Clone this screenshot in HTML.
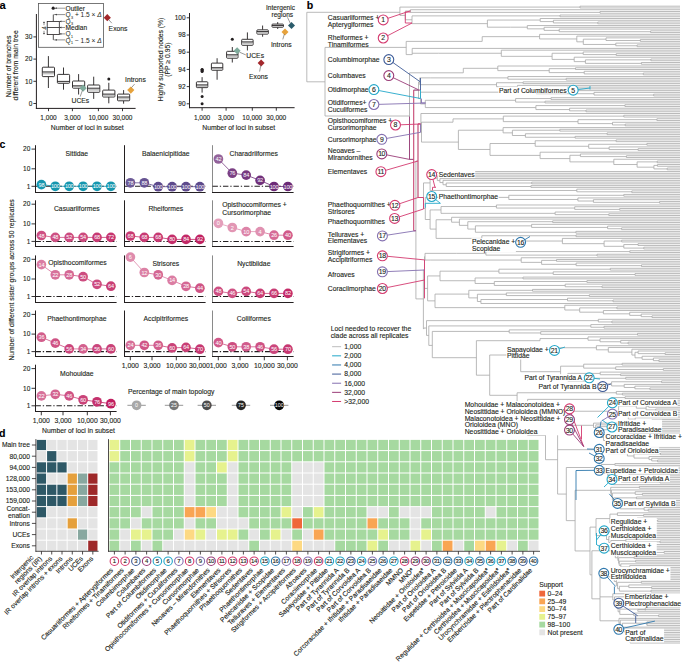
<!DOCTYPE html>
<html><head><meta charset="utf-8"><style>
html,body{margin:0;padding:0;background:#fff;overflow:hidden;width:685px;height:664px;}
svg{display:block;font-family:"Liberation Sans",sans-serif;}
</style></head><body>
<svg width="685" height="664" viewBox="0 0 685 664">
<rect width="685" height="664" fill="#fff"/>
<text x="-0.40" y="9.20" font-size="11.2" font-weight="bold" fill="#000" stroke="#000" stroke-width="0.12">a</text>
<line x1="36.40" y1="14.00" x2="36.40" y2="108.90" stroke="#231f20" stroke-width="1.0"/>
<line x1="35.90" y1="108.40" x2="135.60" y2="108.40" stroke="#231f20" stroke-width="1.0"/>
<line x1="33.40" y1="103.50" x2="36.10" y2="103.50" stroke="#231f20" stroke-width="0.9"/>
<text x="32.30" y="105.78" font-size="6.5" text-anchor="end" fill="#231f20" stroke="#231f20" stroke-width="0.12">0</text>
<line x1="33.40" y1="81.30" x2="36.10" y2="81.30" stroke="#231f20" stroke-width="0.9"/>
<text x="32.30" y="83.58" font-size="6.5" text-anchor="end" fill="#231f20" stroke="#231f20" stroke-width="0.12">10</text>
<line x1="33.40" y1="59.10" x2="36.10" y2="59.10" stroke="#231f20" stroke-width="0.9"/>
<text x="32.30" y="61.37" font-size="6.5" text-anchor="end" fill="#231f20" stroke="#231f20" stroke-width="0.12">20</text>
<line x1="33.40" y1="36.90" x2="36.10" y2="36.90" stroke="#231f20" stroke-width="0.9"/>
<text x="32.30" y="39.17" font-size="6.5" text-anchor="end" fill="#231f20" stroke="#231f20" stroke-width="0.12">30</text>
<line x1="48.50" y1="108.20" x2="48.50" y2="111.20" stroke="#231f20" stroke-width="0.9"/>
<text x="48.50" y="119.58" font-size="6.5" text-anchor="middle" fill="#231f20" stroke="#231f20" stroke-width="0.12">1,000</text>
<line x1="72.40" y1="108.20" x2="72.40" y2="111.20" stroke="#231f20" stroke-width="0.9"/>
<text x="72.40" y="119.58" font-size="6.5" text-anchor="middle" fill="#231f20" stroke="#231f20" stroke-width="0.12">3,000</text>
<line x1="98.40" y1="108.20" x2="98.40" y2="111.20" stroke="#231f20" stroke-width="0.9"/>
<text x="98.40" y="119.58" font-size="6.5" text-anchor="middle" fill="#231f20" stroke="#231f20" stroke-width="0.12">10,000</text>
<line x1="122.50" y1="108.20" x2="122.50" y2="111.20" stroke="#231f20" stroke-width="0.9"/>
<text x="122.50" y="119.58" font-size="6.5" text-anchor="middle" fill="#231f20" stroke="#231f20" stroke-width="0.12">30,000</text>
<text x="87.30" y="129.98" font-size="6.8" text-anchor="middle" fill="#231f20" stroke="#231f20" stroke-width="0.12">Number of loci in subset</text>
<g transform="translate(10.8,66.5) rotate(-90)"><text x="0.00" y="0.00" font-size="6.8" text-anchor="middle" fill="#231f20" stroke="#231f20" stroke-width="0.12">Number of branches</text></g>
<g transform="translate(17.8,65.4) rotate(-90)"><text x="0.00" y="0.00" font-size="6.8" text-anchor="middle" fill="#231f20" stroke="#231f20" stroke-width="0.12">different from main tree</text></g>
<line x1="48.40" y1="56.10" x2="48.40" y2="67.20" stroke="#231f20" stroke-width="0.9"/>
<line x1="48.40" y1="76.60" x2="48.40" y2="88.00" stroke="#231f20" stroke-width="0.9"/>
<rect x="42.30" y="67.20" width="12.20" height="9.40" fill="#ffffff" stroke="#231f20" stroke-width="0.9" rx="0.8"/>
<rect x="42.90" y="72.20" width="11.00" height="2.20" fill="#c4c4c4"/>
<line x1="42.30" y1="71.90" x2="54.50" y2="71.90" stroke="#231f20" stroke-width="0.9"/>
<line x1="63.50" y1="67.50" x2="63.50" y2="74.40" stroke="#231f20" stroke-width="0.9"/>
<line x1="63.50" y1="83.30" x2="63.50" y2="89.70" stroke="#231f20" stroke-width="0.9"/>
<rect x="57.40" y="74.40" width="12.20" height="8.90" fill="#ffffff" stroke="#231f20" stroke-width="0.9" rx="0.8"/>
<rect x="58.00" y="81.70" width="11.00" height="1.00" fill="#c4c4c4"/>
<line x1="57.40" y1="81.40" x2="69.60" y2="81.40" stroke="#231f20" stroke-width="0.9"/>
<line x1="78.60" y1="74.10" x2="78.60" y2="81.00" stroke="#231f20" stroke-width="0.9"/>
<line x1="78.60" y1="88.20" x2="78.60" y2="94.50" stroke="#231f20" stroke-width="0.9"/>
<rect x="72.50" y="81.00" width="12.20" height="7.20" fill="#ffffff" stroke="#231f20" stroke-width="0.9" rx="0.8"/>
<rect x="73.10" y="86.10" width="11.00" height="1.50" fill="#c4c4c4"/>
<line x1="72.50" y1="85.80" x2="84.70" y2="85.80" stroke="#231f20" stroke-width="0.9"/>
<line x1="93.70" y1="76.70" x2="93.70" y2="85.00" stroke="#231f20" stroke-width="0.9"/>
<line x1="93.70" y1="92.30" x2="93.70" y2="98.90" stroke="#231f20" stroke-width="0.9"/>
<rect x="87.60" y="85.00" width="12.20" height="7.30" fill="#ffffff" stroke="#231f20" stroke-width="0.9" rx="0.8"/>
<rect x="88.20" y="88.50" width="11.00" height="2.20" fill="#c4c4c4"/>
<line x1="87.60" y1="88.20" x2="99.80" y2="88.20" stroke="#231f20" stroke-width="0.9"/>
<line x1="108.80" y1="82.80" x2="108.80" y2="90.10" stroke="#231f20" stroke-width="0.9"/>
<line x1="108.80" y1="97.00" x2="108.80" y2="103.30" stroke="#231f20" stroke-width="0.9"/>
<rect x="102.70" y="90.10" width="12.20" height="6.90" fill="#ffffff" stroke="#231f20" stroke-width="0.9" rx="0.8"/>
<rect x="103.30" y="94.40" width="11.00" height="2.00" fill="#c4c4c4"/>
<line x1="102.70" y1="94.10" x2="114.90" y2="94.10" stroke="#231f20" stroke-width="0.9"/>
<circle cx="108.80" cy="78.90" r="1.50" fill="#231f20"/>
<line x1="123.60" y1="90.10" x2="123.60" y2="94.10" stroke="#231f20" stroke-width="0.9"/>
<line x1="123.60" y1="100.80" x2="123.60" y2="103.70" stroke="#231f20" stroke-width="0.9"/>
<rect x="117.50" y="94.10" width="12.20" height="6.70" fill="#ffffff" stroke="#231f20" stroke-width="0.9" rx="0.8"/>
<rect x="118.10" y="97.30" width="11.00" height="2.20" fill="#c4c4c4"/>
<line x1="117.50" y1="97.00" x2="129.70" y2="97.00" stroke="#231f20" stroke-width="0.9"/>
<path d="M103.70,17.70L107.30,14.10L110.90,17.70L107.30,21.30Z" fill="#a3282c"/>
<line x1="108.60" y1="19.50" x2="111.80" y2="23.20" stroke="#555" stroke-width="0.6"/>
<text x="108.60" y="31.38" font-size="6.8" fill="#231f20" stroke="#231f20" stroke-width="0.12">Exons</text>
<path d="M79.50,88.20L83.10,84.60L86.70,88.20L83.10,91.80Z" fill="#7fab9c"/>
<line x1="82.40" y1="90.40" x2="80.20" y2="96.60" stroke="#555" stroke-width="0.6"/>
<text x="80.40" y="103.18" font-size="6.8" text-anchor="middle" fill="#231f20" stroke="#231f20" stroke-width="0.12">UCEs</text>
<path d="M127.20,90.10L130.80,86.50L134.40,90.10L130.80,93.70Z" fill="#e6a23c"/>
<line x1="131.50" y1="87.60" x2="134.60" y2="84.10" stroke="#555" stroke-width="0.6"/>
<text x="125.00" y="82.28" font-size="6.8" fill="#231f20" stroke="#231f20" stroke-width="0.12">Introns</text>
<rect x="38.50" y="3.40" width="64.90" height="43.90" fill="#fff" stroke="#555" stroke-width="0.8"/>
<circle cx="53.20" cy="8.20" r="1.60" fill="#231f20"/>
<line x1="53.30" y1="14.60" x2="53.30" y2="21.40" stroke="#231f20" stroke-width="0.8"/>
<line x1="53.30" y1="34.60" x2="53.30" y2="39.90" stroke="#231f20" stroke-width="0.8"/>
<rect x="47.20" y="21.40" width="12.10" height="13.20" fill="#fff" stroke="#231f20" stroke-width="0.8"/>
<line x1="47.20" y1="27.50" x2="59.30" y2="27.50" stroke="#231f20" stroke-width="0.8"/>
<line x1="55.20" y1="8.20" x2="65.00" y2="8.20" stroke="#555" stroke-width="0.6"/>
<path d="M54.9,8.2l1.8,-0.9v1.8z" fill="#333"/>
<line x1="53.60" y1="14.60" x2="65.00" y2="14.60" stroke="#444" stroke-width="0.6"/>
<path d="M55.00,14.60l1.8,-0.9v1.8z" fill="#333"/>
<line x1="59.60" y1="21.40" x2="65.00" y2="21.40" stroke="#444" stroke-width="0.6"/>
<path d="M59.60,21.40l1.8,-0.9v1.8z" fill="#333"/>
<line x1="59.60" y1="27.50" x2="65.00" y2="27.50" stroke="#444" stroke-width="0.6"/>
<path d="M59.60,27.50l1.8,-0.9v1.8z" fill="#333"/>
<line x1="59.60" y1="33.90" x2="65.00" y2="33.90" stroke="#444" stroke-width="0.6"/>
<path d="M59.60,33.90l1.8,-0.9v1.8z" fill="#333"/>
<line x1="53.60" y1="39.90" x2="65.00" y2="39.90" stroke="#444" stroke-width="0.6"/>
<path d="M55.00,39.90l1.8,-0.9v1.8z" fill="#333"/>
<line x1="44.00" y1="21.80" x2="44.00" y2="25.20" stroke="#444" stroke-width="0.6"/>
<line x1="44.00" y1="30.80" x2="44.00" y2="34.20" stroke="#444" stroke-width="0.6"/>
<path d="M44,21.4l-0.9,1.6h1.8z M44,34.6l-0.9,-1.6h1.8z" fill="#333"/>
<g transform="translate(45.6,28) rotate(-90)"><text x="0.00" y="0.00" font-size="4.6" text-anchor="middle" fill="#231f20" stroke="#231f20" stroke-width="0.12" font-style="italic">Δ</text></g>
<text x="65.50" y="10.51" font-size="6.6" fill="#231f20" stroke="#231f20" stroke-width="0.12">Outlier</text>
<text x="65.5" y="17.11" font-size="6.6" fill="#231f20">Q<tspan font-size="4.4" dy="1.6">3</tspan><tspan dy="-1.6"> + 1.5 × </tspan><tspan font-style="italic">Δ</tspan></text>
<text x="65.5" y="23.71" font-size="6.6" fill="#231f20">Q<tspan font-size="4.4" dy="1.6">3</tspan></text>
<text x="65.50" y="29.81" font-size="6.6" fill="#231f20" stroke="#231f20" stroke-width="0.12">Median</text>
<text x="65.5" y="36.21" font-size="6.6" fill="#231f20">Q<tspan font-size="4.4" dy="1.6">1</tspan></text>
<text x="65.5" y="42.61" font-size="6.6" fill="#231f20">Q<tspan font-size="4.4" dy="1.6">1</tspan><tspan dy="-1.6"> − 1.5 × </tspan><tspan font-style="italic">Δ</tspan></text>
<line x1="189.50" y1="13.00" x2="189.50" y2="108.20" stroke="#231f20" stroke-width="1.0"/>
<line x1="189.00" y1="107.70" x2="294.60" y2="107.70" stroke="#231f20" stroke-width="1.0"/>
<line x1="186.70" y1="103.80" x2="189.40" y2="103.80" stroke="#231f20" stroke-width="0.9"/>
<text x="185.60" y="106.08" font-size="6.5" text-anchor="end" fill="#231f20" stroke="#231f20" stroke-width="0.12">90</text>
<line x1="186.70" y1="86.60" x2="189.40" y2="86.60" stroke="#231f20" stroke-width="0.9"/>
<text x="185.60" y="88.88" font-size="6.5" text-anchor="end" fill="#231f20" stroke="#231f20" stroke-width="0.12">92</text>
<line x1="186.70" y1="69.40" x2="189.40" y2="69.40" stroke="#231f20" stroke-width="0.9"/>
<text x="185.60" y="71.67" font-size="6.5" text-anchor="end" fill="#231f20" stroke="#231f20" stroke-width="0.12">94</text>
<line x1="186.70" y1="52.20" x2="189.40" y2="52.20" stroke="#231f20" stroke-width="0.9"/>
<text x="185.60" y="54.48" font-size="6.5" text-anchor="end" fill="#231f20" stroke="#231f20" stroke-width="0.12">96</text>
<line x1="186.70" y1="35.00" x2="189.40" y2="35.00" stroke="#231f20" stroke-width="0.9"/>
<text x="185.60" y="37.27" font-size="6.5" text-anchor="end" fill="#231f20" stroke="#231f20" stroke-width="0.12">98</text>
<line x1="186.70" y1="17.80" x2="189.40" y2="17.80" stroke="#231f20" stroke-width="0.9"/>
<text x="185.60" y="20.07" font-size="6.5" text-anchor="end" fill="#231f20" stroke="#231f20" stroke-width="0.12">100</text>
<line x1="202.10" y1="107.70" x2="202.10" y2="110.70" stroke="#231f20" stroke-width="0.9"/>
<text x="202.10" y="119.68" font-size="6.5" text-anchor="middle" fill="#231f20" stroke="#231f20" stroke-width="0.12">1,000</text>
<line x1="226.10" y1="107.70" x2="226.10" y2="110.70" stroke="#231f20" stroke-width="0.9"/>
<text x="226.10" y="119.68" font-size="6.5" text-anchor="middle" fill="#231f20" stroke="#231f20" stroke-width="0.12">3,000</text>
<line x1="252.30" y1="107.70" x2="252.30" y2="110.70" stroke="#231f20" stroke-width="0.9"/>
<text x="252.30" y="119.68" font-size="6.5" text-anchor="middle" fill="#231f20" stroke="#231f20" stroke-width="0.12">10,000</text>
<line x1="276.30" y1="107.70" x2="276.30" y2="110.70" stroke="#231f20" stroke-width="0.9"/>
<text x="276.30" y="119.68" font-size="6.5" text-anchor="middle" fill="#231f20" stroke="#231f20" stroke-width="0.12">30,000</text>
<text x="238.70" y="129.88" font-size="6.8" text-anchor="middle" fill="#231f20" stroke="#231f20" stroke-width="0.12">Number of loci in subset</text>
<g transform="translate(162.8,59.6) rotate(-90)"><text x="0.00" y="0.00" font-size="6.8" text-anchor="middle" fill="#231f20" stroke="#231f20" stroke-width="0.12">Highly supported nodes (%)</text></g>
<g transform="translate(169.8,59.6) rotate(-90)"><text x="0.00" y="0.00" font-size="6.8" text-anchor="middle" fill="#231f20" stroke="#231f20" stroke-width="0.12">(PP ≥ 0.95)</text></g>
<line x1="202.10" y1="77.14" x2="202.10" y2="81.78" stroke="#231f20" stroke-width="0.9"/>
<line x1="202.10" y1="87.63" x2="202.10" y2="92.62" stroke="#231f20" stroke-width="0.9"/>
<rect x="196.40" y="81.78" width="11.40" height="5.85" fill="#ffffff" stroke="#231f20" stroke-width="0.9" rx="0.8"/>
<rect x="197.00" y="85.18" width="10.20" height="1.85" fill="#c4c4c4"/>
<line x1="196.40" y1="84.88" x2="207.80" y2="84.88" stroke="#231f20" stroke-width="0.9"/>
<circle cx="202.10" cy="71.55" r="1.50" fill="#231f20"/>
<circle cx="202.10" cy="70.69" r="1.50" fill="#231f20"/>
<circle cx="202.10" cy="69.83" r="1.50" fill="#231f20"/>
<circle cx="202.10" cy="69.40" r="1.50" fill="#231f20"/>
<circle cx="202.10" cy="96.49" r="1.50" fill="#231f20"/>
<circle cx="202.10" cy="103.80" r="1.50" fill="#231f20"/>
<line x1="217.10" y1="58.22" x2="217.10" y2="63.12" stroke="#231f20" stroke-width="0.9"/>
<line x1="217.10" y1="70.26" x2="217.10" y2="79.72" stroke="#231f20" stroke-width="0.9"/>
<rect x="211.40" y="63.12" width="11.40" height="7.14" fill="#ffffff" stroke="#231f20" stroke-width="0.9" rx="0.8"/>
<rect x="212.00" y="67.98" width="10.20" height="1.68" fill="#c4c4c4"/>
<line x1="211.40" y1="67.68" x2="222.80" y2="67.68" stroke="#231f20" stroke-width="0.9"/>
<line x1="232.30" y1="47.04" x2="232.30" y2="51.34" stroke="#231f20" stroke-width="0.9"/>
<line x1="232.30" y1="58.22" x2="232.30" y2="62.52" stroke="#231f20" stroke-width="0.9"/>
<rect x="226.60" y="51.34" width="11.40" height="6.88" fill="#ffffff" stroke="#231f20" stroke-width="0.9" rx="0.8"/>
<rect x="227.20" y="55.08" width="10.20" height="2.20" fill="#c4c4c4"/>
<line x1="226.60" y1="54.78" x2="238.00" y2="54.78" stroke="#231f20" stroke-width="0.9"/>
<circle cx="232.30" cy="39.30" r="1.50" fill="#231f20"/>
<line x1="247.40" y1="32.42" x2="247.40" y2="39.30" stroke="#231f20" stroke-width="0.9"/>
<line x1="247.40" y1="45.32" x2="247.40" y2="50.48" stroke="#231f20" stroke-width="0.9"/>
<rect x="241.70" y="39.30" width="11.40" height="6.02" fill="#ffffff" stroke="#231f20" stroke-width="0.9" rx="0.8"/>
<rect x="242.30" y="42.18" width="10.20" height="2.20" fill="#c4c4c4"/>
<line x1="241.70" y1="41.88" x2="253.10" y2="41.88" stroke="#231f20" stroke-width="0.9"/>
<line x1="262.60" y1="25.54" x2="262.60" y2="29.84" stroke="#231f20" stroke-width="0.9"/>
<line x1="262.60" y1="34.14" x2="262.60" y2="36.72" stroke="#231f20" stroke-width="0.9"/>
<rect x="256.90" y="29.84" width="11.40" height="4.30" fill="#ffffff" stroke="#231f20" stroke-width="0.9" rx="0.8"/>
<rect x="257.50" y="31.86" width="10.20" height="1.68" fill="#c4c4c4"/>
<line x1="256.90" y1="31.56" x2="268.30" y2="31.56" stroke="#231f20" stroke-width="0.9"/>
<line x1="277.70" y1="22.10" x2="277.70" y2="24.08" stroke="#231f20" stroke-width="0.9"/>
<line x1="277.70" y1="27.26" x2="277.70" y2="28.98" stroke="#231f20" stroke-width="0.9"/>
<rect x="272.00" y="24.08" width="11.40" height="3.18" fill="#ffffff" stroke="#231f20" stroke-width="0.9" rx="0.8"/>
<rect x="272.60" y="25.84" width="10.20" height="0.82" fill="#c4c4c4"/>
<line x1="272.00" y1="25.54" x2="283.40" y2="25.54" stroke="#231f20" stroke-width="0.9"/>
<path d="M288.00,25.40L291.50,21.90L295.00,25.40L291.50,28.90Z" fill="#2b5c6b"/>
<line x1="287.50" y1="17.30" x2="290.30" y2="23.30" stroke="#555" stroke-width="0.6"/>
<text x="280.50" y="10.01" font-size="6.6" text-anchor="middle" fill="#231f20" stroke="#231f20" stroke-width="0.12">Intergenic</text>
<text x="282.30" y="16.51" font-size="6.6" text-anchor="middle" fill="#231f20" stroke="#231f20" stroke-width="0.12">regions</text>
<path d="M281.50,31.90L285.00,28.40L288.50,31.90L285.00,35.40Z" fill="#e6a23c"/>
<line x1="284.40" y1="34.00" x2="282.80" y2="39.40" stroke="#555" stroke-width="0.6"/>
<text x="281.30" y="46.68" font-size="6.8" text-anchor="middle" fill="#231f20" stroke="#231f20" stroke-width="0.12">Introns</text>
<path d="M233.60,50.80L237.10,47.30L240.60,50.80L237.10,54.30Z" fill="#7fab9c"/>
<line x1="239.50" y1="52.20" x2="245.80" y2="54.90" stroke="#555" stroke-width="0.6"/>
<text x="246.30" y="58.28" font-size="6.8" fill="#231f20" stroke="#231f20" stroke-width="0.12">UCEs</text>
<path d="M257.60,63.00L261.10,59.50L264.60,63.00L261.10,66.50Z" fill="#a3282c"/>
<line x1="260.80" y1="65.40" x2="259.60" y2="71.60" stroke="#555" stroke-width="0.6"/>
<text x="258.50" y="78.58" font-size="6.8" text-anchor="middle" fill="#231f20" stroke="#231f20" stroke-width="0.12">Exons</text>
<text x="-0.40" y="147.70" font-size="10.6" font-weight="bold" fill="#000" stroke="#000" stroke-width="0.12">c</text>
<g transform="translate(14.2,280) rotate(-90)"><text x="0.00" y="0.00" font-size="6.8" text-anchor="middle" fill="#231f20" stroke="#231f20" stroke-width="0.12">Number of different sister groups across 50 replicates</text></g>
<line x1="35.50" y1="145.20" x2="35.50" y2="193.00" stroke="#231f20" stroke-width="1.0"/>
<line x1="35.00" y1="192.50" x2="116.60" y2="192.50" stroke="#231f20" stroke-width="1.0"/>
<line x1="31.50" y1="149.10" x2="35.50" y2="149.10" stroke="#231f20" stroke-width="0.9"/>
<text x="30.30" y="151.38" font-size="6.5" text-anchor="end" fill="#231f20" stroke="#231f20" stroke-width="0.12">20</text>
<line x1="31.50" y1="168.80" x2="35.50" y2="168.80" stroke="#231f20" stroke-width="0.9"/>
<text x="30.30" y="171.07" font-size="6.5" text-anchor="end" fill="#231f20" stroke="#231f20" stroke-width="0.12">10</text>
<line x1="31.50" y1="186.30" x2="35.50" y2="186.30" stroke="#231f20" stroke-width="0.9"/>
<text x="30.30" y="188.58" font-size="6.5" text-anchor="end" fill="#231f20" stroke="#231f20" stroke-width="0.12">1</text>
<line x1="35.50" y1="186.30" x2="116.60" y2="186.30" stroke="#231f20" stroke-width="1.05" stroke-dasharray="5.4,1.9,1.3,1.9"/>
<line x1="41.40" y1="184.60" x2="55.30" y2="186.30" stroke="#1596ae" stroke-width="0.8"/>
<line x1="55.30" y1="186.30" x2="69.20" y2="186.30" stroke="#1596ae" stroke-width="0.8"/>
<line x1="69.20" y1="186.30" x2="83.10" y2="186.30" stroke="#1596ae" stroke-width="0.8"/>
<line x1="83.10" y1="186.30" x2="97.00" y2="186.30" stroke="#1596ae" stroke-width="0.8"/>
<line x1="97.00" y1="186.30" x2="110.90" y2="186.30" stroke="#1596ae" stroke-width="0.8"/>
<circle cx="41.40" cy="184.60" r="4.85" fill="#1797af"/>
<text x="41.40" y="186.60" font-size="5.6" text-anchor="middle" fill="#ffffff" stroke="none" letter-spacing="-0.25">98</text>
<circle cx="55.30" cy="186.30" r="4.85" fill="#1596ae"/>
<text x="55.30" y="188.30" font-size="5.6" text-anchor="middle" fill="#ffffff" stroke="none" letter-spacing="-0.25">100</text>
<circle cx="69.20" cy="186.30" r="4.85" fill="#1596ae"/>
<text x="69.20" y="188.30" font-size="5.6" text-anchor="middle" fill="#ffffff" stroke="none" letter-spacing="-0.25">100</text>
<circle cx="83.10" cy="186.30" r="4.85" fill="#1596ae"/>
<text x="83.10" y="188.30" font-size="5.6" text-anchor="middle" fill="#ffffff" stroke="none" letter-spacing="-0.25">100</text>
<circle cx="97.00" cy="186.30" r="4.85" fill="#1596ae"/>
<text x="97.00" y="188.30" font-size="5.6" text-anchor="middle" fill="#ffffff" stroke="none" letter-spacing="-0.25">100</text>
<circle cx="110.90" cy="186.30" r="4.85" fill="#1596ae"/>
<text x="110.90" y="188.30" font-size="5.6" text-anchor="middle" fill="#ffffff" stroke="none" letter-spacing="-0.25">100</text>
<text x="76.80" y="156.08" font-size="6.8" text-anchor="middle" fill="#231f20" stroke="#231f20" stroke-width="0.12">Sittidae</text>
<line x1="124.50" y1="145.20" x2="124.50" y2="193.00" stroke="#231f20" stroke-width="1.0"/>
<line x1="124.00" y1="192.50" x2="205.60" y2="192.50" stroke="#231f20" stroke-width="1.0"/>
<line x1="124.50" y1="186.30" x2="205.60" y2="186.30" stroke="#231f20" stroke-width="1.05" stroke-dasharray="5.4,1.9,1.3,1.9"/>
<line x1="130.40" y1="182.80" x2="144.30" y2="182.80" stroke="#665392" stroke-width="0.8"/>
<line x1="144.30" y1="182.80" x2="158.20" y2="186.70" stroke="#5e4a8c" stroke-width="0.8"/>
<line x1="158.20" y1="186.70" x2="172.10" y2="186.70" stroke="#5e4a8c" stroke-width="0.8"/>
<line x1="172.10" y1="186.70" x2="186.00" y2="186.70" stroke="#5e4a8c" stroke-width="0.8"/>
<line x1="186.00" y1="186.70" x2="199.90" y2="186.70" stroke="#5e4a8c" stroke-width="0.8"/>
<circle cx="130.40" cy="182.80" r="4.85" fill="#6d5b97"/>
<text x="130.40" y="184.80" font-size="5.6" text-anchor="middle" fill="#ffffff" stroke="none" letter-spacing="-0.25">78</text>
<circle cx="144.30" cy="182.80" r="4.85" fill="#665392"/>
<text x="144.30" y="184.80" font-size="5.6" text-anchor="middle" fill="#ffffff" stroke="none" letter-spacing="-0.25">88</text>
<circle cx="158.20" cy="186.70" r="4.85" fill="#5e4a8c"/>
<text x="158.20" y="188.70" font-size="5.6" text-anchor="middle" fill="#ffffff" stroke="none" letter-spacing="-0.25">100</text>
<circle cx="172.10" cy="186.70" r="4.85" fill="#5e4a8c"/>
<text x="172.10" y="188.70" font-size="5.6" text-anchor="middle" fill="#ffffff" stroke="none" letter-spacing="-0.25">100</text>
<circle cx="186.00" cy="186.70" r="4.85" fill="#5e4a8c"/>
<text x="186.00" y="188.70" font-size="5.6" text-anchor="middle" fill="#ffffff" stroke="none" letter-spacing="-0.25">100</text>
<circle cx="199.90" cy="186.70" r="4.85" fill="#5e4a8c"/>
<text x="199.90" y="188.70" font-size="5.6" text-anchor="middle" fill="#ffffff" stroke="none" letter-spacing="-0.25">100</text>
<text x="165.80" y="156.08" font-size="6.8" text-anchor="middle" fill="#231f20" stroke="#231f20" stroke-width="0.12">Balaenicipitidae</text>
<line x1="212.50" y1="145.20" x2="212.50" y2="193.00" stroke="#8a8a8a" stroke-width="1.0"/>
<line x1="212.00" y1="192.50" x2="293.60" y2="192.50" stroke="#231f20" stroke-width="1.0"/>
<line x1="212.50" y1="186.30" x2="293.60" y2="186.30" stroke="#231f20" stroke-width="1.05" stroke-dasharray="5.4,1.9,1.3,1.9"/>
<line x1="218.40" y1="159.00" x2="232.30" y2="173.20" stroke="#7b4084" stroke-width="0.8"/>
<line x1="232.30" y1="173.20" x2="246.20" y2="175.10" stroke="#76387f" stroke-width="0.8"/>
<line x1="246.20" y1="175.10" x2="260.10" y2="180.40" stroke="#71317b" stroke-width="0.8"/>
<line x1="260.10" y1="180.40" x2="274.00" y2="186.50" stroke="#6c2a76" stroke-width="0.8"/>
<line x1="274.00" y1="186.50" x2="287.90" y2="186.50" stroke="#6c2a76" stroke-width="0.8"/>
<circle cx="218.40" cy="159.00" r="4.85" fill="#93629a"/>
<text x="218.40" y="161.00" font-size="5.6" text-anchor="middle" fill="#ffffff" stroke="none" letter-spacing="-0.25">42</text>
<circle cx="232.30" cy="173.20" r="4.85" fill="#7b4084"/>
<text x="232.30" y="175.20" font-size="5.6" text-anchor="middle" fill="#ffffff" stroke="none" letter-spacing="-0.25">76</text>
<circle cx="246.20" cy="175.10" r="4.85" fill="#76387f"/>
<text x="246.20" y="177.10" font-size="5.6" text-anchor="middle" fill="#ffffff" stroke="none" letter-spacing="-0.25">84</text>
<circle cx="260.10" cy="180.40" r="4.85" fill="#71317b"/>
<text x="260.10" y="182.40" font-size="5.6" text-anchor="middle" fill="#ffffff" stroke="none" letter-spacing="-0.25">92</text>
<circle cx="274.00" cy="186.50" r="4.85" fill="#6c2a76"/>
<text x="274.00" y="188.50" font-size="5.6" text-anchor="middle" fill="#ffffff" stroke="none" letter-spacing="-0.25">100</text>
<circle cx="287.90" cy="186.50" r="4.85" fill="#6c2a76"/>
<text x="287.90" y="188.50" font-size="5.6" text-anchor="middle" fill="#ffffff" stroke="none" letter-spacing="-0.25">100</text>
<text x="253.80" y="156.08" font-size="6.8" text-anchor="middle" fill="#231f20" stroke="#231f20" stroke-width="0.12">Charadriiformes</text>
<line x1="35.50" y1="200.30" x2="35.50" y2="247.00" stroke="#231f20" stroke-width="1.0"/>
<line x1="35.00" y1="246.50" x2="116.60" y2="246.50" stroke="#231f20" stroke-width="1.0"/>
<line x1="31.50" y1="204.20" x2="35.50" y2="204.20" stroke="#231f20" stroke-width="0.9"/>
<text x="30.30" y="206.47" font-size="6.5" text-anchor="end" fill="#231f20" stroke="#231f20" stroke-width="0.12">20</text>
<line x1="31.50" y1="223.90" x2="35.50" y2="223.90" stroke="#231f20" stroke-width="0.9"/>
<text x="30.30" y="226.17" font-size="6.5" text-anchor="end" fill="#231f20" stroke="#231f20" stroke-width="0.12">10</text>
<line x1="31.50" y1="241.40" x2="35.50" y2="241.40" stroke="#231f20" stroke-width="0.9"/>
<text x="30.30" y="243.67" font-size="6.5" text-anchor="end" fill="#231f20" stroke="#231f20" stroke-width="0.12">1</text>
<line x1="35.50" y1="241.40" x2="116.60" y2="241.40" stroke="#231f20" stroke-width="1.05" stroke-dasharray="5.4,1.9,1.3,1.9"/>
<line x1="41.40" y1="235.50" x2="55.30" y2="237.40" stroke="#ce4f82" stroke-width="0.8"/>
<line x1="55.30" y1="237.40" x2="69.20" y2="237.40" stroke="#cd4b7f" stroke-width="0.8"/>
<line x1="69.20" y1="237.40" x2="83.10" y2="237.40" stroke="#cc497d" stroke-width="0.8"/>
<line x1="83.10" y1="237.40" x2="97.00" y2="237.40" stroke="#c83972" stroke-width="0.8"/>
<line x1="97.00" y1="237.40" x2="110.90" y2="237.40" stroke="#c7356f" stroke-width="0.8"/>
<circle cx="41.40" cy="235.50" r="4.85" fill="#ce4f82"/>
<text x="41.40" y="237.50" font-size="5.6" text-anchor="middle" fill="#ffffff" stroke="none" letter-spacing="-0.25">48</text>
<circle cx="55.30" cy="237.40" r="4.85" fill="#ce4f82"/>
<text x="55.30" y="239.40" font-size="5.6" text-anchor="middle" fill="#ffffff" stroke="none" letter-spacing="-0.25">48</text>
<circle cx="69.20" cy="237.40" r="4.85" fill="#cd4b7f"/>
<text x="69.20" y="239.40" font-size="5.6" text-anchor="middle" fill="#ffffff" stroke="none" letter-spacing="-0.25">52</text>
<circle cx="83.10" cy="237.40" r="4.85" fill="#cc497d"/>
<text x="83.10" y="239.40" font-size="5.6" text-anchor="middle" fill="#ffffff" stroke="none" letter-spacing="-0.25">54</text>
<circle cx="97.00" cy="237.40" r="4.85" fill="#c83972"/>
<text x="97.00" y="239.40" font-size="5.6" text-anchor="middle" fill="#ffffff" stroke="none" letter-spacing="-0.25">68</text>
<circle cx="110.90" cy="237.40" r="4.85" fill="#c7356f"/>
<text x="110.90" y="239.40" font-size="5.6" text-anchor="middle" fill="#ffffff" stroke="none" letter-spacing="-0.25">72</text>
<text x="76.80" y="211.18" font-size="6.8" text-anchor="middle" fill="#231f20" stroke="#231f20" stroke-width="0.12">Casuariiformes</text>
<line x1="124.50" y1="200.30" x2="124.50" y2="247.00" stroke="#231f20" stroke-width="1.0"/>
<line x1="124.00" y1="246.50" x2="205.60" y2="246.50" stroke="#231f20" stroke-width="1.0"/>
<line x1="124.50" y1="241.40" x2="205.60" y2="241.40" stroke="#231f20" stroke-width="1.05" stroke-dasharray="5.4,1.9,1.3,1.9"/>
<line x1="130.40" y1="236.00" x2="144.30" y2="237.40" stroke="#c83972" stroke-width="0.8"/>
<line x1="144.30" y1="237.40" x2="158.20" y2="237.40" stroke="#c83972" stroke-width="0.8"/>
<line x1="158.20" y1="237.40" x2="172.10" y2="239.40" stroke="#c42d6a" stroke-width="0.8"/>
<line x1="172.10" y1="239.40" x2="186.00" y2="239.40" stroke="#c32967" stroke-width="0.8"/>
<line x1="186.00" y1="239.40" x2="199.90" y2="239.40" stroke="#c12261" stroke-width="0.8"/>
<circle cx="130.40" cy="236.00" r="4.85" fill="#c83972"/>
<text x="130.40" y="238.00" font-size="5.6" text-anchor="middle" fill="#ffffff" stroke="none" letter-spacing="-0.25">68</text>
<circle cx="144.30" cy="237.40" r="4.85" fill="#c83972"/>
<text x="144.30" y="239.40" font-size="5.6" text-anchor="middle" fill="#ffffff" stroke="none" letter-spacing="-0.25">68</text>
<circle cx="158.20" cy="237.40" r="4.85" fill="#c83972"/>
<text x="158.20" y="239.40" font-size="5.6" text-anchor="middle" fill="#ffffff" stroke="none" letter-spacing="-0.25">68</text>
<circle cx="172.10" cy="239.40" r="4.85" fill="#c42d6a"/>
<text x="172.10" y="241.40" font-size="5.6" text-anchor="middle" fill="#ffffff" stroke="none" letter-spacing="-0.25">80</text>
<circle cx="186.00" cy="239.40" r="4.85" fill="#c32967"/>
<text x="186.00" y="241.40" font-size="5.6" text-anchor="middle" fill="#ffffff" stroke="none" letter-spacing="-0.25">84</text>
<circle cx="199.90" cy="239.40" r="4.85" fill="#c12261"/>
<text x="199.90" y="241.40" font-size="5.6" text-anchor="middle" fill="#ffffff" stroke="none" letter-spacing="-0.25">92</text>
<text x="165.80" y="211.18" font-size="6.8" text-anchor="middle" fill="#231f20" stroke="#231f20" stroke-width="0.12">Rheiformes</text>
<line x1="212.50" y1="200.30" x2="212.50" y2="247.00" stroke="#8a8a8a" stroke-width="1.0"/>
<line x1="212.00" y1="246.50" x2="293.60" y2="246.50" stroke="#231f20" stroke-width="1.0"/>
<line x1="212.50" y1="241.40" x2="293.60" y2="241.40" stroke="#231f20" stroke-width="1.05" stroke-dasharray="5.4,1.9,1.3,1.9"/>
<line x1="218.40" y1="223.30" x2="232.30" y2="227.50" stroke="#e296b4" stroke-width="0.8"/>
<line x1="232.30" y1="227.50" x2="246.20" y2="231.60" stroke="#dd84a8" stroke-width="0.8"/>
<line x1="246.20" y1="231.60" x2="260.10" y2="231.60" stroke="#e091b1" stroke-width="0.8"/>
<line x1="260.10" y1="231.60" x2="274.00" y2="235.20" stroke="#d66b96" stroke-width="0.8"/>
<line x1="274.00" y1="235.20" x2="287.90" y2="235.20" stroke="#d15989" stroke-width="0.8"/>
<circle cx="218.40" cy="223.30" r="4.85" fill="#e49fbb"/>
<text x="218.40" y="225.30" font-size="5.6" text-anchor="middle" fill="#ffffff" stroke="none">0</text>
<circle cx="232.30" cy="227.50" r="4.85" fill="#e296b4"/>
<text x="232.30" y="229.50" font-size="5.6" text-anchor="middle" fill="#ffffff" stroke="none">2</text>
<circle cx="246.20" cy="231.60" r="4.85" fill="#dd84a8"/>
<text x="246.20" y="233.60" font-size="5.6" text-anchor="middle" fill="#ffffff" stroke="none" letter-spacing="-0.25">10</text>
<circle cx="260.10" cy="231.60" r="4.85" fill="#e091b1"/>
<text x="260.10" y="233.60" font-size="5.6" text-anchor="middle" fill="#ffffff" stroke="none">4</text>
<circle cx="274.00" cy="235.20" r="4.85" fill="#d66b96"/>
<text x="274.00" y="237.20" font-size="5.6" text-anchor="middle" fill="#ffffff" stroke="none" letter-spacing="-0.25">26</text>
<circle cx="287.90" cy="235.20" r="4.85" fill="#d15989"/>
<text x="287.90" y="237.20" font-size="5.6" text-anchor="middle" fill="#ffffff" stroke="none" letter-spacing="-0.25">40</text>
<line x1="35.50" y1="255.40" x2="35.50" y2="303.00" stroke="#231f20" stroke-width="1.0"/>
<line x1="35.00" y1="302.50" x2="116.60" y2="302.50" stroke="#231f20" stroke-width="1.0"/>
<line x1="31.50" y1="259.30" x2="35.50" y2="259.30" stroke="#231f20" stroke-width="0.9"/>
<text x="30.30" y="261.57" font-size="6.5" text-anchor="end" fill="#231f20" stroke="#231f20" stroke-width="0.12">20</text>
<line x1="31.50" y1="279.00" x2="35.50" y2="279.00" stroke="#231f20" stroke-width="0.9"/>
<text x="30.30" y="281.27" font-size="6.5" text-anchor="end" fill="#231f20" stroke="#231f20" stroke-width="0.12">10</text>
<line x1="31.50" y1="296.50" x2="35.50" y2="296.50" stroke="#231f20" stroke-width="0.9"/>
<text x="30.30" y="298.77" font-size="6.5" text-anchor="end" fill="#231f20" stroke="#231f20" stroke-width="0.12">1</text>
<line x1="35.50" y1="296.50" x2="116.60" y2="296.50" stroke="#231f20" stroke-width="1.05" stroke-dasharray="5.4,1.9,1.3,1.9"/>
<line x1="41.40" y1="264.60" x2="55.30" y2="274.80" stroke="#d7719a" stroke-width="0.8"/>
<line x1="55.30" y1="274.80" x2="69.20" y2="274.80" stroke="#d56894" stroke-width="0.8"/>
<line x1="69.20" y1="274.80" x2="83.10" y2="276.70" stroke="#cd4d80" stroke-width="0.8"/>
<line x1="83.10" y1="276.70" x2="97.00" y2="284.30" stroke="#cd4b7f" stroke-width="0.8"/>
<line x1="97.00" y1="284.30" x2="110.90" y2="286.20" stroke="#c93e75" stroke-width="0.8"/>
<circle cx="41.40" cy="264.60" r="4.85" fill="#db7da3"/>
<text x="41.40" y="266.60" font-size="5.6" text-anchor="middle" fill="#ffffff" stroke="none" letter-spacing="-0.25">14</text>
<circle cx="55.30" cy="274.80" r="4.85" fill="#d7719a"/>
<text x="55.30" y="276.80" font-size="5.6" text-anchor="middle" fill="#ffffff" stroke="none" letter-spacing="-0.25">22</text>
<circle cx="69.20" cy="274.80" r="4.85" fill="#d56894"/>
<text x="69.20" y="276.80" font-size="5.6" text-anchor="middle" fill="#ffffff" stroke="none" letter-spacing="-0.25">28</text>
<circle cx="83.10" cy="276.70" r="4.85" fill="#cd4d80"/>
<text x="83.10" y="278.70" font-size="5.6" text-anchor="middle" fill="#ffffff" stroke="none" letter-spacing="-0.25">50</text>
<circle cx="97.00" cy="284.30" r="4.85" fill="#cd4b7f"/>
<text x="97.00" y="286.30" font-size="5.6" text-anchor="middle" fill="#ffffff" stroke="none" letter-spacing="-0.25">52</text>
<circle cx="110.90" cy="286.20" r="4.85" fill="#c93e75"/>
<text x="110.90" y="288.20" font-size="5.6" text-anchor="middle" fill="#ffffff" stroke="none" letter-spacing="-0.25">64</text>
<line x1="124.50" y1="255.40" x2="124.50" y2="303.00" stroke="#231f20" stroke-width="1.0"/>
<line x1="124.00" y1="302.50" x2="205.60" y2="302.50" stroke="#231f20" stroke-width="1.0"/>
<line x1="124.50" y1="296.50" x2="205.60" y2="296.50" stroke="#231f20" stroke-width="1.05" stroke-dasharray="5.4,1.9,1.3,1.9"/>
<line x1="130.40" y1="257.10" x2="144.30" y2="272.50" stroke="#dc81a5" stroke-width="0.8"/>
<line x1="144.30" y1="272.50" x2="158.20" y2="274.80" stroke="#d46692" stroke-width="0.8"/>
<line x1="158.20" y1="274.80" x2="172.10" y2="280.40" stroke="#db7da3" stroke-width="0.8"/>
<line x1="172.10" y1="280.40" x2="186.00" y2="286.30" stroke="#d56894" stroke-width="0.8"/>
<line x1="186.00" y1="286.30" x2="199.90" y2="288.20" stroke="#cf5485" stroke-width="0.8"/>
<circle cx="130.40" cy="257.10" r="4.85" fill="#df8cad"/>
<text x="130.40" y="259.10" font-size="5.6" text-anchor="middle" fill="#ffffff" stroke="none">6</text>
<circle cx="144.30" cy="272.50" r="4.85" fill="#dc81a5"/>
<text x="144.30" y="274.50" font-size="5.6" text-anchor="middle" fill="#ffffff" stroke="none" letter-spacing="-0.25">12</text>
<circle cx="158.20" cy="274.80" r="4.85" fill="#d46692"/>
<text x="158.20" y="276.80" font-size="5.6" text-anchor="middle" fill="#ffffff" stroke="none" letter-spacing="-0.25">30</text>
<circle cx="172.10" cy="280.40" r="4.85" fill="#db7da3"/>
<text x="172.10" y="282.40" font-size="5.6" text-anchor="middle" fill="#ffffff" stroke="none" letter-spacing="-0.25">14</text>
<circle cx="186.00" cy="286.30" r="4.85" fill="#d56894"/>
<text x="186.00" y="288.30" font-size="5.6" text-anchor="middle" fill="#ffffff" stroke="none" letter-spacing="-0.25">28</text>
<circle cx="199.90" cy="288.20" r="4.85" fill="#cf5485"/>
<text x="199.90" y="290.20" font-size="5.6" text-anchor="middle" fill="#ffffff" stroke="none" letter-spacing="-0.25">44</text>
<text x="165.80" y="266.28" font-size="6.8" text-anchor="middle" fill="#231f20" stroke="#231f20" stroke-width="0.12">Strisores</text>
<line x1="212.50" y1="255.40" x2="212.50" y2="303.00" stroke="#8a8a8a" stroke-width="1.0"/>
<line x1="212.00" y1="302.50" x2="293.60" y2="302.50" stroke="#231f20" stroke-width="1.0"/>
<line x1="212.50" y1="296.50" x2="293.60" y2="296.50" stroke="#231f20" stroke-width="1.05" stroke-dasharray="5.4,1.9,1.3,1.9"/>
<line x1="218.40" y1="291.40" x2="232.30" y2="293.40" stroke="#cf5284" stroke-width="0.8"/>
<line x1="232.30" y1="293.40" x2="246.20" y2="291.40" stroke="#cc497d" stroke-width="0.8"/>
<line x1="246.20" y1="291.40" x2="260.10" y2="293.40" stroke="#c93e75" stroke-width="0.8"/>
<line x1="260.10" y1="293.40" x2="274.00" y2="293.40" stroke="#c83c74" stroke-width="0.8"/>
<line x1="274.00" y1="293.40" x2="287.90" y2="293.40" stroke="#c42b68" stroke-width="0.8"/>
<circle cx="218.40" cy="291.40" r="4.85" fill="#ce4f82"/>
<text x="218.40" y="293.40" font-size="5.6" text-anchor="middle" fill="#ffffff" stroke="none" letter-spacing="-0.25">48</text>
<circle cx="232.30" cy="293.40" r="4.85" fill="#cf5284"/>
<text x="232.30" y="295.40" font-size="5.6" text-anchor="middle" fill="#ffffff" stroke="none" letter-spacing="-0.25">46</text>
<circle cx="246.20" cy="291.40" r="4.85" fill="#cc497d"/>
<text x="246.20" y="293.40" font-size="5.6" text-anchor="middle" fill="#ffffff" stroke="none" letter-spacing="-0.25">54</text>
<circle cx="260.10" cy="293.40" r="4.85" fill="#c93e75"/>
<text x="260.10" y="295.40" font-size="5.6" text-anchor="middle" fill="#ffffff" stroke="none" letter-spacing="-0.25">64</text>
<circle cx="274.00" cy="293.40" r="4.85" fill="#c83c74"/>
<text x="274.00" y="295.40" font-size="5.6" text-anchor="middle" fill="#ffffff" stroke="none" letter-spacing="-0.25">66</text>
<circle cx="287.90" cy="293.40" r="4.85" fill="#c42b68"/>
<text x="287.90" y="295.40" font-size="5.6" text-anchor="middle" fill="#ffffff" stroke="none" letter-spacing="-0.25">82</text>
<text x="253.80" y="266.28" font-size="6.8" text-anchor="middle" fill="#231f20" stroke="#231f20" stroke-width="0.12">Nyctibiidae</text>
<line x1="35.50" y1="310.50" x2="35.50" y2="357.00" stroke="#231f20" stroke-width="1.0"/>
<line x1="35.00" y1="356.50" x2="116.60" y2="356.50" stroke="#231f20" stroke-width="1.0"/>
<line x1="31.50" y1="314.40" x2="35.50" y2="314.40" stroke="#231f20" stroke-width="0.9"/>
<text x="30.30" y="316.67" font-size="6.5" text-anchor="end" fill="#231f20" stroke="#231f20" stroke-width="0.12">20</text>
<line x1="31.50" y1="334.10" x2="35.50" y2="334.10" stroke="#231f20" stroke-width="0.9"/>
<text x="30.30" y="336.37" font-size="6.5" text-anchor="end" fill="#231f20" stroke="#231f20" stroke-width="0.12">10</text>
<line x1="31.50" y1="351.60" x2="35.50" y2="351.60" stroke="#231f20" stroke-width="0.9"/>
<text x="30.30" y="353.87" font-size="6.5" text-anchor="end" fill="#231f20" stroke="#231f20" stroke-width="0.12">1</text>
<line x1="35.50" y1="351.60" x2="116.60" y2="351.60" stroke="#231f20" stroke-width="1.05" stroke-dasharray="5.4,1.9,1.3,1.9"/>
<line x1="41.40" y1="337.20" x2="55.30" y2="343.10" stroke="#cf5284" stroke-width="0.8"/>
<line x1="55.30" y1="343.10" x2="69.20" y2="348.90" stroke="#cb467c" stroke-width="0.8"/>
<line x1="69.20" y1="348.90" x2="83.10" y2="348.90" stroke="#d3608e" stroke-width="0.8"/>
<line x1="83.10" y1="348.90" x2="97.00" y2="348.90" stroke="#cb467c" stroke-width="0.8"/>
<line x1="97.00" y1="348.90" x2="110.90" y2="348.90" stroke="#ca4278" stroke-width="0.8"/>
<circle cx="41.40" cy="337.20" r="4.85" fill="#d25e8c"/>
<text x="41.40" y="339.20" font-size="5.6" text-anchor="middle" fill="#ffffff" stroke="none" letter-spacing="-0.25">36</text>
<circle cx="55.30" cy="343.10" r="4.85" fill="#cf5284"/>
<text x="55.30" y="345.10" font-size="5.6" text-anchor="middle" fill="#ffffff" stroke="none" letter-spacing="-0.25">46</text>
<circle cx="69.20" cy="348.90" r="4.85" fill="#cb467c"/>
<text x="69.20" y="350.90" font-size="5.6" text-anchor="middle" fill="#ffffff" stroke="none" letter-spacing="-0.25">56</text>
<circle cx="83.10" cy="348.90" r="4.85" fill="#d3608e"/>
<text x="83.10" y="350.90" font-size="5.6" text-anchor="middle" fill="#ffffff" stroke="none" letter-spacing="-0.25">34</text>
<circle cx="97.00" cy="348.90" r="4.85" fill="#cb467c"/>
<text x="97.00" y="350.90" font-size="5.6" text-anchor="middle" fill="#ffffff" stroke="none" letter-spacing="-0.25">56</text>
<circle cx="110.90" cy="348.90" r="4.85" fill="#ca4278"/>
<text x="110.90" y="350.90" font-size="5.6" text-anchor="middle" fill="#ffffff" stroke="none" letter-spacing="-0.25">60</text>
<text x="76.80" y="321.38" font-size="6.8" text-anchor="middle" fill="#231f20" stroke="#231f20" stroke-width="0.12">Phaethontimorphae</text>
<line x1="124.50" y1="310.50" x2="124.50" y2="357.00" stroke="#231f20" stroke-width="1.0"/>
<line x1="124.00" y1="356.50" x2="205.60" y2="356.50" stroke="#231f20" stroke-width="1.0"/>
<line x1="124.50" y1="351.60" x2="205.60" y2="351.60" stroke="#231f20" stroke-width="1.05" stroke-dasharray="5.4,1.9,1.3,1.9"/>
<line x1="130.40" y1="345.30" x2="144.30" y2="345.30" stroke="#d05687" stroke-width="0.8"/>
<line x1="144.30" y1="345.30" x2="158.20" y2="345.30" stroke="#d25e8c" stroke-width="0.8"/>
<line x1="158.20" y1="345.30" x2="172.10" y2="347.90" stroke="#ca4278" stroke-width="0.8"/>
<line x1="172.10" y1="347.90" x2="186.00" y2="347.40" stroke="#c93e75" stroke-width="0.8"/>
<line x1="186.00" y1="347.40" x2="199.90" y2="349.20" stroke="#c73771" stroke-width="0.8"/>
<circle cx="130.40" cy="345.30" r="4.85" fill="#d66e98"/>
<text x="130.40" y="347.30" font-size="5.6" text-anchor="middle" fill="#ffffff" stroke="none" letter-spacing="-0.25">24</text>
<circle cx="144.30" cy="345.30" r="4.85" fill="#d05687"/>
<text x="144.30" y="347.30" font-size="5.6" text-anchor="middle" fill="#ffffff" stroke="none" letter-spacing="-0.25">42</text>
<circle cx="158.20" cy="345.30" r="4.85" fill="#d25e8c"/>
<text x="158.20" y="347.30" font-size="5.6" text-anchor="middle" fill="#ffffff" stroke="none" letter-spacing="-0.25">36</text>
<circle cx="172.10" cy="347.90" r="4.85" fill="#ca4278"/>
<text x="172.10" y="349.90" font-size="5.6" text-anchor="middle" fill="#ffffff" stroke="none" letter-spacing="-0.25">60</text>
<circle cx="186.00" cy="347.40" r="4.85" fill="#c93e75"/>
<text x="186.00" y="349.40" font-size="5.6" text-anchor="middle" fill="#ffffff" stroke="none" letter-spacing="-0.25">64</text>
<circle cx="199.90" cy="349.20" r="4.85" fill="#c73771"/>
<text x="199.90" y="351.20" font-size="5.6" text-anchor="middle" fill="#ffffff" stroke="none" letter-spacing="-0.25">70</text>
<text x="165.80" y="321.38" font-size="6.8" text-anchor="middle" fill="#231f20" stroke="#231f20" stroke-width="0.12">Accipitriformes</text>
<line x1="212.50" y1="310.50" x2="212.50" y2="357.00" stroke="#8a8a8a" stroke-width="1.0"/>
<line x1="212.00" y1="356.50" x2="293.60" y2="356.50" stroke="#231f20" stroke-width="1.0"/>
<line x1="212.50" y1="351.60" x2="293.60" y2="351.60" stroke="#231f20" stroke-width="1.05" stroke-dasharray="5.4,1.9,1.3,1.9"/>
<line x1="218.40" y1="342.60" x2="232.30" y2="346.80" stroke="#cd4d80" stroke-width="0.8"/>
<line x1="232.30" y1="346.80" x2="246.20" y2="346.80" stroke="#d15b8b" stroke-width="0.8"/>
<line x1="246.20" y1="346.80" x2="260.10" y2="346.80" stroke="#cf5284" stroke-width="0.8"/>
<line x1="260.10" y1="346.80" x2="274.00" y2="349.20" stroke="#cb467c" stroke-width="0.8"/>
<line x1="274.00" y1="349.20" x2="287.90" y2="349.20" stroke="#c73771" stroke-width="0.8"/>
<circle cx="218.40" cy="342.60" r="4.85" fill="#d15989"/>
<text x="218.40" y="344.60" font-size="5.6" text-anchor="middle" fill="#ffffff" stroke="none" letter-spacing="-0.25">40</text>
<circle cx="232.30" cy="346.80" r="4.85" fill="#cd4d80"/>
<text x="232.30" y="348.80" font-size="5.6" text-anchor="middle" fill="#ffffff" stroke="none" letter-spacing="-0.25">50</text>
<circle cx="246.20" cy="346.80" r="4.85" fill="#d15b8b"/>
<text x="246.20" y="348.80" font-size="5.6" text-anchor="middle" fill="#ffffff" stroke="none" letter-spacing="-0.25">38</text>
<circle cx="260.10" cy="346.80" r="4.85" fill="#cf5284"/>
<text x="260.10" y="348.80" font-size="5.6" text-anchor="middle" fill="#ffffff" stroke="none" letter-spacing="-0.25">46</text>
<circle cx="274.00" cy="349.20" r="4.85" fill="#cb467c"/>
<text x="274.00" y="351.20" font-size="5.6" text-anchor="middle" fill="#ffffff" stroke="none" letter-spacing="-0.25">56</text>
<circle cx="287.90" cy="349.20" r="4.85" fill="#c73771"/>
<text x="287.90" y="351.20" font-size="5.6" text-anchor="middle" fill="#ffffff" stroke="none" letter-spacing="-0.25">70</text>
<text x="253.80" y="321.38" font-size="6.8" text-anchor="middle" fill="#231f20" stroke="#231f20" stroke-width="0.12">Coliiformes</text>
<line x1="35.50" y1="364.70" x2="35.50" y2="412.00" stroke="#231f20" stroke-width="1.0"/>
<line x1="35.00" y1="411.50" x2="116.60" y2="411.50" stroke="#231f20" stroke-width="1.0"/>
<line x1="31.50" y1="368.60" x2="35.50" y2="368.60" stroke="#231f20" stroke-width="0.9"/>
<text x="30.30" y="370.88" font-size="6.5" text-anchor="end" fill="#231f20" stroke="#231f20" stroke-width="0.12">20</text>
<line x1="31.50" y1="388.30" x2="35.50" y2="388.30" stroke="#231f20" stroke-width="0.9"/>
<text x="30.30" y="390.57" font-size="6.5" text-anchor="end" fill="#231f20" stroke="#231f20" stroke-width="0.12">10</text>
<line x1="31.50" y1="405.80" x2="35.50" y2="405.80" stroke="#231f20" stroke-width="0.9"/>
<text x="30.30" y="408.07" font-size="6.5" text-anchor="end" fill="#231f20" stroke="#231f20" stroke-width="0.12">1</text>
<line x1="35.50" y1="405.80" x2="116.60" y2="405.80" stroke="#231f20" stroke-width="1.05" stroke-dasharray="5.4,1.9,1.3,1.9"/>
<line x1="41.40" y1="395.90" x2="55.30" y2="394.30" stroke="#d36390" stroke-width="0.8"/>
<line x1="55.30" y1="394.30" x2="69.20" y2="395.90" stroke="#cf5284" stroke-width="0.8"/>
<line x1="69.20" y1="395.90" x2="83.10" y2="399.80" stroke="#ca4278" stroke-width="0.8"/>
<line x1="83.10" y1="399.80" x2="97.00" y2="401.80" stroke="#c5316d" stroke-width="0.8"/>
<line x1="97.00" y1="401.80" x2="110.90" y2="403.70" stroke="#c01e5f" stroke-width="0.8"/>
<circle cx="41.40" cy="395.90" r="4.85" fill="#d7719a"/>
<text x="41.40" y="397.90" font-size="5.6" text-anchor="middle" fill="#ffffff" stroke="none" letter-spacing="-0.25">22</text>
<circle cx="55.30" cy="394.30" r="4.85" fill="#d36390"/>
<text x="55.30" y="396.30" font-size="5.6" text-anchor="middle" fill="#ffffff" stroke="none" letter-spacing="-0.25">32</text>
<circle cx="69.20" cy="395.90" r="4.85" fill="#cf5284"/>
<text x="69.20" y="397.90" font-size="5.6" text-anchor="middle" fill="#ffffff" stroke="none" letter-spacing="-0.25">46</text>
<circle cx="83.10" cy="399.80" r="4.85" fill="#ca4278"/>
<text x="83.10" y="401.80" font-size="5.6" text-anchor="middle" fill="#ffffff" stroke="none" letter-spacing="-0.25">60</text>
<circle cx="97.00" cy="401.80" r="4.85" fill="#c5316d"/>
<text x="97.00" y="403.80" font-size="5.6" text-anchor="middle" fill="#ffffff" stroke="none" letter-spacing="-0.25">76</text>
<circle cx="110.90" cy="403.70" r="4.85" fill="#c01e5f"/>
<text x="110.90" y="405.70" font-size="5.6" text-anchor="middle" fill="#ffffff" stroke="none" letter-spacing="-0.25">96</text>
<text x="76.80" y="375.58" font-size="6.8" text-anchor="middle" fill="#231f20" stroke="#231f20" stroke-width="0.12">Mohouidae</text>
<text x="222.30" y="207.08" font-size="6.8" fill="#231f20" stroke="#231f20" stroke-width="0.12">Opisthocomiformes +</text>
<text x="222.30" y="214.58" font-size="6.8" fill="#231f20" stroke="#231f20" stroke-width="0.12">Cursorimorphae</text>
<text x="77.50" y="264.98" font-size="6.8" text-anchor="middle" fill="#231f20" stroke="#231f20" stroke-width="0.12">Opisthocomiformes</text>
<line x1="130.30" y1="356.50" x2="130.30" y2="360.30" stroke="#231f20" stroke-width="0.9"/>
<text x="130.30" y="368.48" font-size="6.8" text-anchor="middle" fill="#231f20" stroke="#231f20" stroke-width="0.12">1,000</text>
<line x1="152.00" y1="356.50" x2="152.00" y2="360.30" stroke="#231f20" stroke-width="0.9"/>
<text x="152.00" y="368.48" font-size="6.8" text-anchor="middle" fill="#231f20" stroke="#231f20" stroke-width="0.12">3,000</text>
<line x1="176.30" y1="356.50" x2="176.30" y2="360.30" stroke="#231f20" stroke-width="0.9"/>
<text x="176.30" y="368.48" font-size="6.8" text-anchor="middle" fill="#231f20" stroke="#231f20" stroke-width="0.12">10,000</text>
<line x1="199.40" y1="356.50" x2="199.40" y2="360.30" stroke="#231f20" stroke-width="0.9"/>
<text x="199.40" y="368.48" font-size="6.8" text-anchor="middle" fill="#231f20" stroke="#231f20" stroke-width="0.12">30,000</text>
<line x1="218.30" y1="356.50" x2="218.30" y2="360.30" stroke="#231f20" stroke-width="0.9"/>
<text x="218.30" y="368.48" font-size="6.8" text-anchor="middle" fill="#231f20" stroke="#231f20" stroke-width="0.12">1,000</text>
<line x1="240.00" y1="356.50" x2="240.00" y2="360.30" stroke="#231f20" stroke-width="0.9"/>
<text x="240.00" y="368.48" font-size="6.8" text-anchor="middle" fill="#231f20" stroke="#231f20" stroke-width="0.12">3,000</text>
<line x1="264.30" y1="356.50" x2="264.30" y2="360.30" stroke="#231f20" stroke-width="0.9"/>
<text x="264.30" y="368.48" font-size="6.8" text-anchor="middle" fill="#231f20" stroke="#231f20" stroke-width="0.12">10,000</text>
<line x1="287.40" y1="356.50" x2="287.40" y2="360.30" stroke="#231f20" stroke-width="0.9"/>
<text x="287.40" y="368.48" font-size="6.8" text-anchor="middle" fill="#231f20" stroke="#231f20" stroke-width="0.12">30,000</text>
<line x1="41.30" y1="411.50" x2="41.30" y2="415.30" stroke="#231f20" stroke-width="0.9"/>
<text x="41.30" y="423.48" font-size="6.8" text-anchor="middle" fill="#231f20" stroke="#231f20" stroke-width="0.12">1,000</text>
<line x1="63.00" y1="411.50" x2="63.00" y2="415.30" stroke="#231f20" stroke-width="0.9"/>
<text x="63.00" y="423.48" font-size="6.8" text-anchor="middle" fill="#231f20" stroke="#231f20" stroke-width="0.12">3,000</text>
<line x1="87.30" y1="411.50" x2="87.30" y2="415.30" stroke="#231f20" stroke-width="0.9"/>
<text x="87.30" y="423.48" font-size="6.8" text-anchor="middle" fill="#231f20" stroke="#231f20" stroke-width="0.12">10,000</text>
<line x1="110.40" y1="411.50" x2="110.40" y2="415.30" stroke="#231f20" stroke-width="0.9"/>
<text x="110.40" y="423.48" font-size="6.8" text-anchor="middle" fill="#231f20" stroke="#231f20" stroke-width="0.12">30,000</text>
<text x="78.50" y="432.58" font-size="6.8" text-anchor="middle" fill="#231f20" stroke="#231f20" stroke-width="0.12">Number of loci in subset</text>
<text x="127.90" y="394.38" font-size="6.8" fill="#231f20" stroke="#231f20" stroke-width="0.12">Percentage of main topology</text>
<line x1="127.40" y1="405.30" x2="145.80" y2="405.30" stroke="#8a8a8a" stroke-width="0.9"/>
<circle cx="136.60" cy="405.30" r="4.85" fill="#a8a8a8"/>
<text x="136.60" y="407.20" font-size="5.3" text-anchor="middle" fill="#ffffff" stroke="none">0</text>
<line x1="164.80" y1="405.30" x2="183.20" y2="405.30" stroke="#8a8a8a" stroke-width="0.9"/>
<circle cx="174.00" cy="405.30" r="4.85" fill="#767676"/>
<text x="174.00" y="407.20" font-size="5.3" text-anchor="middle" fill="#ffffff" stroke="none">25</text>
<line x1="197.60" y1="405.30" x2="216.00" y2="405.30" stroke="#8a8a8a" stroke-width="0.9"/>
<circle cx="206.80" cy="405.30" r="4.85" fill="#4d4d4d"/>
<text x="206.80" y="407.20" font-size="5.3" text-anchor="middle" fill="#ffffff" stroke="none">50</text>
<line x1="231.80" y1="405.30" x2="250.20" y2="405.30" stroke="#8a8a8a" stroke-width="0.9"/>
<circle cx="241.00" cy="405.30" r="4.85" fill="#262626"/>
<text x="241.00" y="407.20" font-size="5.3" text-anchor="middle" fill="#ffffff" stroke="none">75</text>
<line x1="270.00" y1="405.30" x2="288.40" y2="405.30" stroke="#8a8a8a" stroke-width="0.9"/>
<circle cx="279.20" cy="405.30" r="4.85" fill="#050505"/>
<text x="279.20" y="407.20" font-size="5.3" text-anchor="middle" fill="#ffffff" stroke="none">100</text>
<text x="-1.00" y="436.60" font-size="10.6" font-weight="bold" fill="#000" stroke="#000" stroke-width="0.12">d</text>
<rect x="36.80" y="439.90" width="9.28" height="10.20" fill="#2e5866"/>
<rect x="47.08" y="439.90" width="9.28" height="10.20" fill="#e4e4e4"/>
<rect x="57.36" y="439.90" width="9.28" height="10.20" fill="#e4e4e4"/>
<rect x="67.64" y="439.90" width="9.28" height="10.20" fill="#e4e4e4"/>
<rect x="77.92" y="439.90" width="9.28" height="10.20" fill="#e4e4e4"/>
<rect x="88.20" y="439.90" width="9.28" height="10.20" fill="#e4e4e4"/>
<rect x="36.80" y="451.10" width="9.28" height="10.20" fill="#e4e4e4"/>
<rect x="47.08" y="451.10" width="9.28" height="10.20" fill="#2e5866"/>
<rect x="57.36" y="451.10" width="9.28" height="10.20" fill="#e4e4e4"/>
<rect x="67.64" y="451.10" width="9.28" height="10.20" fill="#e4e4e4"/>
<rect x="77.92" y="451.10" width="9.28" height="10.20" fill="#e4e4e4"/>
<rect x="88.20" y="451.10" width="9.28" height="10.20" fill="#e4e4e4"/>
<rect x="36.80" y="462.30" width="9.28" height="10.20" fill="#2e5866"/>
<rect x="47.08" y="462.30" width="9.28" height="10.20" fill="#2e5866"/>
<rect x="57.36" y="462.30" width="9.28" height="10.20" fill="#2e5866"/>
<rect x="67.64" y="462.30" width="9.28" height="10.20" fill="#e4e4e4"/>
<rect x="77.92" y="462.30" width="9.28" height="10.20" fill="#e4e4e4"/>
<rect x="88.20" y="462.30" width="9.28" height="10.20" fill="#e4e4e4"/>
<rect x="36.80" y="473.50" width="9.28" height="10.20" fill="#2e5866"/>
<rect x="47.08" y="473.50" width="9.28" height="10.20" fill="#e4e4e4"/>
<rect x="57.36" y="473.50" width="9.28" height="10.20" fill="#e4e4e4"/>
<rect x="67.64" y="473.50" width="9.28" height="10.20" fill="#e5a03c"/>
<rect x="77.92" y="473.50" width="9.28" height="10.20" fill="#88a8a0"/>
<rect x="88.20" y="473.50" width="9.28" height="10.20" fill="#9e2829"/>
<rect x="36.80" y="484.70" width="9.28" height="10.20" fill="#2e5866"/>
<rect x="47.08" y="484.70" width="9.28" height="10.20" fill="#2e5866"/>
<rect x="57.36" y="484.70" width="9.28" height="10.20" fill="#2e5866"/>
<rect x="67.64" y="484.70" width="9.28" height="10.20" fill="#e5a03c"/>
<rect x="77.92" y="484.70" width="9.28" height="10.20" fill="#88a8a0"/>
<rect x="88.20" y="484.70" width="9.28" height="10.20" fill="#9e2829"/>
<rect x="36.80" y="495.90" width="9.28" height="10.20" fill="#2e5866"/>
<rect x="47.08" y="495.90" width="9.28" height="10.20" fill="#2e5866"/>
<rect x="57.36" y="495.90" width="9.28" height="10.20" fill="#2e5866"/>
<rect x="67.64" y="495.90" width="9.28" height="10.20" fill="#e5a03c"/>
<rect x="77.92" y="495.90" width="9.28" height="10.20" fill="#88a8a0"/>
<rect x="88.20" y="495.90" width="9.28" height="10.20" fill="#9e2829"/>
<rect x="36.80" y="507.10" width="9.28" height="10.20" fill="#2e5866"/>
<rect x="47.08" y="507.10" width="9.28" height="10.20" fill="#e4e4e4"/>
<rect x="57.36" y="507.10" width="9.28" height="10.20" fill="#e4e4e4"/>
<rect x="67.64" y="507.10" width="9.28" height="10.20" fill="#e4e4e4"/>
<rect x="77.92" y="507.10" width="9.28" height="10.20" fill="#e4e4e4"/>
<rect x="88.20" y="507.10" width="9.28" height="10.20" fill="#e4e4e4"/>
<rect x="36.80" y="518.30" width="9.28" height="10.20" fill="#e4e4e4"/>
<rect x="47.08" y="518.30" width="9.28" height="10.20" fill="#e4e4e4"/>
<rect x="57.36" y="518.30" width="9.28" height="10.20" fill="#e4e4e4"/>
<rect x="67.64" y="518.30" width="9.28" height="10.20" fill="#e5a03c"/>
<rect x="77.92" y="518.30" width="9.28" height="10.20" fill="#e4e4e4"/>
<rect x="88.20" y="518.30" width="9.28" height="10.20" fill="#e4e4e4"/>
<rect x="36.80" y="529.50" width="9.28" height="10.20" fill="#e4e4e4"/>
<rect x="47.08" y="529.50" width="9.28" height="10.20" fill="#e4e4e4"/>
<rect x="57.36" y="529.50" width="9.28" height="10.20" fill="#e4e4e4"/>
<rect x="67.64" y="529.50" width="9.28" height="10.20" fill="#e4e4e4"/>
<rect x="77.92" y="529.50" width="9.28" height="10.20" fill="#88a8a0"/>
<rect x="88.20" y="529.50" width="9.28" height="10.20" fill="#e4e4e4"/>
<rect x="36.80" y="540.70" width="9.28" height="10.20" fill="#e4e4e4"/>
<rect x="47.08" y="540.70" width="9.28" height="10.20" fill="#e4e4e4"/>
<rect x="57.36" y="540.70" width="9.28" height="10.20" fill="#e4e4e4"/>
<rect x="67.64" y="540.70" width="9.28" height="10.20" fill="#e4e4e4"/>
<rect x="77.92" y="540.70" width="9.28" height="10.20" fill="#e4e4e4"/>
<rect x="88.20" y="540.70" width="9.28" height="10.20" fill="#9e2829"/>
<line x1="35.90" y1="439.10" x2="35.90" y2="551.70" stroke="#231f20" stroke-width="0.8"/>
<line x1="35.50" y1="551.30" x2="98.60" y2="551.30" stroke="#231f20" stroke-width="0.8"/>
<line x1="31.90" y1="445.00" x2="35.90" y2="445.00" stroke="#231f20" stroke-width="0.8"/>
<text x="29.90" y="447.35" font-size="6.7" text-anchor="end" fill="#231f20" stroke="#231f20" stroke-width="0.12">Main tree</text>
<line x1="31.90" y1="456.20" x2="35.90" y2="456.20" stroke="#231f20" stroke-width="0.8"/>
<text x="29.90" y="458.55" font-size="6.7" text-anchor="end" fill="#231f20" stroke="#231f20" stroke-width="0.12">80,000</text>
<line x1="31.90" y1="467.40" x2="35.90" y2="467.40" stroke="#231f20" stroke-width="0.8"/>
<text x="29.90" y="469.75" font-size="6.7" text-anchor="end" fill="#231f20" stroke="#231f20" stroke-width="0.12">94,000</text>
<line x1="31.90" y1="478.60" x2="35.90" y2="478.60" stroke="#231f20" stroke-width="0.8"/>
<text x="29.90" y="480.94" font-size="6.7" text-anchor="end" fill="#231f20" stroke="#231f20" stroke-width="0.12">128,000</text>
<line x1="31.90" y1="489.80" x2="35.90" y2="489.80" stroke="#231f20" stroke-width="0.8"/>
<text x="29.90" y="492.14" font-size="6.7" text-anchor="end" fill="#231f20" stroke="#231f20" stroke-width="0.12">153,000</text>
<line x1="31.90" y1="501.00" x2="35.90" y2="501.00" stroke="#231f20" stroke-width="0.8"/>
<text x="29.90" y="503.35" font-size="6.7" text-anchor="end" fill="#231f20" stroke="#231f20" stroke-width="0.12">159,000</text>
<line x1="31.90" y1="512.20" x2="35.90" y2="512.20" stroke="#231f20" stroke-width="0.8"/>
<line x1="31.90" y1="523.40" x2="35.90" y2="523.40" stroke="#231f20" stroke-width="0.8"/>
<text x="29.90" y="525.75" font-size="6.7" text-anchor="end" fill="#231f20" stroke="#231f20" stroke-width="0.12">Introns</text>
<line x1="31.90" y1="534.60" x2="35.90" y2="534.60" stroke="#231f20" stroke-width="0.8"/>
<text x="29.90" y="536.94" font-size="6.7" text-anchor="end" fill="#231f20" stroke="#231f20" stroke-width="0.12">UCEs</text>
<line x1="31.90" y1="545.80" x2="35.90" y2="545.80" stroke="#231f20" stroke-width="0.8"/>
<text x="29.90" y="548.14" font-size="6.7" text-anchor="end" fill="#231f20" stroke="#231f20" stroke-width="0.12">Exons</text>
<text x="29.90" y="510.94" font-size="6.7" text-anchor="end" fill="#231f20" stroke="#231f20" stroke-width="0.12">Concat-</text>
<text x="29.90" y="518.34" font-size="6.7" text-anchor="end" fill="#231f20" stroke="#231f20" stroke-width="0.12">enation</text>
<line x1="41.44" y1="551.30" x2="41.44" y2="554.50" stroke="#231f20" stroke-width="0.8"/>
<g transform="translate(40.64,557.50) rotate(-45)"><text x="-5.20" y="-4.20" font-size="6.8" text-anchor="end" fill="#231f20" stroke="#231f20" stroke-width="0.12">Intergenic</text><text x="0.00" y="2.40" font-size="6.8" text-anchor="end" fill="#231f20" stroke="#231f20" stroke-width="0.12">regions (IR)</text></g>
<line x1="51.72" y1="551.30" x2="51.72" y2="554.50" stroke="#231f20" stroke-width="0.8"/>
<g transform="translate(50.92,557.50) rotate(-45)"><text x="0.00" y="2.40" font-size="6.8" text-anchor="end" fill="#231f20" stroke="#231f20" stroke-width="0.12">IR overlap introns</text></g>
<line x1="62.00" y1="551.30" x2="62.00" y2="554.50" stroke="#231f20" stroke-width="0.8"/>
<g transform="translate(61.20,557.50) rotate(-45)"><text x="0.00" y="2.40" font-size="6.8" text-anchor="end" fill="#231f20" stroke="#231f20" stroke-width="0.12">IR overlap introns + exons</text></g>
<line x1="72.28" y1="551.30" x2="72.28" y2="554.50" stroke="#231f20" stroke-width="0.8"/>
<g transform="translate(71.48,557.50) rotate(-45)"><text x="0.00" y="2.40" font-size="6.8" text-anchor="end" fill="#231f20" stroke="#231f20" stroke-width="0.12">Introns</text></g>
<line x1="82.56" y1="551.30" x2="82.56" y2="554.50" stroke="#231f20" stroke-width="0.8"/>
<g transform="translate(81.76,557.50) rotate(-45)"><text x="0.00" y="2.40" font-size="6.8" text-anchor="end" fill="#231f20" stroke="#231f20" stroke-width="0.12">UCEs</text></g>
<line x1="92.84" y1="551.30" x2="92.84" y2="554.50" stroke="#231f20" stroke-width="0.8"/>
<g transform="translate(92.04,557.50) rotate(-45)"><text x="0.00" y="2.40" font-size="6.8" text-anchor="end" fill="#231f20" stroke="#231f20" stroke-width="0.12">Exons</text></g>
<rect x="109.50" y="439.90" width="9.75" height="10.20" fill="#e6f28e"/>
<rect x="120.25" y="439.90" width="9.75" height="10.20" fill="#a6d9a0"/>
<rect x="131.00" y="439.90" width="9.75" height="10.20" fill="#a6d9a0"/>
<rect x="141.75" y="439.90" width="9.75" height="10.20" fill="#a6d9a0"/>
<rect x="152.50" y="439.90" width="9.75" height="10.20" fill="#a6d9a0"/>
<rect x="163.25" y="439.90" width="9.75" height="10.20" fill="#a6d9a0"/>
<rect x="174.00" y="439.90" width="9.75" height="10.20" fill="#a6d9a0"/>
<rect x="184.75" y="439.90" width="9.75" height="10.20" fill="#e6f28e"/>
<rect x="195.50" y="439.90" width="9.75" height="10.20" fill="#a6d9a0"/>
<rect x="206.25" y="439.90" width="9.75" height="10.20" fill="#a6d9a0"/>
<rect x="217.00" y="439.90" width="9.75" height="10.20" fill="#a6d9a0"/>
<rect x="227.75" y="439.90" width="9.75" height="10.20" fill="#e6f28e"/>
<rect x="238.50" y="439.90" width="9.75" height="10.20" fill="#a6d9a0"/>
<rect x="249.25" y="439.90" width="9.75" height="10.20" fill="#a6d9a0"/>
<rect x="260.00" y="439.90" width="9.75" height="10.20" fill="#a6d9a0"/>
<rect x="270.75" y="439.90" width="9.75" height="10.20" fill="#a6d9a0"/>
<rect x="281.50" y="439.90" width="9.75" height="10.20" fill="#a6d9a0"/>
<rect x="292.25" y="439.90" width="9.75" height="10.20" fill="#a6d9a0"/>
<rect x="303.00" y="439.90" width="9.75" height="10.20" fill="#a6d9a0"/>
<rect x="313.75" y="439.90" width="9.75" height="10.20" fill="#a6d9a0"/>
<rect x="324.50" y="439.90" width="9.75" height="10.20" fill="#a6d9a0"/>
<rect x="335.25" y="439.90" width="9.75" height="10.20" fill="#a6d9a0"/>
<rect x="346.00" y="439.90" width="9.75" height="10.20" fill="#a6d9a0"/>
<rect x="356.75" y="439.90" width="9.75" height="10.20" fill="#a6d9a0"/>
<rect x="367.50" y="439.90" width="9.75" height="10.20" fill="#a6d9a0"/>
<rect x="378.25" y="439.90" width="9.75" height="10.20" fill="#a6d9a0"/>
<rect x="389.00" y="439.90" width="9.75" height="10.20" fill="#a6d9a0"/>
<rect x="399.75" y="439.90" width="9.75" height="10.20" fill="#a6d9a0"/>
<rect x="410.50" y="439.90" width="9.75" height="10.20" fill="#a6d9a0"/>
<rect x="421.25" y="439.90" width="9.75" height="10.20" fill="#a6d9a0"/>
<rect x="432.00" y="439.90" width="9.75" height="10.20" fill="#a6d9a0"/>
<rect x="442.75" y="439.90" width="9.75" height="10.20" fill="#a6d9a0"/>
<rect x="453.50" y="439.90" width="9.75" height="10.20" fill="#a6d9a0"/>
<rect x="464.25" y="439.90" width="9.75" height="10.20" fill="#a6d9a0"/>
<rect x="475.00" y="439.90" width="9.75" height="10.20" fill="#a6d9a0"/>
<rect x="485.75" y="439.90" width="9.75" height="10.20" fill="#a6d9a0"/>
<rect x="496.50" y="439.90" width="9.75" height="10.20" fill="#a6d9a0"/>
<rect x="507.25" y="439.90" width="9.75" height="10.20" fill="#a6d9a0"/>
<rect x="518.00" y="439.90" width="9.75" height="10.20" fill="#a6d9a0"/>
<rect x="528.75" y="439.90" width="9.75" height="10.20" fill="#a6d9a0"/>
<rect x="109.50" y="451.10" width="9.75" height="10.20" fill="#e6f28e"/>
<rect x="120.25" y="451.10" width="9.75" height="10.20" fill="#a6d9a0"/>
<rect x="131.00" y="451.10" width="9.75" height="10.20" fill="#a6d9a0"/>
<rect x="141.75" y="451.10" width="9.75" height="10.20" fill="#a6d9a0"/>
<rect x="152.50" y="451.10" width="9.75" height="10.20" fill="#a6d9a0"/>
<rect x="163.25" y="451.10" width="9.75" height="10.20" fill="#a6d9a0"/>
<rect x="174.00" y="451.10" width="9.75" height="10.20" fill="#a6d9a0"/>
<rect x="184.75" y="451.10" width="9.75" height="10.20" fill="#e6f28e"/>
<rect x="195.50" y="451.10" width="9.75" height="10.20" fill="#a6d9a0"/>
<rect x="206.25" y="451.10" width="9.75" height="10.20" fill="#a6d9a0"/>
<rect x="217.00" y="451.10" width="9.75" height="10.20" fill="#a6d9a0"/>
<rect x="227.75" y="451.10" width="9.75" height="10.20" fill="#e6f28e"/>
<rect x="238.50" y="451.10" width="9.75" height="10.20" fill="#a6d9a0"/>
<rect x="249.25" y="451.10" width="9.75" height="10.20" fill="#a6d9a0"/>
<rect x="260.00" y="451.10" width="9.75" height="10.20" fill="#a6d9a0"/>
<rect x="270.75" y="451.10" width="9.75" height="10.20" fill="#a6d9a0"/>
<rect x="281.50" y="451.10" width="9.75" height="10.20" fill="#a6d9a0"/>
<rect x="292.25" y="451.10" width="9.75" height="10.20" fill="#a6d9a0"/>
<rect x="303.00" y="451.10" width="9.75" height="10.20" fill="#a6d9a0"/>
<rect x="313.75" y="451.10" width="9.75" height="10.20" fill="#a6d9a0"/>
<rect x="324.50" y="451.10" width="9.75" height="10.20" fill="#a6d9a0"/>
<rect x="335.25" y="451.10" width="9.75" height="10.20" fill="#a6d9a0"/>
<rect x="346.00" y="451.10" width="9.75" height="10.20" fill="#a6d9a0"/>
<rect x="356.75" y="451.10" width="9.75" height="10.20" fill="#a6d9a0"/>
<rect x="367.50" y="451.10" width="9.75" height="10.20" fill="#a6d9a0"/>
<rect x="378.25" y="451.10" width="9.75" height="10.20" fill="#a6d9a0"/>
<rect x="389.00" y="451.10" width="9.75" height="10.20" fill="#a6d9a0"/>
<rect x="399.75" y="451.10" width="9.75" height="10.20" fill="#a6d9a0"/>
<rect x="410.50" y="451.10" width="9.75" height="10.20" fill="#a6d9a0"/>
<rect x="421.25" y="451.10" width="9.75" height="10.20" fill="#a6d9a0"/>
<rect x="432.00" y="451.10" width="9.75" height="10.20" fill="#a6d9a0"/>
<rect x="442.75" y="451.10" width="9.75" height="10.20" fill="#a6d9a0"/>
<rect x="453.50" y="451.10" width="9.75" height="10.20" fill="#a6d9a0"/>
<rect x="464.25" y="451.10" width="9.75" height="10.20" fill="#a6d9a0"/>
<rect x="475.00" y="451.10" width="9.75" height="10.20" fill="#a6d9a0"/>
<rect x="485.75" y="451.10" width="9.75" height="10.20" fill="#a6d9a0"/>
<rect x="496.50" y="451.10" width="9.75" height="10.20" fill="#a6d9a0"/>
<rect x="507.25" y="451.10" width="9.75" height="10.20" fill="#a6d9a0"/>
<rect x="518.00" y="451.10" width="9.75" height="10.20" fill="#a6d9a0"/>
<rect x="528.75" y="451.10" width="9.75" height="10.20" fill="#a6d9a0"/>
<rect x="109.50" y="462.30" width="9.75" height="10.20" fill="#a6d9a0"/>
<rect x="120.25" y="462.30" width="9.75" height="10.20" fill="#a6d9a0"/>
<rect x="131.00" y="462.30" width="9.75" height="10.20" fill="#a6d9a0"/>
<rect x="141.75" y="462.30" width="9.75" height="10.20" fill="#a6d9a0"/>
<rect x="152.50" y="462.30" width="9.75" height="10.20" fill="#a6d9a0"/>
<rect x="163.25" y="462.30" width="9.75" height="10.20" fill="#a6d9a0"/>
<rect x="174.00" y="462.30" width="9.75" height="10.20" fill="#a6d9a0"/>
<rect x="184.75" y="462.30" width="9.75" height="10.20" fill="#e4e4e4"/>
<rect x="195.50" y="462.30" width="9.75" height="10.20" fill="#a6d9a0"/>
<rect x="206.25" y="462.30" width="9.75" height="10.20" fill="#a6d9a0"/>
<rect x="217.00" y="462.30" width="9.75" height="10.20" fill="#e6f28e"/>
<rect x="227.75" y="462.30" width="9.75" height="10.20" fill="#e4e4e4"/>
<rect x="238.50" y="462.30" width="9.75" height="10.20" fill="#a6d9a0"/>
<rect x="249.25" y="462.30" width="9.75" height="10.20" fill="#a6d9a0"/>
<rect x="260.00" y="462.30" width="9.75" height="10.20" fill="#a6d9a0"/>
<rect x="270.75" y="462.30" width="9.75" height="10.20" fill="#a6d9a0"/>
<rect x="281.50" y="462.30" width="9.75" height="10.20" fill="#a6d9a0"/>
<rect x="292.25" y="462.30" width="9.75" height="10.20" fill="#e4e4e4"/>
<rect x="303.00" y="462.30" width="9.75" height="10.20" fill="#e4e4e4"/>
<rect x="313.75" y="462.30" width="9.75" height="10.20" fill="#e4e4e4"/>
<rect x="324.50" y="462.30" width="9.75" height="10.20" fill="#a6d9a0"/>
<rect x="335.25" y="462.30" width="9.75" height="10.20" fill="#a6d9a0"/>
<rect x="346.00" y="462.30" width="9.75" height="10.20" fill="#a6d9a0"/>
<rect x="356.75" y="462.30" width="9.75" height="10.20" fill="#a6d9a0"/>
<rect x="367.50" y="462.30" width="9.75" height="10.20" fill="#a6d9a0"/>
<rect x="378.25" y="462.30" width="9.75" height="10.20" fill="#a6d9a0"/>
<rect x="389.00" y="462.30" width="9.75" height="10.20" fill="#a6d9a0"/>
<rect x="399.75" y="462.30" width="9.75" height="10.20" fill="#a6d9a0"/>
<rect x="410.50" y="462.30" width="9.75" height="10.20" fill="#a6d9a0"/>
<rect x="421.25" y="462.30" width="9.75" height="10.20" fill="#a6d9a0"/>
<rect x="432.00" y="462.30" width="9.75" height="10.20" fill="#a6d9a0"/>
<rect x="442.75" y="462.30" width="9.75" height="10.20" fill="#a6d9a0"/>
<rect x="453.50" y="462.30" width="9.75" height="10.20" fill="#a6d9a0"/>
<rect x="464.25" y="462.30" width="9.75" height="10.20" fill="#a6d9a0"/>
<rect x="475.00" y="462.30" width="9.75" height="10.20" fill="#a6d9a0"/>
<rect x="485.75" y="462.30" width="9.75" height="10.20" fill="#a6d9a0"/>
<rect x="496.50" y="462.30" width="9.75" height="10.20" fill="#a6d9a0"/>
<rect x="507.25" y="462.30" width="9.75" height="10.20" fill="#a6d9a0"/>
<rect x="518.00" y="462.30" width="9.75" height="10.20" fill="#a6d9a0"/>
<rect x="528.75" y="462.30" width="9.75" height="10.20" fill="#a6d9a0"/>
<rect x="109.50" y="473.50" width="9.75" height="10.20" fill="#a6d9a0"/>
<rect x="120.25" y="473.50" width="9.75" height="10.20" fill="#a6d9a0"/>
<rect x="131.00" y="473.50" width="9.75" height="10.20" fill="#a6d9a0"/>
<rect x="141.75" y="473.50" width="9.75" height="10.20" fill="#a6d9a0"/>
<rect x="152.50" y="473.50" width="9.75" height="10.20" fill="#a6d9a0"/>
<rect x="163.25" y="473.50" width="9.75" height="10.20" fill="#a6d9a0"/>
<rect x="174.00" y="473.50" width="9.75" height="10.20" fill="#a6d9a0"/>
<rect x="184.75" y="473.50" width="9.75" height="10.20" fill="#e4e4e4"/>
<rect x="195.50" y="473.50" width="9.75" height="10.20" fill="#a6d9a0"/>
<rect x="206.25" y="473.50" width="9.75" height="10.20" fill="#a6d9a0"/>
<rect x="217.00" y="473.50" width="9.75" height="10.20" fill="#a6d9a0"/>
<rect x="227.75" y="473.50" width="9.75" height="10.20" fill="#e4e4e4"/>
<rect x="238.50" y="473.50" width="9.75" height="10.20" fill="#a6d9a0"/>
<rect x="249.25" y="473.50" width="9.75" height="10.20" fill="#a6d9a0"/>
<rect x="260.00" y="473.50" width="9.75" height="10.20" fill="#a6d9a0"/>
<rect x="270.75" y="473.50" width="9.75" height="10.20" fill="#a6d9a0"/>
<rect x="281.50" y="473.50" width="9.75" height="10.20" fill="#a6d9a0"/>
<rect x="292.25" y="473.50" width="9.75" height="10.20" fill="#e4e4e4"/>
<rect x="303.00" y="473.50" width="9.75" height="10.20" fill="#e4e4e4"/>
<rect x="313.75" y="473.50" width="9.75" height="10.20" fill="#e4e4e4"/>
<rect x="324.50" y="473.50" width="9.75" height="10.20" fill="#a6d9a0"/>
<rect x="335.25" y="473.50" width="9.75" height="10.20" fill="#a6d9a0"/>
<rect x="346.00" y="473.50" width="9.75" height="10.20" fill="#a6d9a0"/>
<rect x="356.75" y="473.50" width="9.75" height="10.20" fill="#a6d9a0"/>
<rect x="367.50" y="473.50" width="9.75" height="10.20" fill="#a6d9a0"/>
<rect x="378.25" y="473.50" width="9.75" height="10.20" fill="#a6d9a0"/>
<rect x="389.00" y="473.50" width="9.75" height="10.20" fill="#a6d9a0"/>
<rect x="399.75" y="473.50" width="9.75" height="10.20" fill="#a6d9a0"/>
<rect x="410.50" y="473.50" width="9.75" height="10.20" fill="#a6d9a0"/>
<rect x="421.25" y="473.50" width="9.75" height="10.20" fill="#a6d9a0"/>
<rect x="432.00" y="473.50" width="9.75" height="10.20" fill="#a6d9a0"/>
<rect x="442.75" y="473.50" width="9.75" height="10.20" fill="#a6d9a0"/>
<rect x="453.50" y="473.50" width="9.75" height="10.20" fill="#a6d9a0"/>
<rect x="464.25" y="473.50" width="9.75" height="10.20" fill="#a6d9a0"/>
<rect x="475.00" y="473.50" width="9.75" height="10.20" fill="#a6d9a0"/>
<rect x="485.75" y="473.50" width="9.75" height="10.20" fill="#a6d9a0"/>
<rect x="496.50" y="473.50" width="9.75" height="10.20" fill="#a6d9a0"/>
<rect x="507.25" y="473.50" width="9.75" height="10.20" fill="#a6d9a0"/>
<rect x="518.00" y="473.50" width="9.75" height="10.20" fill="#a6d9a0"/>
<rect x="528.75" y="473.50" width="9.75" height="10.20" fill="#a6d9a0"/>
<rect x="109.50" y="484.70" width="9.75" height="10.20" fill="#a6d9a0"/>
<rect x="120.25" y="484.70" width="9.75" height="10.20" fill="#a6d9a0"/>
<rect x="131.00" y="484.70" width="9.75" height="10.20" fill="#a6d9a0"/>
<rect x="141.75" y="484.70" width="9.75" height="10.20" fill="#a6d9a0"/>
<rect x="152.50" y="484.70" width="9.75" height="10.20" fill="#a6d9a0"/>
<rect x="163.25" y="484.70" width="9.75" height="10.20" fill="#a6d9a0"/>
<rect x="174.00" y="484.70" width="9.75" height="10.20" fill="#a6d9a0"/>
<rect x="184.75" y="484.70" width="9.75" height="10.20" fill="#e4e4e4"/>
<rect x="195.50" y="484.70" width="9.75" height="10.20" fill="#a6d9a0"/>
<rect x="206.25" y="484.70" width="9.75" height="10.20" fill="#a6d9a0"/>
<rect x="217.00" y="484.70" width="9.75" height="10.20" fill="#a6d9a0"/>
<rect x="227.75" y="484.70" width="9.75" height="10.20" fill="#e4e4e4"/>
<rect x="238.50" y="484.70" width="9.75" height="10.20" fill="#a6d9a0"/>
<rect x="249.25" y="484.70" width="9.75" height="10.20" fill="#a6d9a0"/>
<rect x="260.00" y="484.70" width="9.75" height="10.20" fill="#a6d9a0"/>
<rect x="270.75" y="484.70" width="9.75" height="10.20" fill="#a6d9a0"/>
<rect x="281.50" y="484.70" width="9.75" height="10.20" fill="#a6d9a0"/>
<rect x="292.25" y="484.70" width="9.75" height="10.20" fill="#e4e4e4"/>
<rect x="303.00" y="484.70" width="9.75" height="10.20" fill="#e4e4e4"/>
<rect x="313.75" y="484.70" width="9.75" height="10.20" fill="#e4e4e4"/>
<rect x="324.50" y="484.70" width="9.75" height="10.20" fill="#a6d9a0"/>
<rect x="335.25" y="484.70" width="9.75" height="10.20" fill="#a6d9a0"/>
<rect x="346.00" y="484.70" width="9.75" height="10.20" fill="#a6d9a0"/>
<rect x="356.75" y="484.70" width="9.75" height="10.20" fill="#a6d9a0"/>
<rect x="367.50" y="484.70" width="9.75" height="10.20" fill="#a6d9a0"/>
<rect x="378.25" y="484.70" width="9.75" height="10.20" fill="#a6d9a0"/>
<rect x="389.00" y="484.70" width="9.75" height="10.20" fill="#a6d9a0"/>
<rect x="399.75" y="484.70" width="9.75" height="10.20" fill="#a6d9a0"/>
<rect x="410.50" y="484.70" width="9.75" height="10.20" fill="#a6d9a0"/>
<rect x="421.25" y="484.70" width="9.75" height="10.20" fill="#a6d9a0"/>
<rect x="432.00" y="484.70" width="9.75" height="10.20" fill="#a6d9a0"/>
<rect x="442.75" y="484.70" width="9.75" height="10.20" fill="#a6d9a0"/>
<rect x="453.50" y="484.70" width="9.75" height="10.20" fill="#a6d9a0"/>
<rect x="464.25" y="484.70" width="9.75" height="10.20" fill="#a6d9a0"/>
<rect x="475.00" y="484.70" width="9.75" height="10.20" fill="#a6d9a0"/>
<rect x="485.75" y="484.70" width="9.75" height="10.20" fill="#a6d9a0"/>
<rect x="496.50" y="484.70" width="9.75" height="10.20" fill="#a6d9a0"/>
<rect x="507.25" y="484.70" width="9.75" height="10.20" fill="#a6d9a0"/>
<rect x="518.00" y="484.70" width="9.75" height="10.20" fill="#a6d9a0"/>
<rect x="528.75" y="484.70" width="9.75" height="10.20" fill="#a6d9a0"/>
<rect x="109.50" y="495.90" width="9.75" height="10.20" fill="#a6d9a0"/>
<rect x="120.25" y="495.90" width="9.75" height="10.20" fill="#a6d9a0"/>
<rect x="131.00" y="495.90" width="9.75" height="10.20" fill="#a6d9a0"/>
<rect x="141.75" y="495.90" width="9.75" height="10.20" fill="#a6d9a0"/>
<rect x="152.50" y="495.90" width="9.75" height="10.20" fill="#a6d9a0"/>
<rect x="163.25" y="495.90" width="9.75" height="10.20" fill="#a6d9a0"/>
<rect x="174.00" y="495.90" width="9.75" height="10.20" fill="#a6d9a0"/>
<rect x="184.75" y="495.90" width="9.75" height="10.20" fill="#e4e4e4"/>
<rect x="195.50" y="495.90" width="9.75" height="10.20" fill="#a6d9a0"/>
<rect x="206.25" y="495.90" width="9.75" height="10.20" fill="#a6d9a0"/>
<rect x="217.00" y="495.90" width="9.75" height="10.20" fill="#a6d9a0"/>
<rect x="227.75" y="495.90" width="9.75" height="10.20" fill="#e4e4e4"/>
<rect x="238.50" y="495.90" width="9.75" height="10.20" fill="#a6d9a0"/>
<rect x="249.25" y="495.90" width="9.75" height="10.20" fill="#a6d9a0"/>
<rect x="260.00" y="495.90" width="9.75" height="10.20" fill="#a6d9a0"/>
<rect x="270.75" y="495.90" width="9.75" height="10.20" fill="#a6d9a0"/>
<rect x="281.50" y="495.90" width="9.75" height="10.20" fill="#a6d9a0"/>
<rect x="292.25" y="495.90" width="9.75" height="10.20" fill="#e4e4e4"/>
<rect x="303.00" y="495.90" width="9.75" height="10.20" fill="#e4e4e4"/>
<rect x="313.75" y="495.90" width="9.75" height="10.20" fill="#e4e4e4"/>
<rect x="324.50" y="495.90" width="9.75" height="10.20" fill="#a6d9a0"/>
<rect x="335.25" y="495.90" width="9.75" height="10.20" fill="#a6d9a0"/>
<rect x="346.00" y="495.90" width="9.75" height="10.20" fill="#a6d9a0"/>
<rect x="356.75" y="495.90" width="9.75" height="10.20" fill="#a6d9a0"/>
<rect x="367.50" y="495.90" width="9.75" height="10.20" fill="#a6d9a0"/>
<rect x="378.25" y="495.90" width="9.75" height="10.20" fill="#a6d9a0"/>
<rect x="389.00" y="495.90" width="9.75" height="10.20" fill="#a6d9a0"/>
<rect x="399.75" y="495.90" width="9.75" height="10.20" fill="#a6d9a0"/>
<rect x="410.50" y="495.90" width="9.75" height="10.20" fill="#a6d9a0"/>
<rect x="421.25" y="495.90" width="9.75" height="10.20" fill="#a6d9a0"/>
<rect x="432.00" y="495.90" width="9.75" height="10.20" fill="#a6d9a0"/>
<rect x="442.75" y="495.90" width="9.75" height="10.20" fill="#a6d9a0"/>
<rect x="453.50" y="495.90" width="9.75" height="10.20" fill="#a6d9a0"/>
<rect x="464.25" y="495.90" width="9.75" height="10.20" fill="#a6d9a0"/>
<rect x="475.00" y="495.90" width="9.75" height="10.20" fill="#a6d9a0"/>
<rect x="485.75" y="495.90" width="9.75" height="10.20" fill="#a6d9a0"/>
<rect x="496.50" y="495.90" width="9.75" height="10.20" fill="#a6d9a0"/>
<rect x="507.25" y="495.90" width="9.75" height="10.20" fill="#a6d9a0"/>
<rect x="518.00" y="495.90" width="9.75" height="10.20" fill="#a6d9a0"/>
<rect x="528.75" y="495.90" width="9.75" height="10.20" fill="#a6d9a0"/>
<rect x="109.50" y="507.10" width="9.75" height="10.20" fill="#a6d9a0"/>
<rect x="120.25" y="507.10" width="9.75" height="10.20" fill="#a6d9a0"/>
<rect x="131.00" y="507.10" width="9.75" height="10.20" fill="#a6d9a0"/>
<rect x="141.75" y="507.10" width="9.75" height="10.20" fill="#e4e4e4"/>
<rect x="152.50" y="507.10" width="9.75" height="10.20" fill="#a6d9a0"/>
<rect x="163.25" y="507.10" width="9.75" height="10.20" fill="#a6d9a0"/>
<rect x="174.00" y="507.10" width="9.75" height="10.20" fill="#a6d9a0"/>
<rect x="184.75" y="507.10" width="9.75" height="10.20" fill="#f9a553"/>
<rect x="195.50" y="507.10" width="9.75" height="10.20" fill="#f9a553"/>
<rect x="206.25" y="507.10" width="9.75" height="10.20" fill="#fdd983"/>
<rect x="217.00" y="507.10" width="9.75" height="10.20" fill="#e4e4e4"/>
<rect x="227.75" y="507.10" width="9.75" height="10.20" fill="#e4e4e4"/>
<rect x="238.50" y="507.10" width="9.75" height="10.20" fill="#a6d9a0"/>
<rect x="249.25" y="507.10" width="9.75" height="10.20" fill="#a6d9a0"/>
<rect x="260.00" y="507.10" width="9.75" height="10.20" fill="#a6d9a0"/>
<rect x="270.75" y="507.10" width="9.75" height="10.20" fill="#a6d9a0"/>
<rect x="281.50" y="507.10" width="9.75" height="10.20" fill="#e6f28e"/>
<rect x="292.25" y="507.10" width="9.75" height="10.20" fill="#e4e4e4"/>
<rect x="303.00" y="507.10" width="9.75" height="10.20" fill="#a6d9a0"/>
<rect x="313.75" y="507.10" width="9.75" height="10.20" fill="#e6f28e"/>
<rect x="324.50" y="507.10" width="9.75" height="10.20" fill="#a6d9a0"/>
<rect x="335.25" y="507.10" width="9.75" height="10.20" fill="#a6d9a0"/>
<rect x="346.00" y="507.10" width="9.75" height="10.20" fill="#a6d9a0"/>
<rect x="356.75" y="507.10" width="9.75" height="10.20" fill="#a6d9a0"/>
<rect x="367.50" y="507.10" width="9.75" height="10.20" fill="#e4e4e4"/>
<rect x="378.25" y="507.10" width="9.75" height="10.20" fill="#e4e4e4"/>
<rect x="389.00" y="507.10" width="9.75" height="10.20" fill="#a6d9a0"/>
<rect x="399.75" y="507.10" width="9.75" height="10.20" fill="#e4e4e4"/>
<rect x="410.50" y="507.10" width="9.75" height="10.20" fill="#e4e4e4"/>
<rect x="421.25" y="507.10" width="9.75" height="10.20" fill="#e4e4e4"/>
<rect x="432.00" y="507.10" width="9.75" height="10.20" fill="#a6d9a0"/>
<rect x="442.75" y="507.10" width="9.75" height="10.20" fill="#a6d9a0"/>
<rect x="453.50" y="507.10" width="9.75" height="10.20" fill="#a6d9a0"/>
<rect x="464.25" y="507.10" width="9.75" height="10.20" fill="#a6d9a0"/>
<rect x="475.00" y="507.10" width="9.75" height="10.20" fill="#a6d9a0"/>
<rect x="485.75" y="507.10" width="9.75" height="10.20" fill="#e4e4e4"/>
<rect x="496.50" y="507.10" width="9.75" height="10.20" fill="#a6d9a0"/>
<rect x="507.25" y="507.10" width="9.75" height="10.20" fill="#a6d9a0"/>
<rect x="518.00" y="507.10" width="9.75" height="10.20" fill="#a6d9a0"/>
<rect x="528.75" y="507.10" width="9.75" height="10.20" fill="#a6d9a0"/>
<rect x="109.50" y="518.30" width="9.75" height="10.20" fill="#a6d9a0"/>
<rect x="120.25" y="518.30" width="9.75" height="10.20" fill="#a6d9a0"/>
<rect x="131.00" y="518.30" width="9.75" height="10.20" fill="#e4e4e4"/>
<rect x="141.75" y="518.30" width="9.75" height="10.20" fill="#a6d9a0"/>
<rect x="152.50" y="518.30" width="9.75" height="10.20" fill="#a6d9a0"/>
<rect x="163.25" y="518.30" width="9.75" height="10.20" fill="#a6d9a0"/>
<rect x="174.00" y="518.30" width="9.75" height="10.20" fill="#a6d9a0"/>
<rect x="184.75" y="518.30" width="9.75" height="10.20" fill="#e4e4e4"/>
<rect x="195.50" y="518.30" width="9.75" height="10.20" fill="#a6d9a0"/>
<rect x="206.25" y="518.30" width="9.75" height="10.20" fill="#a6d9a0"/>
<rect x="217.00" y="518.30" width="9.75" height="10.20" fill="#e4e4e4"/>
<rect x="227.75" y="518.30" width="9.75" height="10.20" fill="#e4e4e4"/>
<rect x="238.50" y="518.30" width="9.75" height="10.20" fill="#e4e4e4"/>
<rect x="249.25" y="518.30" width="9.75" height="10.20" fill="#a6d9a0"/>
<rect x="260.00" y="518.30" width="9.75" height="10.20" fill="#a6d9a0"/>
<rect x="270.75" y="518.30" width="9.75" height="10.20" fill="#a6d9a0"/>
<rect x="281.50" y="518.30" width="9.75" height="10.20" fill="#a6d9a0"/>
<rect x="292.25" y="518.30" width="9.75" height="10.20" fill="#ef673a"/>
<rect x="303.00" y="518.30" width="9.75" height="10.20" fill="#a6d9a0"/>
<rect x="313.75" y="518.30" width="9.75" height="10.20" fill="#a6d9a0"/>
<rect x="324.50" y="518.30" width="9.75" height="10.20" fill="#a6d9a0"/>
<rect x="335.25" y="518.30" width="9.75" height="10.20" fill="#a6d9a0"/>
<rect x="346.00" y="518.30" width="9.75" height="10.20" fill="#a6d9a0"/>
<rect x="356.75" y="518.30" width="9.75" height="10.20" fill="#a6d9a0"/>
<rect x="367.50" y="518.30" width="9.75" height="10.20" fill="#f9a553"/>
<rect x="378.25" y="518.30" width="9.75" height="10.20" fill="#a6d9a0"/>
<rect x="389.00" y="518.30" width="9.75" height="10.20" fill="#a6d9a0"/>
<rect x="399.75" y="518.30" width="9.75" height="10.20" fill="#a6d9a0"/>
<rect x="410.50" y="518.30" width="9.75" height="10.20" fill="#e4e4e4"/>
<rect x="421.25" y="518.30" width="9.75" height="10.20" fill="#a6d9a0"/>
<rect x="432.00" y="518.30" width="9.75" height="10.20" fill="#a6d9a0"/>
<rect x="442.75" y="518.30" width="9.75" height="10.20" fill="#a6d9a0"/>
<rect x="453.50" y="518.30" width="9.75" height="10.20" fill="#a6d9a0"/>
<rect x="464.25" y="518.30" width="9.75" height="10.20" fill="#a6d9a0"/>
<rect x="475.00" y="518.30" width="9.75" height="10.20" fill="#a6d9a0"/>
<rect x="485.75" y="518.30" width="9.75" height="10.20" fill="#a6d9a0"/>
<rect x="496.50" y="518.30" width="9.75" height="10.20" fill="#a6d9a0"/>
<rect x="507.25" y="518.30" width="9.75" height="10.20" fill="#a6d9a0"/>
<rect x="518.00" y="518.30" width="9.75" height="10.20" fill="#a6d9a0"/>
<rect x="528.75" y="518.30" width="9.75" height="10.20" fill="#a6d9a0"/>
<rect x="109.50" y="529.50" width="9.75" height="10.20" fill="#a6d9a0"/>
<rect x="120.25" y="529.50" width="9.75" height="10.20" fill="#e4e4e4"/>
<rect x="131.00" y="529.50" width="9.75" height="10.20" fill="#e6f28e"/>
<rect x="141.75" y="529.50" width="9.75" height="10.20" fill="#e6f28e"/>
<rect x="152.50" y="529.50" width="9.75" height="10.20" fill="#a6d9a0"/>
<rect x="163.25" y="529.50" width="9.75" height="10.20" fill="#a6d9a0"/>
<rect x="174.00" y="529.50" width="9.75" height="10.20" fill="#e4e4e4"/>
<rect x="184.75" y="529.50" width="9.75" height="10.20" fill="#fdd983"/>
<rect x="195.50" y="529.50" width="9.75" height="10.20" fill="#e6f28e"/>
<rect x="206.25" y="529.50" width="9.75" height="10.20" fill="#e4e4e4"/>
<rect x="217.00" y="529.50" width="9.75" height="10.20" fill="#e6f28e"/>
<rect x="227.75" y="529.50" width="9.75" height="10.20" fill="#e6f28e"/>
<rect x="238.50" y="529.50" width="9.75" height="10.20" fill="#a6d9a0"/>
<rect x="249.25" y="529.50" width="9.75" height="10.20" fill="#e4e4e4"/>
<rect x="260.00" y="529.50" width="9.75" height="10.20" fill="#a6d9a0"/>
<rect x="270.75" y="529.50" width="9.75" height="10.20" fill="#e6f28e"/>
<rect x="281.50" y="529.50" width="9.75" height="10.20" fill="#e4e4e4"/>
<rect x="292.25" y="529.50" width="9.75" height="10.20" fill="#a6d9a0"/>
<rect x="303.00" y="529.50" width="9.75" height="10.20" fill="#e4e4e4"/>
<rect x="313.75" y="529.50" width="9.75" height="10.20" fill="#f9a553"/>
<rect x="324.50" y="529.50" width="9.75" height="10.20" fill="#a6d9a0"/>
<rect x="335.25" y="529.50" width="9.75" height="10.20" fill="#a6d9a0"/>
<rect x="346.00" y="529.50" width="9.75" height="10.20" fill="#a6d9a0"/>
<rect x="356.75" y="529.50" width="9.75" height="10.20" fill="#a6d9a0"/>
<rect x="367.50" y="529.50" width="9.75" height="10.20" fill="#a6d9a0"/>
<rect x="378.25" y="529.50" width="9.75" height="10.20" fill="#e6f28e"/>
<rect x="389.00" y="529.50" width="9.75" height="10.20" fill="#a6d9a0"/>
<rect x="399.75" y="529.50" width="9.75" height="10.20" fill="#a6d9a0"/>
<rect x="410.50" y="529.50" width="9.75" height="10.20" fill="#e4e4e4"/>
<rect x="421.25" y="529.50" width="9.75" height="10.20" fill="#e6f28e"/>
<rect x="432.00" y="529.50" width="9.75" height="10.20" fill="#a6d9a0"/>
<rect x="442.75" y="529.50" width="9.75" height="10.20" fill="#a6d9a0"/>
<rect x="453.50" y="529.50" width="9.75" height="10.20" fill="#a6d9a0"/>
<rect x="464.25" y="529.50" width="9.75" height="10.20" fill="#a6d9a0"/>
<rect x="475.00" y="529.50" width="9.75" height="10.20" fill="#a6d9a0"/>
<rect x="485.75" y="529.50" width="9.75" height="10.20" fill="#a6d9a0"/>
<rect x="496.50" y="529.50" width="9.75" height="10.20" fill="#a6d9a0"/>
<rect x="507.25" y="529.50" width="9.75" height="10.20" fill="#a6d9a0"/>
<rect x="518.00" y="529.50" width="9.75" height="10.20" fill="#a6d9a0"/>
<rect x="528.75" y="529.50" width="9.75" height="10.20" fill="#a6d9a0"/>
<rect x="109.50" y="540.70" width="9.75" height="10.20" fill="#a6d9a0"/>
<rect x="120.25" y="540.70" width="9.75" height="10.20" fill="#e4e4e4"/>
<rect x="131.00" y="540.70" width="9.75" height="10.20" fill="#a6d9a0"/>
<rect x="141.75" y="540.70" width="9.75" height="10.20" fill="#e4e4e4"/>
<rect x="152.50" y="540.70" width="9.75" height="10.20" fill="#a6d9a0"/>
<rect x="163.25" y="540.70" width="9.75" height="10.20" fill="#e4e4e4"/>
<rect x="174.00" y="540.70" width="9.75" height="10.20" fill="#e4e4e4"/>
<rect x="184.75" y="540.70" width="9.75" height="10.20" fill="#e4e4e4"/>
<rect x="195.50" y="540.70" width="9.75" height="10.20" fill="#e4e4e4"/>
<rect x="206.25" y="540.70" width="9.75" height="10.20" fill="#e4e4e4"/>
<rect x="217.00" y="540.70" width="9.75" height="10.20" fill="#e4e4e4"/>
<rect x="227.75" y="540.70" width="9.75" height="10.20" fill="#e4e4e4"/>
<rect x="238.50" y="540.70" width="9.75" height="10.20" fill="#e4e4e4"/>
<rect x="249.25" y="540.70" width="9.75" height="10.20" fill="#a6d9a0"/>
<rect x="260.00" y="540.70" width="9.75" height="10.20" fill="#e4e4e4"/>
<rect x="270.75" y="540.70" width="9.75" height="10.20" fill="#e4e4e4"/>
<rect x="281.50" y="540.70" width="9.75" height="10.20" fill="#e4e4e4"/>
<rect x="292.25" y="540.70" width="9.75" height="10.20" fill="#fdd983"/>
<rect x="303.00" y="540.70" width="9.75" height="10.20" fill="#e4e4e4"/>
<rect x="313.75" y="540.70" width="9.75" height="10.20" fill="#e4e4e4"/>
<rect x="324.50" y="540.70" width="9.75" height="10.20" fill="#e4e4e4"/>
<rect x="335.25" y="540.70" width="9.75" height="10.20" fill="#a6d9a0"/>
<rect x="346.00" y="540.70" width="9.75" height="10.20" fill="#a6d9a0"/>
<rect x="356.75" y="540.70" width="9.75" height="10.20" fill="#a6d9a0"/>
<rect x="367.50" y="540.70" width="9.75" height="10.20" fill="#e6f28e"/>
<rect x="378.25" y="540.70" width="9.75" height="10.20" fill="#a6d9a0"/>
<rect x="389.00" y="540.70" width="9.75" height="10.20" fill="#e4e4e4"/>
<rect x="399.75" y="540.70" width="9.75" height="10.20" fill="#e4e4e4"/>
<rect x="410.50" y="540.70" width="9.75" height="10.20" fill="#e6f28e"/>
<rect x="421.25" y="540.70" width="9.75" height="10.20" fill="#e4e4e4"/>
<rect x="432.00" y="540.70" width="9.75" height="10.20" fill="#a6d9a0"/>
<rect x="442.75" y="540.70" width="9.75" height="10.20" fill="#f9a553"/>
<rect x="453.50" y="540.70" width="9.75" height="10.20" fill="#e4e4e4"/>
<rect x="464.25" y="540.70" width="9.75" height="10.20" fill="#a6d9a0"/>
<rect x="475.00" y="540.70" width="9.75" height="10.20" fill="#fdd983"/>
<rect x="485.75" y="540.70" width="9.75" height="10.20" fill="#f9a553"/>
<rect x="496.50" y="540.70" width="9.75" height="10.20" fill="#e6f28e"/>
<rect x="507.25" y="540.70" width="9.75" height="10.20" fill="#e4e4e4"/>
<rect x="518.00" y="540.70" width="9.75" height="10.20" fill="#a6d9a0"/>
<rect x="528.75" y="540.70" width="9.75" height="10.20" fill="#e4e4e4"/>
<line x1="108.50" y1="439.10" x2="108.50" y2="551.70" stroke="#231f20" stroke-width="0.8"/>
<line x1="108.10" y1="551.30" x2="540.00" y2="551.30" stroke="#231f20" stroke-width="0.8"/>
<line x1="114.38" y1="551.30" x2="114.38" y2="554.50" stroke="#231f20" stroke-width="0.8"/>
<circle cx="114.38" cy="561.20" r="4.25" fill="#fff" stroke="#d43a6f" stroke-width="1.1"/>
<text x="114.38" y="563.30" font-size="6.0" text-anchor="middle" fill="#231f20" stroke="#231f20" stroke-width="0.12">1</text>
<g transform="translate(111.78,569.00) rotate(-45)"><text x="0.00" y="2.40" font-size="6.8" text-anchor="end" fill="#231f20" stroke="#231f20" stroke-width="0.12">Casuariiformes + Apterygiformes</text></g>
<line x1="125.12" y1="551.30" x2="125.12" y2="554.50" stroke="#231f20" stroke-width="0.8"/>
<circle cx="125.12" cy="561.20" r="4.25" fill="#fff" stroke="#d43a6f" stroke-width="1.1"/>
<text x="125.12" y="563.30" font-size="6.0" text-anchor="middle" fill="#231f20" stroke="#231f20" stroke-width="0.12">2</text>
<g transform="translate(122.53,569.00) rotate(-45)"><text x="0.00" y="2.40" font-size="6.8" text-anchor="end" fill="#231f20" stroke="#231f20" stroke-width="0.12">Rheiformes + Tinamiformes</text></g>
<line x1="135.88" y1="551.30" x2="135.88" y2="554.50" stroke="#231f20" stroke-width="0.8"/>
<circle cx="135.88" cy="561.20" r="4.25" fill="#fff" stroke="#3e5b97" stroke-width="1.1"/>
<text x="135.88" y="563.30" font-size="6.0" text-anchor="middle" fill="#231f20" stroke="#231f20" stroke-width="0.12">3</text>
<g transform="translate(133.28,569.00) rotate(-45)"><text x="0.00" y="2.40" font-size="6.8" text-anchor="end" fill="#231f20" stroke="#231f20" stroke-width="0.12">Columbimorphae</text></g>
<line x1="146.62" y1="551.30" x2="146.62" y2="554.50" stroke="#231f20" stroke-width="0.8"/>
<circle cx="146.62" cy="561.20" r="4.25" fill="#fff" stroke="#9a3c78" stroke-width="1.1"/>
<text x="146.62" y="563.30" font-size="6.0" text-anchor="middle" fill="#231f20" stroke="#231f20" stroke-width="0.12">4</text>
<g transform="translate(144.03,569.00) rotate(-45)"><text x="0.00" y="2.40" font-size="6.8" text-anchor="end" fill="#231f20" stroke="#231f20" stroke-width="0.12">Columbaves</text></g>
<line x1="157.38" y1="551.30" x2="157.38" y2="554.50" stroke="#231f20" stroke-width="0.8"/>
<circle cx="157.38" cy="561.20" r="4.25" fill="#fff" stroke="#22a7c9" stroke-width="1.1"/>
<text x="157.38" y="563.30" font-size="6.0" text-anchor="middle" fill="#231f20" stroke="#231f20" stroke-width="0.12">5</text>
<g transform="translate(154.78,569.00) rotate(-45)"><text x="0.00" y="2.40" font-size="6.8" text-anchor="end" fill="#231f20" stroke="#231f20" stroke-width="0.12">Part of Columbiformes</text></g>
<line x1="168.12" y1="551.30" x2="168.12" y2="554.50" stroke="#231f20" stroke-width="0.8"/>
<circle cx="168.12" cy="561.20" r="4.25" fill="#fff" stroke="#22a7c9" stroke-width="1.1"/>
<text x="168.12" y="563.30" font-size="6.0" text-anchor="middle" fill="#231f20" stroke="#231f20" stroke-width="0.12">6</text>
<g transform="translate(165.53,569.00) rotate(-45)"><text x="0.00" y="2.40" font-size="6.8" text-anchor="end" fill="#231f20" stroke="#231f20" stroke-width="0.12">Otidimorphae</text></g>
<line x1="178.88" y1="551.30" x2="178.88" y2="554.50" stroke="#231f20" stroke-width="0.8"/>
<circle cx="178.88" cy="561.20" r="4.25" fill="#fff" stroke="#8470b0" stroke-width="1.1"/>
<text x="178.88" y="563.30" font-size="6.0" text-anchor="middle" fill="#231f20" stroke="#231f20" stroke-width="0.12">7</text>
<g transform="translate(176.28,569.00) rotate(-45)"><text x="0.00" y="2.40" font-size="6.8" text-anchor="end" fill="#231f20" stroke="#231f20" stroke-width="0.12">Otidiformes + Cuculiformes</text></g>
<line x1="189.62" y1="551.30" x2="189.62" y2="554.50" stroke="#231f20" stroke-width="0.8"/>
<circle cx="189.62" cy="561.20" r="4.25" fill="#fff" stroke="#d43a6f" stroke-width="1.1"/>
<text x="189.62" y="563.30" font-size="6.0" text-anchor="middle" fill="#231f20" stroke="#231f20" stroke-width="0.12">8</text>
<g transform="translate(187.03,569.00) rotate(-45)"><text x="0.00" y="2.40" font-size="6.8" text-anchor="end" fill="#231f20" stroke="#231f20" stroke-width="0.12">Opisthocomiformes + Cursorimorphae</text></g>
<line x1="200.38" y1="551.30" x2="200.38" y2="554.50" stroke="#231f20" stroke-width="0.8"/>
<circle cx="200.38" cy="561.20" r="4.25" fill="#fff" stroke="#8470b0" stroke-width="1.1"/>
<text x="200.38" y="563.30" font-size="6.0" text-anchor="middle" fill="#231f20" stroke="#231f20" stroke-width="0.12">9</text>
<g transform="translate(197.78,569.00) rotate(-45)"><text x="0.00" y="2.40" font-size="6.8" text-anchor="end" fill="#231f20" stroke="#231f20" stroke-width="0.12">Cursorimorphae</text></g>
<line x1="211.12" y1="551.30" x2="211.12" y2="554.50" stroke="#231f20" stroke-width="0.8"/>
<circle cx="211.12" cy="561.20" r="4.25" fill="#fff" stroke="#9a3c78" stroke-width="1.1"/>
<text x="210.93" y="563.30" font-size="6.0" text-anchor="middle" fill="#231f20" stroke="#231f20" stroke-width="0.12" letter-spacing="-0.4">10</text>
<g transform="translate(208.53,569.00) rotate(-45)"><text x="0.00" y="2.40" font-size="6.8" text-anchor="end" fill="#231f20" stroke="#231f20" stroke-width="0.12">Neoaves – Mirandornithes</text></g>
<line x1="221.88" y1="551.30" x2="221.88" y2="554.50" stroke="#231f20" stroke-width="0.8"/>
<circle cx="221.88" cy="561.20" r="4.25" fill="#fff" stroke="#d43a6f" stroke-width="1.1"/>
<text x="221.68" y="563.30" font-size="6.0" text-anchor="middle" fill="#231f20" stroke="#231f20" stroke-width="0.12" letter-spacing="-0.4">11</text>
<g transform="translate(219.28,569.00) rotate(-45)"><text x="0.00" y="2.40" font-size="6.8" text-anchor="end" fill="#231f20" stroke="#231f20" stroke-width="0.12">Elementaves</text></g>
<line x1="232.62" y1="551.30" x2="232.62" y2="554.50" stroke="#231f20" stroke-width="0.8"/>
<circle cx="232.62" cy="561.20" r="4.25" fill="#fff" stroke="#d43a6f" stroke-width="1.1"/>
<text x="232.43" y="563.30" font-size="6.0" text-anchor="middle" fill="#231f20" stroke="#231f20" stroke-width="0.12" letter-spacing="-0.4">12</text>
<g transform="translate(230.03,569.00) rotate(-45)"><text x="0.00" y="2.40" font-size="6.8" text-anchor="end" fill="#231f20" stroke="#231f20" stroke-width="0.12">Phaethoquornithes + Strisores</text></g>
<line x1="243.38" y1="551.30" x2="243.38" y2="554.50" stroke="#231f20" stroke-width="0.8"/>
<circle cx="243.38" cy="561.20" r="4.25" fill="#fff" stroke="#d43a6f" stroke-width="1.1"/>
<text x="243.18" y="563.30" font-size="6.0" text-anchor="middle" fill="#231f20" stroke="#231f20" stroke-width="0.12" letter-spacing="-0.4">13</text>
<g transform="translate(240.78,569.00) rotate(-45)"><text x="0.00" y="2.40" font-size="6.8" text-anchor="end" fill="#231f20" stroke="#231f20" stroke-width="0.12">Phaethoquornithes</text></g>
<line x1="254.12" y1="551.30" x2="254.12" y2="554.50" stroke="#231f20" stroke-width="0.8"/>
<circle cx="254.12" cy="561.20" r="4.25" fill="#fff" stroke="#d43a6f" stroke-width="1.1"/>
<text x="253.93" y="563.30" font-size="6.0" text-anchor="middle" fill="#231f20" stroke="#231f20" stroke-width="0.12" letter-spacing="-0.4">14</text>
<g transform="translate(251.53,569.00) rotate(-45)"><text x="0.00" y="2.40" font-size="6.8" text-anchor="end" fill="#231f20" stroke="#231f20" stroke-width="0.12">Sedentaves</text></g>
<line x1="264.88" y1="551.30" x2="264.88" y2="554.50" stroke="#231f20" stroke-width="0.8"/>
<circle cx="264.88" cy="561.20" r="4.25" fill="#fff" stroke="#22a7c9" stroke-width="1.1"/>
<text x="264.68" y="563.30" font-size="6.0" text-anchor="middle" fill="#231f20" stroke="#231f20" stroke-width="0.12" letter-spacing="-0.4">15</text>
<g transform="translate(262.27,569.00) rotate(-45)"><text x="0.00" y="2.40" font-size="6.8" text-anchor="end" fill="#231f20" stroke="#231f20" stroke-width="0.12">Phaethontimorphae</text></g>
<line x1="275.62" y1="551.30" x2="275.62" y2="554.50" stroke="#231f20" stroke-width="0.8"/>
<circle cx="275.62" cy="561.20" r="4.25" fill="#fff" stroke="#2f78ad" stroke-width="1.1"/>
<text x="275.43" y="563.30" font-size="6.0" text-anchor="middle" fill="#231f20" stroke="#231f20" stroke-width="0.12" letter-spacing="-0.4">16</text>
<g transform="translate(273.02,569.00) rotate(-45)"><text x="0.00" y="2.40" font-size="6.8" text-anchor="end" fill="#231f20" stroke="#231f20" stroke-width="0.12">Pelecanidae + Scopidae</text></g>
<line x1="286.38" y1="551.30" x2="286.38" y2="554.50" stroke="#231f20" stroke-width="0.8"/>
<circle cx="286.38" cy="561.20" r="4.25" fill="#fff" stroke="#8470b0" stroke-width="1.1"/>
<text x="286.18" y="563.30" font-size="6.0" text-anchor="middle" fill="#231f20" stroke="#231f20" stroke-width="0.12" letter-spacing="-0.4">17</text>
<g transform="translate(283.77,569.00) rotate(-45)"><text x="0.00" y="2.40" font-size="6.8" text-anchor="end" fill="#231f20" stroke="#231f20" stroke-width="0.12">Telluraves + Elementaves</text></g>
<line x1="297.12" y1="551.30" x2="297.12" y2="554.50" stroke="#231f20" stroke-width="0.8"/>
<circle cx="297.12" cy="561.20" r="4.25" fill="#fff" stroke="#d43a6f" stroke-width="1.1"/>
<text x="296.93" y="563.30" font-size="6.0" text-anchor="middle" fill="#231f20" stroke="#231f20" stroke-width="0.12" letter-spacing="-0.4">18</text>
<g transform="translate(294.52,569.00) rotate(-45)"><text x="0.00" y="2.40" font-size="6.8" text-anchor="end" fill="#231f20" stroke="#231f20" stroke-width="0.12">Strigiformes + Accipitriformes</text></g>
<line x1="307.88" y1="551.30" x2="307.88" y2="554.50" stroke="#231f20" stroke-width="0.8"/>
<circle cx="307.88" cy="561.20" r="4.25" fill="#fff" stroke="#8470b0" stroke-width="1.1"/>
<text x="307.68" y="563.30" font-size="6.0" text-anchor="middle" fill="#231f20" stroke="#231f20" stroke-width="0.12" letter-spacing="-0.4">19</text>
<g transform="translate(305.27,569.00) rotate(-45)"><text x="0.00" y="2.40" font-size="6.8" text-anchor="end" fill="#231f20" stroke="#231f20" stroke-width="0.12">Afroaves</text></g>
<line x1="318.62" y1="551.30" x2="318.62" y2="554.50" stroke="#231f20" stroke-width="0.8"/>
<circle cx="318.62" cy="561.20" r="4.25" fill="#fff" stroke="#d43a6f" stroke-width="1.1"/>
<text x="318.43" y="563.30" font-size="6.0" text-anchor="middle" fill="#231f20" stroke="#231f20" stroke-width="0.12" letter-spacing="-0.4">20</text>
<g transform="translate(316.02,569.00) rotate(-45)"><text x="0.00" y="2.40" font-size="6.8" text-anchor="end" fill="#231f20" stroke="#231f20" stroke-width="0.12">Coraciimorphae</text></g>
<line x1="329.38" y1="551.30" x2="329.38" y2="554.50" stroke="#231f20" stroke-width="0.8"/>
<circle cx="329.38" cy="561.20" r="4.25" fill="#fff" stroke="#22a7c9" stroke-width="1.1"/>
<text x="329.18" y="563.30" font-size="6.0" text-anchor="middle" fill="#231f20" stroke="#231f20" stroke-width="0.12" letter-spacing="-0.4">21</text>
<g transform="translate(326.77,569.00) rotate(-45)"><text x="0.00" y="2.40" font-size="6.8" text-anchor="end" fill="#231f20" stroke="#231f20" stroke-width="0.12">Sapayoidae + Pittidae</text></g>
<line x1="340.12" y1="551.30" x2="340.12" y2="554.50" stroke="#231f20" stroke-width="0.8"/>
<circle cx="340.12" cy="561.20" r="4.25" fill="#fff" stroke="#22a7c9" stroke-width="1.1"/>
<text x="339.93" y="563.30" font-size="6.0" text-anchor="middle" fill="#231f20" stroke="#231f20" stroke-width="0.12" letter-spacing="-0.4">22</text>
<g transform="translate(337.52,569.00) rotate(-45)"><text x="0.00" y="2.40" font-size="6.8" text-anchor="end" fill="#231f20" stroke="#231f20" stroke-width="0.12">Part of Tyrannida A</text></g>
<line x1="350.88" y1="551.30" x2="350.88" y2="554.50" stroke="#231f20" stroke-width="0.8"/>
<circle cx="350.88" cy="561.20" r="4.25" fill="#fff" stroke="#3e5b97" stroke-width="1.1"/>
<text x="350.68" y="563.30" font-size="6.0" text-anchor="middle" fill="#231f20" stroke="#231f20" stroke-width="0.12" letter-spacing="-0.4">23</text>
<g transform="translate(348.27,569.00) rotate(-45)"><text x="0.00" y="2.40" font-size="6.8" text-anchor="end" fill="#231f20" stroke="#231f20" stroke-width="0.12">Part of Tyrannida B</text></g>
<line x1="361.62" y1="551.30" x2="361.62" y2="554.50" stroke="#231f20" stroke-width="0.8"/>
<circle cx="361.62" cy="561.20" r="4.25" fill="#fff" stroke="#22a7c9" stroke-width="1.1"/>
<text x="361.43" y="563.30" font-size="6.0" text-anchor="middle" fill="#231f20" stroke="#231f20" stroke-width="0.12" letter-spacing="-0.4">24</text>
<g transform="translate(359.02,569.00) rotate(-45)"><text x="0.00" y="2.40" font-size="6.8" text-anchor="end" fill="#231f20" stroke="#231f20" stroke-width="0.12">Part of Corvoidea A</text></g>
<line x1="372.38" y1="551.30" x2="372.38" y2="554.50" stroke="#231f20" stroke-width="0.8"/>
<circle cx="372.38" cy="561.20" r="4.25" fill="#fff" stroke="#8470b0" stroke-width="1.1"/>
<text x="372.18" y="563.30" font-size="6.0" text-anchor="middle" fill="#231f20" stroke="#231f20" stroke-width="0.12" letter-spacing="-0.4">25</text>
<g transform="translate(369.77,569.00) rotate(-45)"><text x="0.00" y="2.40" font-size="6.8" text-anchor="end" fill="#231f20" stroke="#231f20" stroke-width="0.12">Part of Corvoidea B</text></g>
<line x1="383.12" y1="551.30" x2="383.12" y2="554.50" stroke="#231f20" stroke-width="0.8"/>
<circle cx="383.12" cy="561.20" r="4.25" fill="#fff" stroke="#2f78ad" stroke-width="1.1"/>
<text x="382.93" y="563.30" font-size="6.0" text-anchor="middle" fill="#231f20" stroke="#231f20" stroke-width="0.12" letter-spacing="-0.4">26</text>
<g transform="translate(380.52,569.00) rotate(-45)"><text x="0.00" y="2.40" font-size="6.8" text-anchor="end" fill="#231f20" stroke="#231f20" stroke-width="0.12">Corcoracidae + Ifritidae + Paradisaeidae</text></g>
<line x1="393.88" y1="551.30" x2="393.88" y2="554.50" stroke="#231f20" stroke-width="0.8"/>
<circle cx="393.88" cy="561.20" r="4.25" fill="#fff" stroke="#22a7c9" stroke-width="1.1"/>
<text x="393.68" y="563.30" font-size="6.0" text-anchor="middle" fill="#231f20" stroke="#231f20" stroke-width="0.12" letter-spacing="-0.4">27</text>
<g transform="translate(391.27,569.00) rotate(-45)"><text x="0.00" y="2.40" font-size="6.8" text-anchor="end" fill="#231f20" stroke="#231f20" stroke-width="0.12">Ifritidae + Paradisaeidae</text></g>
<line x1="404.62" y1="551.30" x2="404.62" y2="554.50" stroke="#231f20" stroke-width="0.8"/>
<circle cx="404.62" cy="561.20" r="4.25" fill="#fff" stroke="#d43a6f" stroke-width="1.1"/>
<text x="404.43" y="563.30" font-size="6.0" text-anchor="middle" fill="#231f20" stroke="#231f20" stroke-width="0.12" letter-spacing="-0.4">28</text>
<g transform="translate(402.02,569.00) rotate(-45)"><text x="0.00" y="2.40" font-size="6.8" text-anchor="end" fill="#231f20" stroke="#231f20" stroke-width="0.12">MMNO</text></g>
<line x1="415.38" y1="551.30" x2="415.38" y2="554.50" stroke="#231f20" stroke-width="0.8"/>
<circle cx="415.38" cy="561.20" r="4.25" fill="#fff" stroke="#9a3c78" stroke-width="1.1"/>
<text x="415.18" y="563.30" font-size="6.0" text-anchor="middle" fill="#231f20" stroke="#231f20" stroke-width="0.12" letter-spacing="-0.4">29</text>
<g transform="translate(412.77,569.00) rotate(-45)"><text x="0.00" y="2.40" font-size="6.8" text-anchor="end" fill="#231f20" stroke="#231f20" stroke-width="0.12">MNO*</text></g>
<line x1="426.12" y1="551.30" x2="426.12" y2="554.50" stroke="#231f20" stroke-width="0.8"/>
<circle cx="426.12" cy="561.20" r="4.25" fill="#fff" stroke="#9a3c78" stroke-width="1.1"/>
<text x="425.93" y="563.30" font-size="6.0" text-anchor="middle" fill="#231f20" stroke="#231f20" stroke-width="0.12" letter-spacing="-0.4">30</text>
<g transform="translate(423.52,569.00) rotate(-45)"><text x="0.00" y="2.40" font-size="6.8" text-anchor="end" fill="#231f20" stroke="#231f20" stroke-width="0.12">Neosittidae + Orioloidea*</text></g>
<line x1="436.88" y1="551.30" x2="436.88" y2="554.50" stroke="#231f20" stroke-width="0.8"/>
<circle cx="436.88" cy="561.20" r="4.25" fill="#fff" stroke="#2f78ad" stroke-width="1.1"/>
<text x="436.68" y="563.30" font-size="6.0" text-anchor="middle" fill="#231f20" stroke="#231f20" stroke-width="0.12" letter-spacing="-0.4">31</text>
<g transform="translate(434.27,569.00) rotate(-45)"><text x="0.00" y="2.40" font-size="6.8" text-anchor="end" fill="#231f20" stroke="#231f20" stroke-width="0.12">Part of Orioloidea A</text></g>
<line x1="447.62" y1="551.30" x2="447.62" y2="554.50" stroke="#231f20" stroke-width="0.8"/>
<circle cx="447.62" cy="561.20" r="4.25" fill="#fff" stroke="#2f78ad" stroke-width="1.1"/>
<text x="447.43" y="563.30" font-size="6.0" text-anchor="middle" fill="#231f20" stroke="#231f20" stroke-width="0.12" letter-spacing="-0.4">32</text>
<g transform="translate(445.02,569.00) rotate(-45)"><text x="0.00" y="2.40" font-size="6.8" text-anchor="end" fill="#231f20" stroke="#231f20" stroke-width="0.12">Part of Orioloidea B</text></g>
<line x1="458.38" y1="551.30" x2="458.38" y2="554.50" stroke="#231f20" stroke-width="0.8"/>
<circle cx="458.38" cy="561.20" r="4.25" fill="#fff" stroke="#2f78ad" stroke-width="1.1"/>
<text x="458.18" y="563.30" font-size="6.0" text-anchor="middle" fill="#231f20" stroke="#231f20" stroke-width="0.12" letter-spacing="-0.4">33</text>
<g transform="translate(455.77,569.00) rotate(-45)"><text x="0.00" y="2.40" font-size="6.8" text-anchor="end" fill="#231f20" stroke="#231f20" stroke-width="0.12">Eupetidae + Petroicidae</text></g>
<line x1="469.12" y1="551.30" x2="469.12" y2="554.50" stroke="#231f20" stroke-width="0.8"/>
<circle cx="469.12" cy="561.20" r="4.25" fill="#fff" stroke="#22a7c9" stroke-width="1.1"/>
<text x="468.93" y="563.30" font-size="6.0" text-anchor="middle" fill="#231f20" stroke="#231f20" stroke-width="0.12" letter-spacing="-0.4">34</text>
<g transform="translate(466.52,569.00) rotate(-45)"><text x="0.00" y="2.40" font-size="6.8" text-anchor="end" fill="#231f20" stroke="#231f20" stroke-width="0.12">Part of Sylviida A</text></g>
<line x1="479.88" y1="551.30" x2="479.88" y2="554.50" stroke="#231f20" stroke-width="0.8"/>
<circle cx="479.88" cy="561.20" r="4.25" fill="#fff" stroke="#2f78ad" stroke-width="1.1"/>
<text x="479.68" y="563.30" font-size="6.0" text-anchor="middle" fill="#231f20" stroke="#231f20" stroke-width="0.12" letter-spacing="-0.4">35</text>
<g transform="translate(477.27,569.00) rotate(-45)"><text x="0.00" y="2.40" font-size="6.8" text-anchor="end" fill="#231f20" stroke="#231f20" stroke-width="0.12">Part of Sylviida B</text></g>
<line x1="490.62" y1="551.30" x2="490.62" y2="554.50" stroke="#231f20" stroke-width="0.8"/>
<circle cx="490.62" cy="561.20" r="4.25" fill="#fff" stroke="#22a7c9" stroke-width="1.1"/>
<text x="490.43" y="563.30" font-size="6.0" text-anchor="middle" fill="#231f20" stroke="#231f20" stroke-width="0.12" letter-spacing="-0.4">36</text>
<g transform="translate(488.02,569.00) rotate(-45)"><text x="0.00" y="2.40" font-size="6.8" text-anchor="end" fill="#231f20" stroke="#231f20" stroke-width="0.12">Regulidae + Certhioidea + Muscicapoidea*</text></g>
<line x1="501.38" y1="551.30" x2="501.38" y2="554.50" stroke="#231f20" stroke-width="0.8"/>
<circle cx="501.38" cy="561.20" r="4.25" fill="#fff" stroke="#22a7c9" stroke-width="1.1"/>
<text x="501.18" y="563.30" font-size="6.0" text-anchor="middle" fill="#231f20" stroke="#231f20" stroke-width="0.12" letter-spacing="-0.4">37</text>
<g transform="translate(498.77,569.00) rotate(-45)"><text x="0.00" y="2.40" font-size="6.8" text-anchor="end" fill="#231f20" stroke="#231f20" stroke-width="0.12">Certhioidea + Muscicapoidea*</text></g>
<line x1="512.12" y1="551.30" x2="512.12" y2="554.50" stroke="#231f20" stroke-width="0.8"/>
<circle cx="512.12" cy="561.20" r="4.25" fill="#fff" stroke="#2f78ad" stroke-width="1.1"/>
<text x="511.93" y="563.30" font-size="6.0" text-anchor="middle" fill="#231f20" stroke="#231f20" stroke-width="0.12" letter-spacing="-0.4">38</text>
<g transform="translate(509.52,569.00) rotate(-45)"><text x="0.00" y="2.40" font-size="6.8" text-anchor="end" fill="#231f20" stroke="#231f20" stroke-width="0.12">Urocynchramidae + Estrildoidea*</text></g>
<line x1="522.88" y1="551.30" x2="522.88" y2="554.50" stroke="#231f20" stroke-width="0.8"/>
<circle cx="522.88" cy="561.20" r="4.25" fill="#fff" stroke="#3e5b97" stroke-width="1.1"/>
<text x="522.67" y="563.30" font-size="6.0" text-anchor="middle" fill="#231f20" stroke="#231f20" stroke-width="0.12" letter-spacing="-0.4">39</text>
<g transform="translate(520.27,569.00) rotate(-45)"><text x="0.00" y="2.40" font-size="6.8" text-anchor="end" fill="#231f20" stroke="#231f20" stroke-width="0.12">Emberizidae + Plectrophenacidae</text></g>
<line x1="533.62" y1="551.30" x2="533.62" y2="554.50" stroke="#231f20" stroke-width="0.8"/>
<circle cx="533.62" cy="561.20" r="4.25" fill="#fff" stroke="#2f78ad" stroke-width="1.1"/>
<text x="533.42" y="563.30" font-size="6.0" text-anchor="middle" fill="#231f20" stroke="#231f20" stroke-width="0.12" letter-spacing="-0.4">40</text>
<g transform="translate(531.02,569.00) rotate(-45)"><text x="0.00" y="2.40" font-size="6.8" text-anchor="end" fill="#231f20" stroke="#231f20" stroke-width="0.12">Part of Cardinalidae</text></g>
<text x="539.20" y="586.88" font-size="6.8" fill="#231f20" stroke="#231f20" stroke-width="0.12">Support</text>
<rect x="539.30" y="590.70" width="5.80" height="5.80" fill="#ef673a"/>
<text x="547.50" y="595.98" font-size="6.8" fill="#231f20" stroke="#231f20" stroke-width="0.12">0–24</text>
<rect x="539.30" y="598.45" width="5.80" height="5.80" fill="#f9a553"/>
<text x="547.50" y="603.73" font-size="6.8" fill="#231f20" stroke="#231f20" stroke-width="0.12">25–49</text>
<rect x="539.30" y="606.20" width="5.80" height="5.80" fill="#fdd983"/>
<text x="547.50" y="611.48" font-size="6.8" fill="#231f20" stroke="#231f20" stroke-width="0.12">50–74</text>
<rect x="539.30" y="613.95" width="5.80" height="5.80" fill="#e6f28e"/>
<text x="547.50" y="619.23" font-size="6.8" fill="#231f20" stroke="#231f20" stroke-width="0.12">75–97</text>
<rect x="539.30" y="621.70" width="5.80" height="5.80" fill="#a6d9a0"/>
<text x="547.50" y="626.98" font-size="6.8" fill="#231f20" stroke="#231f20" stroke-width="0.12">98–100</text>
<rect x="539.30" y="629.45" width="5.80" height="5.80" fill="#e4e4e4"/>
<text x="547.50" y="634.73" font-size="6.8" fill="#231f20" stroke="#231f20" stroke-width="0.12">Not present</text>
<path d="M580.0,6.20H680.0M580.0,7.96H680.0M580.0,6.20V7.96M600.0,11.48H680.0M600.0,13.24H680.0M600.0,11.48V13.24M410.4,9.72H680.0M410.4,12.36H600.0M410.4,9.72V12.36M560.0,15.00H680.0M560.0,16.75H680.0M560.0,15.00V16.75M597.8,22.03H680.0M597.8,23.79H680.0M597.8,22.03V23.79M553.4,20.27H680.0M553.4,22.91H597.8M553.4,20.27V22.91M540.2,18.51H680.0M540.2,21.59H553.4M540.2,18.51V21.59M503.9,20.05H540.2M650.6,30.83H680.0M650.6,32.59H680.0M650.6,30.83V32.59M559.2,29.07H680.0M559.2,31.71H650.6M559.2,29.07V31.71M544.1,27.31H680.0M544.1,30.39H559.2M544.1,27.31V30.39M527.3,25.55H680.0M527.3,28.85H544.1M527.3,25.55V28.85M510.4,27.20H527.3M487.4,20.05H503.9M487.4,27.20H510.4M487.4,20.05V27.20M412.0,15.88H560.0M412.0,23.63H487.4M412.0,15.88V23.63M405.3,11.04H410.4M405.3,19.75H412.0M405.3,11.04V19.75M399.9,7.08H580.0M399.9,15.39H405.3M399.9,7.08V15.39M640.3,39.62H680.0M640.3,41.38H680.0M640.3,39.62V41.38M606.0,37.86H680.0M606.0,40.50H640.3M606.0,37.86V40.50M637.1,44.90H680.0M637.1,46.66H680.0M637.1,44.90V46.66M615.8,43.14H680.0M615.8,45.78H637.1M615.8,43.14V45.78M583.3,39.18H606.0M583.3,44.46H615.8M583.3,39.18V44.46M576.8,36.10H680.0M576.8,41.82H583.3M576.8,36.10V41.82M539.6,34.35H680.0M539.6,38.96H576.8M539.6,34.35V38.96M482.2,36.65H539.6M482.2,36.65V41.40M616.2,53.70H680.0M616.2,55.46H680.0M616.2,53.70V55.46M583.2,51.94H680.0M583.2,54.58H616.2M583.2,51.94V54.58M650.9,58.97H680.0M650.9,60.73H680.0M650.9,58.97V60.73M641.4,62.49H680.0M641.4,64.25H680.0M641.4,62.49V64.25M585.4,59.85H650.9M585.4,63.37H641.4M585.4,59.85V63.37M574.2,57.21H680.0M574.2,61.61H585.4M574.2,57.21V61.61M552.1,53.26H583.2M552.1,59.41H574.2M552.1,53.26V59.41M501.3,50.18H680.0M501.3,56.33H552.1M501.3,50.18V56.33M438.5,53.26H501.3M412.2,48.42H680.0M412.2,53.26H438.5M412.2,48.42V54.60M406.2,41.40H482.2M406.2,54.60H412.2M406.2,41.40V54.60M575.5,67.77H680.0M575.5,69.53H680.0M575.5,67.77V69.53M643.3,73.05H680.0M643.3,74.81H680.0M643.3,73.05V74.81M584.2,71.29H680.0M584.2,73.93H643.3M584.2,71.29V73.93M549.2,68.65H575.5M549.2,72.61H584.2M549.2,68.65V72.61M497.8,66.01H680.0M497.8,70.63H549.2M497.8,66.01V70.63M463.3,68.32H497.8M463.3,68.32V72.80M566.2,78.32H680.0M566.2,80.08H680.0M566.2,78.32V80.08M507.9,76.56H680.0M507.9,79.20H566.2M507.9,76.56V79.20M430.5,77.88H507.9M523.1,81.84H680.0M523.1,83.60H680.0M523.1,81.84V83.60M540.0,87.12H680.0M540.0,88.88H680.0M540.0,87.12V88.88M517.5,85.36H680.0M517.5,88.00H540.0M517.5,85.36V88.00M496.5,82.72H523.1M496.5,86.68H517.5M496.5,82.72V86.68M445.0,84.70H496.5M419.7,77.88H430.5M419.7,84.70H445.0M419.7,77.88V84.70M653.7,94.16H680.0M653.7,95.91H680.0M653.7,94.16V95.91M594.0,92.40H680.0M594.0,95.04H653.7M594.0,92.40V95.04M536.3,90.64H680.0M536.3,93.72H594.0M536.3,90.64V93.72M455.0,92.18H536.3M551.0,97.67H680.0M551.0,99.43H680.0M551.0,97.67V99.43M545.0,101.19H680.0M545.0,102.95H680.0M545.0,101.19V102.95M515.6,98.55H551.0M515.6,102.07H545.0M515.6,98.55V102.07M470.0,100.31H515.6M624.9,104.71H680.0M624.9,106.47H680.0M624.9,104.71V106.47M586.0,109.99H680.0M586.0,111.75H680.0M586.0,109.99V111.75M569.6,108.23H680.0M569.6,110.87H586.0M569.6,108.23V110.87M535.9,105.59H624.9M535.9,109.55H569.6M535.9,105.59V109.55M520.0,107.57H535.9M425.3,100.31H470.0M425.3,107.57H520.0M425.3,100.31V107.57M420.5,92.18H455.0M420.5,103.94H425.3M420.5,92.18V103.94M418.5,82.00H419.7M418.5,98.50H420.5M418.5,82.00V98.50M623.8,115.27H680.0M623.8,117.02H680.0M623.8,115.27V117.02M656.9,118.78H680.0M656.9,120.54H680.0M656.9,118.78V120.54M625.2,124.06H680.0M625.2,125.82H680.0M625.2,124.06V125.82M612.5,122.30H680.0M612.5,124.94H625.2M612.5,122.30V124.94M578.0,119.66H656.9M578.0,123.62H612.5M578.0,119.66V123.62M503.3,116.14H623.8M503.3,121.64H578.0M503.3,116.14V121.64M453.0,118.89H503.3M453.0,118.89V122.20M559.8,129.34H680.0M559.8,131.10H680.0M559.8,129.34V131.10M607.1,132.86H680.0M607.1,134.62H680.0M607.1,132.86V134.62M575.1,136.37H680.0M575.1,138.13H680.0M575.1,136.37V138.13M525.4,133.74H607.1M525.4,137.25H575.1M525.4,133.74V137.25M512.4,130.22H559.8M512.4,135.50H525.4M512.4,130.22V135.50M503.1,127.58H680.0M503.1,132.86H512.4M503.1,127.58V132.86M480.0,130.22H503.1M616.1,139.89H680.0M616.1,141.65H680.0M616.1,139.89V141.65M646.9,143.41H680.0M646.9,145.17H680.0M646.9,143.41V145.17M638.1,148.69H680.0M638.1,150.45H680.0M638.1,148.69V150.45M609.1,146.93H680.0M609.1,149.57H638.1M609.1,146.93V149.57M588.7,144.29H646.9M588.7,148.25H609.1M588.7,144.29V148.25M535.2,140.77H616.1M535.2,146.27H588.7M535.2,140.77V146.27M520.0,143.52H535.2M626.4,155.72H680.0M626.4,157.48H680.0M626.4,155.72V157.48M580.4,153.97H680.0M580.4,156.60H626.4M580.4,153.97V156.60M657.2,161.00H680.0M657.2,162.76H680.0M657.2,161.00V162.76M657.4,164.52H680.0M657.4,166.28H680.0M657.4,164.52V166.28M667.2,168.04H680.0M667.2,169.80H680.0M667.2,168.04V169.80M653.9,165.40H657.4M653.9,168.92H667.2M653.9,165.40V168.92M637.1,161.88H657.2M637.1,167.16H653.9M637.1,161.88V167.16M613.8,159.24H680.0M613.8,164.52H637.1M613.8,159.24V164.52M569.9,155.29H580.4M569.9,161.88H613.8M569.9,155.29V161.88M540.1,152.21H680.0M540.1,158.58H569.9M540.1,152.21V158.58M505.0,155.40H540.1M490.0,143.52H520.0M490.0,155.40H505.0M490.0,143.52V155.40M458.4,130.22H480.0M458.4,149.46H490.0M458.4,130.22V149.46M421.5,122.20H453.0M421.5,142.10H458.4M421.5,122.20V142.10M420.9,113.51H680.0M420.9,132.30H421.5M420.9,113.51V132.30M471.6,171.56H680.0M471.6,173.32H680.0M471.6,171.56V173.32M462.9,175.08H680.0M462.9,176.83H680.0M462.9,175.08V176.83M531.7,182.11H680.0M531.7,183.87H680.0M531.7,182.11V183.87M530.9,185.63H680.0M530.9,187.39H680.0M530.9,185.63V187.39M446.2,182.99H531.7M446.2,186.51H530.9M446.2,182.99V186.51M443.0,180.35H680.0M443.0,184.75H446.2M443.0,180.35V184.75M439.9,178.59H680.0M439.9,182.55H443.0M439.9,178.59V182.55M437.3,175.95H462.9M437.3,180.57H439.9M437.3,175.95V180.57M434.1,172.44H471.6M434.1,178.26H437.3M434.1,172.44V178.26M631.8,190.91H680.0M631.8,192.67H680.0M631.8,190.91V192.67M576.8,189.15H680.0M576.8,191.79H631.8M576.8,189.15V191.79M560.0,190.47H576.8M430.1,175.35H434.1M430.1,190.47H560.0M430.1,175.35V190.47M623.8,194.43H680.0M623.8,196.18H680.0M623.8,194.43V196.18M659.6,201.46H680.0M659.6,203.22H680.0M659.6,201.46V203.22M593.4,199.70H680.0M593.4,202.34H659.6M593.4,199.70V202.34M577.9,197.94H680.0M577.9,201.02H593.4M577.9,197.94V201.02M508.8,195.30H623.8M508.8,199.48H577.9M508.8,195.30V199.48M440.4,197.39H508.8M619.7,208.50H680.0M619.7,210.26H680.0M619.7,208.50V210.26M574.7,206.74H680.0M574.7,209.38H619.7M574.7,206.74V209.38M496.4,204.98H680.0M496.4,208.06H574.7M496.4,204.98V208.06M608.8,213.78H680.0M608.8,215.53H680.0M608.8,213.78V215.53M555.1,212.02H680.0M555.1,214.66H608.8M555.1,212.02V214.66M441.0,206.52H496.4M441.0,213.34H555.1M441.0,206.52V213.34M433.5,209.93H441.0M552.7,220.81H680.0M552.7,222.57H680.0M552.7,220.81V222.57M621.6,227.85H680.0M621.6,229.61H680.0M621.6,227.85V229.61M607.6,226.09H680.0M607.6,228.73H621.6M607.6,226.09V228.73M531.6,224.33H680.0M531.6,227.41H607.6M531.6,224.33V227.41M575.9,231.37H680.0M575.9,233.13H680.0M575.9,231.37V233.13M475.4,225.87H531.6M475.4,232.25H575.9M475.4,225.87V232.25M467.8,221.69H552.7M467.8,229.06H475.4M467.8,221.69V229.06M459.4,219.05H680.0M459.4,225.37H467.8M459.4,219.05V225.37M451.6,217.29H680.0M451.6,222.21H459.4M451.6,217.29V222.21M445.0,219.75H451.6M576.0,234.89H680.0M576.0,236.64H680.0M576.0,234.89V236.64M621.7,240.16H680.0M621.7,241.92H680.0M621.7,240.16V241.92M638.0,243.68H680.0M638.0,245.44H680.0M638.0,243.68V245.44M643.8,247.20H680.0M643.8,248.96H680.0M643.8,247.20V248.96M623.8,244.56H638.0M623.8,248.08H643.8M623.8,244.56V248.08M604.1,241.04H621.7M604.1,246.32H623.8M604.1,241.04V246.32M562.4,238.40H680.0M562.4,243.68H604.1M562.4,238.40V243.68M481.8,235.76H576.0M481.8,241.04H562.4M481.8,235.76V241.04M470.0,238.40H481.8M436.1,219.75H445.0M436.1,238.40H470.0M436.1,219.75V238.40M430.1,209.93H433.5M430.1,229.08H436.1M430.1,209.93V229.08M425.3,197.39H440.4M425.3,219.50H430.1M425.3,197.39V219.50M423.5,182.91H430.1M423.5,208.45H425.3M423.5,182.91V208.45M418.0,123.90H420.9M418.0,197.50H423.5M418.0,123.90V197.50M629.8,250.72H680.0M629.8,252.48H680.0M629.8,250.72V252.48M597.0,254.24H680.0M597.0,255.99H680.0M597.0,254.24V255.99M485.9,251.60H629.8M485.9,255.11H597.0M485.9,251.60V255.11M456.8,253.36H485.9M556.5,259.51H680.0M556.5,261.27H680.0M556.5,259.51V261.27M641.5,264.79H680.0M641.5,266.55H680.0M641.5,264.79V266.55M576.1,263.03H680.0M576.1,265.67H641.5M576.1,263.03V265.67M541.6,260.39H556.5M541.6,264.35H576.1M541.6,260.39V264.35M521.2,257.75H680.0M521.2,262.37H541.6M521.2,257.75V262.37M430.4,260.06H521.2M425.0,253.36H456.8M425.0,260.06H430.4M425.0,253.36V260.06M610.3,268.31H680.0M610.3,270.07H680.0M610.3,268.31V270.07M635.0,273.59H680.0M635.0,275.34H680.0M635.0,273.59V275.34M553.2,271.83H680.0M553.2,274.47H635.0M553.2,271.83V274.47M498.9,269.19H610.3M498.9,273.15H553.2M498.9,269.19V273.15M470.0,271.17H498.9M523.0,277.10H680.0M523.0,278.86H680.0M523.0,277.10V278.86M586.9,280.62H680.0M586.9,282.38H680.0M586.9,280.62V282.38M602.0,285.90H680.0M602.0,287.66H680.0M602.0,285.90V287.66M565.2,284.14H680.0M565.2,286.78H602.0M565.2,284.14V286.78M494.3,281.50H586.9M494.3,285.46H565.2M494.3,281.50V285.46M475.1,277.98H523.0M475.1,283.48H494.3M475.1,277.98V283.48M455.0,280.73H475.1M440.0,271.17H470.0M440.0,280.73H455.0M440.0,271.17V280.73M532.5,289.42H680.0M532.5,291.18H680.0M532.5,289.42V291.18M589.3,294.70H680.0M589.3,296.45H680.0M589.3,294.70V296.45M506.3,292.94H680.0M506.3,295.57H589.3M506.3,292.94V295.57M613.0,299.97H680.0M613.0,301.73H680.0M613.0,299.97V301.73M567.5,298.21H680.0M567.5,300.85H613.0M567.5,298.21V300.85M480.9,299.53H567.5M480.9,303.49H680.0M480.9,299.53V303.49M477.4,294.26H506.3M477.4,301.51H480.9M477.4,294.26V301.51M468.8,290.30H532.5M468.8,297.88H477.4M468.8,290.30V297.88M460.0,294.09H468.8M616.9,307.01H680.0M616.9,308.77H680.0M616.9,307.01V308.77M652.0,315.80H680.0M652.0,317.56H680.0M652.0,315.80V317.56M641.2,314.05H680.0M641.2,316.68H652.0M641.2,314.05V316.68M629.7,312.29H680.0M629.7,315.36H641.2M629.7,312.29V315.36M603.4,310.53H680.0M603.4,313.83H629.7M603.4,310.53V313.83M579.7,307.89H616.9M579.7,312.18H603.4M579.7,307.89V312.18M564.8,305.25H680.0M564.8,310.03H579.7M564.8,305.25V310.03M530.0,307.64H564.8M435.0,294.09H460.0M435.0,307.64H530.0M435.0,294.09V307.64M427.6,275.95H440.0M427.6,300.87H435.0M427.6,275.95V300.87M424.5,256.71H425.0M424.5,288.41H427.6M424.5,256.71V288.41M611.9,321.08H680.0M611.9,322.84H680.0M611.9,321.08V322.84M598.3,319.32H680.0M598.3,321.96H611.9M598.3,319.32V321.96M560.0,320.64H598.3M604.0,326.36H680.0M604.0,328.12H680.0M604.0,326.36V328.12M590.8,324.60H680.0M590.8,327.24H604.0M590.8,324.60V327.24M520.0,325.92H590.8M637.5,333.40H680.0M637.5,335.15H680.0M637.5,333.40V335.15M540.7,331.64H680.0M540.7,334.28H637.5M540.7,331.64V334.28M509.2,329.88H680.0M509.2,332.96H540.7M509.2,329.88V332.96M470.0,331.42H509.2M628.1,342.19H680.0M628.1,343.95H680.0M628.1,342.19V343.95M620.7,340.43H680.0M620.7,343.07H628.1M620.7,340.43V343.07M600.0,338.67H680.0M600.0,341.75H620.7M600.0,338.67V341.75M588.0,336.91H680.0M588.0,340.21H600.0M588.0,336.91V340.21M540.0,338.56H588.0M540.0,338.56V340.70M665.1,352.75H680.0M665.1,354.50H680.0M665.1,352.75V354.50M638.1,350.99H680.0M638.1,353.63H665.1M638.1,350.99V353.63M658.9,359.78H680.0M658.9,361.54H680.0M658.9,359.78V361.54M653.4,358.02H680.0M653.4,360.66H658.9M653.4,358.02V360.66M642.1,356.26H680.0M642.1,359.34H653.4M642.1,356.26V359.34M635.0,352.31H638.1M635.0,357.80H642.1M635.0,352.31V357.80M631.9,349.23H680.0M631.9,355.05H635.0M631.9,349.23V355.05M608.3,347.47H680.0M608.3,352.14H631.9M608.3,347.47V352.14M596.4,345.71H680.0M596.4,349.80H608.3M596.4,345.71V349.80M560.0,347.76H596.4M622.1,363.30H680.0M622.1,365.06H680.0M622.1,363.30V365.06M663.3,368.58H680.0M663.3,370.34H680.0M663.3,368.58V370.34M615.7,366.82H680.0M615.7,369.46H663.3M615.7,366.82V369.46M583.7,364.18H622.1M583.7,368.14H615.7M583.7,364.18V368.14M620.6,373.86H680.0M620.6,375.61H680.0M620.6,373.86V375.61M600.2,372.10H680.0M600.2,374.73H620.6M600.2,372.10V374.73M625.7,377.37H680.0M625.7,379.13H680.0M625.7,377.37V379.13M661.6,380.89H680.0M661.6,382.65H680.0M661.6,380.89V382.65M649.9,387.93H680.0M649.9,389.69H680.0M649.9,387.93V389.69M634.9,386.17H680.0M634.9,388.81H649.9M634.9,386.17V388.81M624.2,384.41H680.0M624.2,387.49H634.9M624.2,384.41V387.49M611.6,381.77H661.6M611.6,385.95H624.2M611.6,381.77V385.95M591.6,378.25H625.7M591.6,383.86H611.6M591.6,378.25V383.86M567.8,373.42H600.2M567.8,381.06H591.6M567.8,373.42V381.06M560.6,366.16H583.7M560.6,377.24H567.8M560.6,366.16V377.24M545.0,371.70H560.6M520.7,347.76H560.0M520.7,371.70H545.0M520.7,347.76V371.70M622.4,393.21H680.0M622.4,394.96H680.0M622.4,393.21V394.96M616.3,391.45H680.0M616.3,394.09H622.4M616.3,391.45V394.09M600.0,392.77H616.3M625.0,396.72H680.0M625.0,398.48H680.0M625.0,396.72V398.48M621.4,400.24H680.0M621.4,402.00H680.0M621.4,400.24V402.00M611.5,397.60H625.0M611.5,401.12H621.4M611.5,397.60V401.12M580.0,399.36H611.5M648.7,405.52H680.0M648.7,407.28H680.0M648.7,405.52V407.28M655.7,409.04H680.0M655.7,410.80H680.0M655.7,409.04V410.80M646.1,406.40H648.7M646.1,409.92H655.7M646.1,406.40V409.92M636.3,403.76H680.0M636.3,408.16H646.1M636.3,403.76V408.16M645.7,414.31H680.0M645.7,416.07H680.0M645.7,414.31V416.07M636.3,412.56H680.0M636.3,415.19H645.7M636.3,412.56V415.19M652.0,419.59H680.0M652.0,421.35H680.0M652.0,419.59V421.35M635.2,417.83H680.0M635.2,420.47H652.0M635.2,417.83V420.47M628.3,413.88H636.3M628.3,419.15H635.2M628.3,413.88V419.15M618.6,405.96H636.3M618.6,416.51H628.3M618.6,405.96V416.51M585.0,411.24H618.6M658.6,430.15H680.0M658.6,431.91H680.0M658.6,430.15V431.91M634.2,428.39H680.0M634.2,431.03H658.6M634.2,428.39V431.03M628.0,433.67H680.0M628.0,435.42H680.0M628.0,433.67V435.42M659.9,438.94H680.0M659.9,440.70H680.0M659.9,438.94V440.70M634.1,437.18H680.0M634.1,439.82H659.9M634.1,437.18V439.82M608.7,438.50H634.1M608.7,442.46H680.0M608.7,438.50V442.46M603.5,434.54H628.0M603.5,440.48H608.7M603.5,434.54V440.48M598.9,429.71H634.2M598.9,437.51H603.5M598.9,429.71V437.51M597.2,426.63H680.0M597.2,433.61H598.9M597.2,426.63V433.61M595.8,424.87H680.0M595.8,430.12H597.2M595.8,424.87V430.12M593.5,423.11H680.0M593.5,427.49H595.8M593.5,423.11V427.49M590.0,425.30H593.5M651.2,447.74H680.0M651.2,449.50H680.0M651.2,447.74V449.50M628.7,445.98H680.0M628.7,448.62H651.2M628.7,445.98V448.62M615.6,444.22H680.0M615.6,447.30H628.7M615.6,444.22V447.30M660.5,453.02H680.0M660.5,454.77H680.0M660.5,453.02V454.77M657.6,460.05H680.0M657.6,461.81H680.0M657.6,460.05V461.81M651.7,458.29H680.0M651.7,460.93H657.6M651.7,458.29V460.93M649.0,456.53H680.0M649.0,459.61H651.7M649.0,456.53V459.61M634.0,453.90H660.5M634.0,458.07H649.0M634.0,453.90V458.07M627.4,451.26H680.0M627.4,455.98H634.0M627.4,451.26V455.98M608.2,445.76H615.6M608.2,453.62H627.4M608.2,445.76V453.62M583.0,449.69H608.2M614.9,463.57H680.0M614.9,465.33H680.0M614.9,463.57V465.33M618.7,467.09H680.0M618.7,468.85H680.0M618.7,467.09V468.85M659.8,475.88H680.0M659.8,477.64H680.0M659.8,475.88V477.64M629.2,474.12H680.0M629.2,476.76H659.8M629.2,474.12V476.76M660.0,481.16H680.0M660.0,482.92H680.0M660.0,481.16V482.92M621.3,479.40H680.0M621.3,482.04H660.0M621.3,479.40V482.04M613.5,480.72H621.3M613.5,484.68H680.0M613.5,480.72V484.68M611.3,475.44H629.2M611.3,482.70H613.5M611.3,475.44V482.70M609.0,472.37H680.0M609.0,479.07H611.3M609.0,472.37V479.07M607.7,470.61H680.0M607.7,475.72H609.0M607.7,470.61V475.72M604.1,467.97H618.7M604.1,473.16H607.7M604.1,467.97V473.16M601.3,464.45H614.9M601.3,470.57H604.1M601.3,464.45V470.57M600.0,467.51H601.3M639.3,486.44H680.0M639.3,488.20H680.0M639.3,486.44V488.20M642.4,493.48H680.0M642.4,495.23H680.0M642.4,493.48V495.23M635.2,491.72H680.0M635.2,494.35H642.4M635.2,491.72V494.35M636.4,496.99H680.0M636.4,498.75H680.0M636.4,496.99V498.75M644.7,504.03H680.0M644.7,505.79H680.0M644.7,504.03V505.79M648.2,509.31H680.0M648.2,511.07H680.0M648.2,509.31V511.07M644.1,507.55H680.0M644.1,510.19H648.2M644.1,507.55V510.19M620.4,504.91H644.7M620.4,508.87H644.1M620.4,504.91V508.87M618.8,502.27H680.0M618.8,506.89H620.4M618.8,502.27V506.89M615.3,500.51H680.0M615.3,504.58H618.8M615.3,500.51V504.58M613.5,497.87H636.4M613.5,502.55H615.3M613.5,497.87V502.55M612.4,493.04H635.2M612.4,500.21H613.5M612.4,493.04V500.21M611.4,489.96H680.0M611.4,496.62H612.4M611.4,489.96V496.62M610.7,487.32H639.3M610.7,493.29H611.4M610.7,487.32V493.29M606.8,490.30H610.7M643.6,514.58H680.0M643.6,516.34H680.0M643.6,514.58V516.34M617.4,512.83H680.0M617.4,515.46H643.6M617.4,512.83V515.46M657.7,519.86H680.0M657.7,521.62H680.0M657.7,519.86V521.62M637.1,518.10H680.0M637.1,520.74H657.7M637.1,518.10V520.74M645.4,525.14H680.0M645.4,526.90H680.0M645.4,525.14V526.90M639.9,523.38H680.0M639.9,526.02H645.4M639.9,523.38V526.02M612.0,524.70H639.9M612.0,528.66H680.0M612.0,524.70V528.66M611.3,519.42H637.1M611.3,526.68H612.0M611.3,519.42V526.68M609.9,514.14H617.4M609.9,523.05H611.3M609.9,514.14V523.05M608.0,518.60H609.9M630.3,532.18H680.0M630.3,533.93H680.0M630.3,532.18V533.93M627.7,530.42H680.0M627.7,533.06H630.3M627.7,530.42V533.06M623.5,535.69H680.0M623.5,537.45H680.0M623.5,535.69V537.45M660.0,540.97H680.0M660.0,542.73H680.0M660.0,540.97V542.73M625.9,539.21H680.0M625.9,541.85H660.0M625.9,539.21V541.85M610.8,540.53H625.9M610.8,544.49H680.0M610.8,540.53V544.49M608.8,536.57H623.5M608.8,542.51H610.8M608.8,536.57V542.51M606.5,531.74H627.7M606.5,539.54H608.8M606.5,531.74V539.54M605.0,535.64H606.5M596.0,518.60H608.0M596.0,535.64H605.0M596.0,518.60V535.64M625.7,546.25H680.0M625.7,548.01H680.0M625.7,546.25V548.01M664.1,551.53H680.0M664.1,553.29H680.0M664.1,551.53V553.29M641.3,549.77H680.0M641.3,552.41H664.1M641.3,549.77V552.41M634.1,556.80H680.0M634.1,558.56H680.0M634.1,556.80V558.56M635.6,560.32H680.0M635.6,562.08H680.0M635.6,560.32V562.08M663.8,567.36H680.0M663.8,569.12H680.0M663.8,567.36V569.12M629.7,565.60H680.0M629.7,568.24H663.8M629.7,565.60V568.24M620.8,563.84H680.0M620.8,566.92H629.7M620.8,563.84V566.92M619.2,561.20H635.6M619.2,565.38H620.8M619.2,561.20V565.38M618.7,557.68H634.1M618.7,563.29H619.2M618.7,557.68V563.29M617.9,555.04H680.0M617.9,560.49H618.7M617.9,555.04V560.49M615.3,551.09H641.3M615.3,557.77H617.9M615.3,551.09V557.77M613.5,547.13H625.7M613.5,554.43H615.3M613.5,547.13V554.43M612.0,550.78H613.5M665.0,572.64H680.0M665.0,574.39H680.0M665.0,572.64V574.39M623.0,570.88H680.0M623.0,573.51H665.0M623.0,570.88V573.51M630.3,577.91H680.0M630.3,579.67H680.0M630.3,577.91V579.67M642.9,576.15H680.0M642.9,576.15V578.79M641.3,581.43H680.0M641.3,583.19H680.0M641.3,581.43V583.19M651.6,586.71H680.0M651.6,588.47H680.0M651.6,586.71V588.47M628.8,584.95H680.0M628.8,587.59H651.6M628.8,584.95V587.59M651.0,590.23H680.0M651.0,591.99H680.0M651.0,590.23V591.99M619.4,586.27H628.8M619.4,591.11H651.0M619.4,586.27V591.11M617.6,582.31H641.3M617.6,588.69H619.4M617.6,582.31V588.69M616.4,577.47H642.9M616.4,585.50H617.6M616.4,577.47V585.50M614.3,572.20H623.0M614.3,581.49H616.4M614.3,572.20V581.49M612.0,576.84H614.3M666.4,597.26H680.0M666.4,599.02H680.0M666.4,597.26V599.02M627.0,595.50H680.0M627.0,598.14H666.4M627.0,595.50V598.14M636.6,604.30H680.0M636.6,606.06H680.0M636.6,604.30V606.06M637.8,609.58H680.0M637.8,611.34H680.0M637.8,609.58V611.34M645.3,607.82H680.0M645.3,607.82V610.46M658.6,614.85H680.0M658.6,616.61H680.0M658.6,614.85V616.61M633.8,613.10H680.0M633.8,615.73H658.6M633.8,613.10V615.73M619.8,609.14H645.3M619.8,614.41H633.8M619.8,609.14V614.41M618.1,605.18H636.6M618.1,611.78H619.8M618.1,605.18V611.78M616.9,602.54H680.0M616.9,608.48H618.1M616.9,602.54V608.48M615.8,600.78H680.0M615.8,605.51H616.9M615.8,600.78V605.51M614.5,596.82H627.0M614.5,603.15H615.8M614.5,596.82V603.15M612.8,593.74H680.0M612.8,599.98H614.5M612.8,593.74V599.98M610.0,596.86H612.8M646.9,623.65H680.0M646.9,625.41H680.0M646.9,623.65V625.41M646.9,621.89H680.0M646.9,621.89V624.53M632.5,630.69H680.0M632.5,632.45H680.0M632.5,630.69V632.45M648.5,634.20H680.0M648.5,635.96H680.0M648.5,634.20V635.96M650.0,639.48H680.0M650.0,641.24H680.0M650.0,639.48V641.24M635.4,637.72H680.0M635.4,640.36H650.0M635.4,637.72V640.36M630.1,639.04H635.4M630.1,643.00H680.0M630.1,639.04V643.00M628.6,635.08H648.5M628.6,641.02H630.1M628.6,635.08V641.02M627.2,631.57H632.5M627.2,638.05H628.6M627.2,631.57V638.05M625.7,628.93H680.0M625.7,634.81H627.2M625.7,628.93V634.81M623.8,627.17H680.0M623.8,631.87H625.7M623.8,627.17V631.87M622.4,623.21H646.9M622.4,629.52H623.8M622.4,623.21V629.52M620.3,620.13H680.0M620.3,626.36H622.4M620.3,620.13V626.36M619.0,618.37H680.0M619.0,623.25H620.3M619.0,618.37V623.25M616.0,620.81H619.0M600.0,576.84H612.0M600.0,596.86H610.0M600.0,620.81H616.0M600.0,576.84V620.81M591.9,550.78H612.0M591.9,598.83H600.0M591.9,550.78V598.83M590.0,527.12H596.0M590.0,574.80H591.9M590.0,527.12V574.80M575.1,490.30H606.8M575.1,550.96H590.0M575.1,490.30V550.96M566.3,467.51H600.0M566.3,520.63H575.1M566.3,467.51V520.63M557.6,425.30H590.0M557.6,449.69H583.0M557.6,494.07H566.3M557.6,425.30V494.07M545.5,411.24H585.0M545.5,459.69H557.6M545.5,411.24V459.69M527.6,399.36H580.0M527.6,435.46H545.5M527.6,399.36V435.46M517.1,392.77H600.0M517.1,417.41H527.6M517.1,392.77V417.41M489.7,355.00H520.7M489.7,395.30H517.1M489.7,355.00V395.30M476.4,340.70H540.0M476.4,375.20H489.7M476.4,340.70V375.20M432.3,331.42H470.0M432.3,357.70H476.4M432.3,331.42V357.70M428.8,325.92H520.0M428.8,345.40H432.3M428.8,325.92V345.40M426.5,320.64H560.0M426.5,335.40H428.8M426.5,320.64V335.40M423.8,328.02H426.5M423.8,328.02V328.80M423.4,270.00H424.5M423.4,328.80H423.8M423.4,270.00V328.80M415.9,161.00H418.0M415.9,298.90H423.4M415.9,161.00V298.90M413.7,90.10H418.5M413.7,230.70H415.9M413.7,90.10V230.70M409.5,72.80H463.3M409.5,159.40H413.7M409.5,72.80V159.40M325.0,47.40H406.2M325.0,116.00H409.5M325.0,47.40V116.00M306.8,12.30H399.9M306.8,81.80H325.0M306.8,12.30V81.80" stroke="#a8a8a8" stroke-width="0.8" fill="none"/>
<!-- tips 363 -->
<rect x="438.10" y="171.00" width="37.11" height="7.00" fill="#fff"/>
<rect x="438.10" y="192.90" width="60.55" height="7.00" fill="#fff"/>
<rect x="471.40" y="238.20" width="44.49" height="13.90" fill="#fff"/>
<rect x="498.40" y="86.60" width="68.84" height="7.00" fill="#fff"/>
<rect x="506.30" y="345.60" width="42.98" height="13.90" fill="#fff"/>
<rect x="523.80" y="374.20" width="58.91" height="7.00" fill="#fff"/>
<rect x="537.80" y="383.00" width="59.28" height="7.00" fill="#fff"/>
<rect x="464.10" y="401.10" width="101.91" height="34.20" fill="#fff"/>
<rect x="617.40" y="399.20" width="60.16" height="7.00" fill="#fff"/>
<rect x="617.40" y="410.50" width="60.54" height="7.00" fill="#fff"/>
<rect x="617.40" y="419.60" width="44.67" height="13.00" fill="#fff"/>
<rect x="605.00" y="433.50" width="77.55" height="13.40" fill="#fff"/>
<rect x="605.00" y="447.20" width="54.11" height="7.00" fill="#fff"/>
<rect x="605.00" y="466.70" width="73.59" height="7.00" fill="#fff"/>
<rect x="617.40" y="474.90" width="52.60" height="7.00" fill="#fff"/>
<rect x="623.10" y="499.80" width="52.98" height="7.00" fill="#fff"/>
<rect x="610.20" y="517.90" width="46.56" height="20.80" fill="#fff"/>
<rect x="610.20" y="541.80" width="46.56" height="14.00" fill="#fff"/>
<rect x="610.10" y="566.80" width="60.35" height="13.40" fill="#fff"/>
<rect x="624.20" y="593.40" width="57.53" height="13.80" fill="#fff"/>
<rect x="624.70" y="628.80" width="39.38" height="13.60" fill="#fff"/>
<text x="306.80" y="9.00" font-size="10.6" font-weight="bold" fill="#000" stroke="#000" stroke-width="0.12">b</text>
<text x="327.80" y="19.88" font-size="6.8" fill="#231f20" stroke="#231f20" stroke-width="0.12">Casuariiformes +</text>
<text x="327.80" y="26.78" font-size="6.8" fill="#231f20" stroke="#231f20" stroke-width="0.12">Apterygiformes</text>
<text x="327.80" y="39.78" font-size="6.8" fill="#231f20" stroke="#231f20" stroke-width="0.12">Rheiformes +</text>
<text x="327.80" y="46.68" font-size="6.8" fill="#231f20" stroke="#231f20" stroke-width="0.12">Tinamiformes</text>
<text x="327.80" y="61.98" font-size="6.8" fill="#231f20" stroke="#231f20" stroke-width="0.12">Columbimorphae</text>
<text x="327.80" y="77.98" font-size="6.8" fill="#231f20" stroke="#231f20" stroke-width="0.12">Columbaves</text>
<text x="327.80" y="91.98" font-size="6.8" fill="#231f20" stroke="#231f20" stroke-width="0.12">Otidimorphae</text>
<text x="327.80" y="105.18" font-size="6.8" fill="#231f20" stroke="#231f20" stroke-width="0.12">Otidiformes+</text>
<text x="327.80" y="112.08" font-size="6.8" fill="#231f20" stroke="#231f20" stroke-width="0.12">Cuculiformes</text>
<text x="327.80" y="122.98" font-size="6.8" fill="#231f20" stroke="#231f20" stroke-width="0.12">Opisthocomiformes +</text>
<text x="327.80" y="129.88" font-size="6.8" fill="#231f20" stroke="#231f20" stroke-width="0.12">Cursorimorphae</text>
<text x="327.80" y="141.68" font-size="6.8" fill="#231f20" stroke="#231f20" stroke-width="0.12">Cursorimorphae</text>
<text x="327.80" y="153.38" font-size="6.8" fill="#231f20" stroke="#231f20" stroke-width="0.12">Neoaves –</text>
<text x="327.80" y="160.28" font-size="6.8" fill="#231f20" stroke="#231f20" stroke-width="0.12">Mirandornithes</text>
<text x="327.80" y="174.08" font-size="6.8" fill="#231f20" stroke="#231f20" stroke-width="0.12">Elementaves</text>
<text x="327.80" y="207.08" font-size="6.8" fill="#231f20" stroke="#231f20" stroke-width="0.12">Phaethoquornithes +</text>
<text x="327.80" y="213.98" font-size="6.8" fill="#231f20" stroke="#231f20" stroke-width="0.12">Strisores</text>
<text x="327.80" y="224.28" font-size="6.8" fill="#231f20" stroke="#231f20" stroke-width="0.12">Phaethoquornithes</text>
<text x="327.80" y="236.58" font-size="6.8" fill="#231f20" stroke="#231f20" stroke-width="0.12">Telluraves +</text>
<text x="327.80" y="243.48" font-size="6.8" fill="#231f20" stroke="#231f20" stroke-width="0.12">Elementaves</text>
<text x="327.80" y="254.68" font-size="6.8" fill="#231f20" stroke="#231f20" stroke-width="0.12">Strigiformes +</text>
<text x="327.80" y="261.58" font-size="6.8" fill="#231f20" stroke="#231f20" stroke-width="0.12">Accipitriformes</text>
<text x="327.80" y="276.88" font-size="6.8" fill="#231f20" stroke="#231f20" stroke-width="0.12">Afroaves</text>
<text x="327.80" y="290.88" font-size="6.8" fill="#231f20" stroke="#231f20" stroke-width="0.12">Coraciimorphae</text>
<text x="438.70" y="176.98" font-size="6.8" fill="#231f20" stroke="#231f20" stroke-width="0.12">Sedentaves</text>
<text x="438.70" y="198.88" font-size="6.8" fill="#231f20" stroke="#231f20" stroke-width="0.12">Phaethontimorphae</text>
<text x="472.00" y="244.18" font-size="6.8" fill="#231f20" stroke="#231f20" stroke-width="0.12">Pelecanidae +</text>
<text x="472.00" y="251.08" font-size="6.8" fill="#231f20" stroke="#231f20" stroke-width="0.12">Scopidae</text>
<text x="499.00" y="92.58" font-size="6.8" fill="#231f20" stroke="#231f20" stroke-width="0.12">Part of Columbiformes</text>
<text x="506.90" y="351.58" font-size="6.8" fill="#231f20" stroke="#231f20" stroke-width="0.12">Sapayoidae +</text>
<text x="506.90" y="358.48" font-size="6.8" fill="#231f20" stroke="#231f20" stroke-width="0.12">Pittidae</text>
<text x="524.40" y="380.18" font-size="6.8" fill="#231f20" stroke="#231f20" stroke-width="0.12">Part of Tyrannida A</text>
<text x="538.40" y="388.98" font-size="6.8" fill="#231f20" stroke="#231f20" stroke-width="0.12">Part of Tyrannida B</text>
<text x="464.70" y="407.08" font-size="6.8" fill="#231f20" stroke="#231f20" stroke-width="0.12">Mohouidae + Malaconotoidea +</text>
<text x="464.70" y="413.88" font-size="6.8" fill="#231f20" stroke="#231f20" stroke-width="0.12">Neosittidae + Orioloidea (MMNO)</text>
<text x="464.70" y="420.68" font-size="6.8" fill="#231f20" stroke="#231f20" stroke-width="0.12">Malaconotoidea + Neosittidae +</text>
<text x="464.70" y="427.48" font-size="6.8" fill="#231f20" stroke="#231f20" stroke-width="0.12">Orioloidea (MNO)</text>
<text x="464.70" y="434.28" font-size="6.8" fill="#231f20" stroke="#231f20" stroke-width="0.12">Neosittidae + Orioloidea</text>
<text x="618.00" y="405.18" font-size="6.8" fill="#231f20" stroke="#231f20" stroke-width="0.12">Part of Corvoidea A</text>
<text x="618.00" y="416.48" font-size="6.8" fill="#231f20" stroke="#231f20" stroke-width="0.12">Part of Corvoidea B</text>
<text x="618.00" y="425.58" font-size="6.8" fill="#231f20" stroke="#231f20" stroke-width="0.12">Ifritidae +</text>
<text x="618.00" y="431.58" font-size="6.8" fill="#231f20" stroke="#231f20" stroke-width="0.12">Paradisaeidae</text>
<text x="605.60" y="439.48" font-size="6.8" fill="#231f20" stroke="#231f20" stroke-width="0.12">Corcoracidae + Ifritidae +</text>
<text x="605.60" y="445.88" font-size="6.8" fill="#231f20" stroke="#231f20" stroke-width="0.12">Paradisaeidae</text>
<text x="605.60" y="453.18" font-size="6.8" fill="#231f20" stroke="#231f20" stroke-width="0.12">Part of Orioloidea</text>
<text x="605.60" y="472.68" font-size="6.8" fill="#231f20" stroke="#231f20" stroke-width="0.12">Eupetidae + Petroicidae</text>
<text x="618.00" y="480.88" font-size="6.8" fill="#231f20" stroke="#231f20" stroke-width="0.12">Part of Sylviida A</text>
<text x="623.70" y="505.78" font-size="6.8" fill="#231f20" stroke="#231f20" stroke-width="0.12">Part of Sylviida B</text>
<text x="610.80" y="523.88" font-size="6.8" fill="#231f20" stroke="#231f20" stroke-width="0.12">Regulidae +</text>
<text x="610.80" y="530.78" font-size="6.8" fill="#231f20" stroke="#231f20" stroke-width="0.12">Certhioidea +</text>
<text x="610.80" y="537.68" font-size="6.8" fill="#231f20" stroke="#231f20" stroke-width="0.12">Muscicapoidea</text>
<text x="610.80" y="547.78" font-size="6.8" fill="#231f20" stroke="#231f20" stroke-width="0.12">Certhioidea +</text>
<text x="610.80" y="554.78" font-size="6.8" fill="#231f20" stroke="#231f20" stroke-width="0.12">Muscicapoidea</text>
<text x="610.70" y="572.78" font-size="6.8" fill="#231f20" stroke="#231f20" stroke-width="0.12">Urocynchramidae +</text>
<text x="610.70" y="579.18" font-size="6.8" fill="#231f20" stroke="#231f20" stroke-width="0.12">Estrildoidea</text>
<text x="624.80" y="599.38" font-size="6.8" fill="#231f20" stroke="#231f20" stroke-width="0.12">Emberizidae +</text>
<text x="624.80" y="606.18" font-size="6.8" fill="#231f20" stroke="#231f20" stroke-width="0.12">Plectrophenacidae</text>
<text x="625.30" y="634.78" font-size="6.8" fill="#231f20" stroke="#231f20" stroke-width="0.12">Part of</text>
<text x="625.30" y="641.38" font-size="6.8" fill="#231f20" stroke="#231f20" stroke-width="0.12">Cardinalidae</text>
<line x1="405.30" y1="12.00" x2="405.30" y2="23.00" stroke="#d43a6f" stroke-width="0.9"/>
<line x1="405.30" y1="12.00" x2="410.40" y2="12.00" stroke="#d43a6f" stroke-width="0.9"/>
<line x1="405.30" y1="23.00" x2="412.00" y2="23.00" stroke="#d43a6f" stroke-width="0.9"/>
<line x1="420.50" y1="78.00" x2="420.50" y2="90.00" stroke="#3e5b97" stroke-width="0.9"/>
<line x1="413.70" y1="90.10" x2="420.50" y2="90.10" stroke="#9a3c78" stroke-width="0.9"/>
<line x1="420.50" y1="90.00" x2="420.50" y2="98.60" stroke="#22a7c9" stroke-width="0.9"/>
<line x1="421.50" y1="98.60" x2="421.50" y2="103.00" stroke="#8470b0" stroke-width="0.9"/>
<line x1="421.50" y1="103.00" x2="425.50" y2="103.00" stroke="#8470b0" stroke-width="0.9"/>
<line x1="409.50" y1="116.60" x2="409.50" y2="159.40" stroke="#9a3c78" stroke-width="0.9"/>
<line x1="409.50" y1="159.40" x2="413.70" y2="159.40" stroke="#9a3c78" stroke-width="0.9"/>
<line x1="413.70" y1="90.10" x2="413.70" y2="230.70" stroke="#d43a6f" stroke-width="0.9"/>
<line x1="413.70" y1="230.70" x2="416.00" y2="230.70" stroke="#d43a6f" stroke-width="0.9"/>
<line x1="418.00" y1="123.90" x2="418.00" y2="197.50" stroke="#d43a6f" stroke-width="0.9"/>
<line x1="418.00" y1="123.90" x2="420.50" y2="123.90" stroke="#d43a6f" stroke-width="0.9"/>
<line x1="418.00" y1="197.50" x2="423.50" y2="197.50" stroke="#d43a6f" stroke-width="0.9"/>
<line x1="423.50" y1="197.50" x2="423.50" y2="209.00" stroke="#d43a6f" stroke-width="0.9"/>
<line x1="420.50" y1="123.90" x2="420.50" y2="132.30" stroke="#8470b0" stroke-width="0.9"/>
<line x1="432.50" y1="187.30" x2="432.50" y2="190.30" stroke="#d43a6f" stroke-width="0.9"/>
<line x1="432.50" y1="187.30" x2="436.00" y2="187.30" stroke="#d43a6f" stroke-width="0.9"/>
<line x1="425.30" y1="203.30" x2="440.40" y2="203.30" stroke="#22a7c9" stroke-width="0.9"/>
<line x1="425.30" y1="203.30" x2="425.30" y2="207.80" stroke="#22a7c9" stroke-width="0.9"/>
<line x1="424.50" y1="259.90" x2="424.50" y2="298.40" stroke="#d43a6f" stroke-width="0.9"/>
<line x1="590.00" y1="86.00" x2="590.00" y2="89.50" stroke="#22a7c9" stroke-width="0.9"/>
<line x1="581.50" y1="425.60" x2="581.50" y2="439.30" stroke="#d43a6f" stroke-width="0.9"/>
<line x1="576.00" y1="470.50" x2="576.00" y2="500.00" stroke="#2f78ad" stroke-width="0.9"/>
<line x1="614.40" y1="586.50" x2="614.40" y2="593.80" stroke="#2f78ad" stroke-width="0.9"/>
<line x1="635.70" y1="615.70" x2="635.70" y2="623.00" stroke="#3e5b97" stroke-width="0.9"/>
<line x1="596.50" y1="533.00" x2="596.50" y2="545.00" stroke="#22a7c9" stroke-width="0.9"/>
<line x1="387.89" y1="18.33" x2="410.40" y2="10.80" stroke="#d43a6f" stroke-width="0.9"/>
<line x1="387.59" y1="35.71" x2="412.00" y2="23.00" stroke="#d43a6f" stroke-width="0.9"/>
<line x1="392.84" y1="62.46" x2="420.50" y2="82.00" stroke="#3e5b97" stroke-width="0.9"/>
<line x1="393.27" y1="77.74" x2="418.50" y2="89.80" stroke="#9a3c78" stroke-width="0.9"/>
<line x1="578.11" y1="89.56" x2="590.00" y2="88.00" stroke="#22a7c9" stroke-width="0.9"/>
<line x1="378.76" y1="90.53" x2="420.50" y2="98.50" stroke="#22a7c9" stroke-width="0.9"/>
<line x1="378.85" y1="104.36" x2="425.50" y2="103.00" stroke="#8470b0" stroke-width="0.9"/>
<line x1="400.45" y1="124.80" x2="420.50" y2="124.00" stroke="#d43a6f" stroke-width="0.9"/>
<line x1="386.67" y1="138.42" x2="420.50" y2="132.30" stroke="#8470b0" stroke-width="0.9"/>
<line x1="386.66" y1="154.86" x2="409.50" y2="159.40" stroke="#9a3c78" stroke-width="0.9"/>
<line x1="385.66" y1="170.33" x2="418.00" y2="161.00" stroke="#d43a6f" stroke-width="0.9"/>
<line x1="399.59" y1="203.72" x2="418.00" y2="197.50" stroke="#d43a6f" stroke-width="0.9"/>
<line x1="399.31" y1="216.87" x2="423.50" y2="209.00" stroke="#d43a6f" stroke-width="0.9"/>
<line x1="432.94" y1="179.39" x2="435.00" y2="187.30" stroke="#d43a6f" stroke-width="0.9"/>
<line x1="435.60" y1="199.55" x2="440.40" y2="203.30" stroke="#22a7c9" stroke-width="0.9"/>
<line x1="524.81" y1="239.70" x2="530.00" y2="236.50" stroke="#2f78ad" stroke-width="0.9"/>
<line x1="387.29" y1="235.14" x2="416.00" y2="230.70" stroke="#8470b0" stroke-width="0.9"/>
<line x1="387.33" y1="256.28" x2="424.50" y2="259.90" stroke="#d43a6f" stroke-width="0.9"/>
<line x1="387.35" y1="271.59" x2="424.50" y2="270.00" stroke="#8470b0" stroke-width="0.9"/>
<line x1="387.25" y1="287.52" x2="424.50" y2="280.00" stroke="#d43a6f" stroke-width="0.9"/>
<line x1="559.21" y1="348.88" x2="565.00" y2="347.00" stroke="#22a7c9" stroke-width="0.9"/>
<line x1="594.12" y1="378.35" x2="600.00" y2="379.00" stroke="#22a7c9" stroke-width="0.9"/>
<line x1="607.42" y1="385.12" x2="611.00" y2="384.00" stroke="#3e5b97" stroke-width="0.9"/>
<line x1="608.88" y1="406.28" x2="597.50" y2="417.50" stroke="#22a7c9" stroke-width="0.9"/>
<line x1="608.22" y1="416.75" x2="601.50" y2="421.00" stroke="#8470b0" stroke-width="0.9"/>
<line x1="600.00" y1="427.61" x2="601.00" y2="421.50" stroke="#2f78ad" stroke-width="0.9"/>
<line x1="607.94" y1="424.16" x2="602.00" y2="420.00" stroke="#22a7c9" stroke-width="0.9"/>
<line x1="571.24" y1="413.43" x2="583.70" y2="446.60" stroke="#d43a6f" stroke-width="0.9"/>
<line x1="571.80" y1="423.98" x2="583.70" y2="446.60" stroke="#9a3c78" stroke-width="0.9"/>
<line x1="572.73" y1="433.85" x2="583.70" y2="446.60" stroke="#9a3c78" stroke-width="0.9"/>
<line x1="594.25" y1="449.18" x2="587.00" y2="449.00" stroke="#2f78ad" stroke-width="0.9"/>
<line x1="594.83" y1="456.08" x2="589.00" y2="453.00" stroke="#2f78ad" stroke-width="0.9"/>
<line x1="594.25" y1="470.34" x2="576.00" y2="470.50" stroke="#2f78ad" stroke-width="0.9"/>
<line x1="608.41" y1="482.81" x2="604.00" y2="487.00" stroke="#22a7c9" stroke-width="0.9"/>
<line x1="614.27" y1="499.65" x2="609.30" y2="493.90" stroke="#2f78ad" stroke-width="0.9"/>
<line x1="600.95" y1="534.62" x2="596.50" y2="540.00" stroke="#22a7c9" stroke-width="0.9"/>
<line x1="599.59" y1="546.17" x2="597.00" y2="545.00" stroke="#22a7c9" stroke-width="0.9"/>
<line x1="607.11" y1="576.98" x2="615.70" y2="586.50" stroke="#2f78ad" stroke-width="0.9"/>
<line x1="622.92" y1="605.94" x2="637.60" y2="615.70" stroke="#3e5b97" stroke-width="0.9"/>
<line x1="623.63" y1="628.20" x2="654.90" y2="621.10" stroke="#2f78ad" stroke-width="0.9"/>
<text x="330.70" y="331.18" font-size="6.8" fill="#231f20" stroke="#231f20" stroke-width="0.12">Loci needed to recover the</text>
<text x="330.70" y="338.48" font-size="6.8" fill="#231f20" stroke="#231f20" stroke-width="0.12">clade across all replicates</text>
<line x1="332.10" y1="346.70" x2="341.10" y2="346.70" stroke="#bdbdbd" stroke-width="1.0"/>
<text x="344.20" y="349.08" font-size="6.8" fill="#231f20" stroke="#231f20" stroke-width="0.12">1,000</text>
<line x1="332.10" y1="355.83" x2="341.10" y2="355.83" stroke="#22a7c9" stroke-width="1.0"/>
<text x="344.20" y="358.21" font-size="6.8" fill="#231f20" stroke="#231f20" stroke-width="0.12">2,000</text>
<line x1="332.10" y1="364.96" x2="341.10" y2="364.96" stroke="#2f78ad" stroke-width="1.0"/>
<text x="344.20" y="367.34" font-size="6.8" fill="#231f20" stroke="#231f20" stroke-width="0.12">4,000</text>
<line x1="332.10" y1="374.09" x2="341.10" y2="374.09" stroke="#3e5b97" stroke-width="1.0"/>
<text x="344.20" y="376.47" font-size="6.8" fill="#231f20" stroke="#231f20" stroke-width="0.12">8,000</text>
<line x1="332.10" y1="383.22" x2="341.10" y2="383.22" stroke="#8470b0" stroke-width="1.0"/>
<text x="344.20" y="385.60" font-size="6.8" fill="#231f20" stroke="#231f20" stroke-width="0.12">16,000</text>
<line x1="332.10" y1="392.35" x2="341.10" y2="392.35" stroke="#9a3c78" stroke-width="1.0"/>
<text x="344.20" y="394.73" font-size="6.8" fill="#231f20" stroke="#231f20" stroke-width="0.12">32,000</text>
<line x1="332.10" y1="401.48" x2="341.10" y2="401.48" stroke="#d43a6f" stroke-width="1.0"/>
<text x="344.20" y="403.86" font-size="6.8" fill="#231f20" stroke="#231f20" stroke-width="0.12">&gt;32,000</text>
<circle cx="383.20" cy="19.90" r="4.95" fill="#fff" stroke="#d43a6f" stroke-width="1.1"/>
<text x="383.20" y="22.35" font-size="6.9" text-anchor="middle" fill="#231f20" stroke="#231f20" stroke-width="0.12">1</text>
<circle cx="383.20" cy="38.00" r="4.95" fill="#fff" stroke="#d43a6f" stroke-width="1.1"/>
<text x="383.20" y="40.45" font-size="6.9" text-anchor="middle" fill="#231f20" stroke="#231f20" stroke-width="0.12">2</text>
<circle cx="388.80" cy="59.60" r="4.95" fill="#fff" stroke="#3e5b97" stroke-width="1.1"/>
<text x="388.80" y="62.05" font-size="6.9" text-anchor="middle" fill="#231f20" stroke="#231f20" stroke-width="0.12">3</text>
<circle cx="388.80" cy="75.60" r="4.95" fill="#fff" stroke="#9a3c78" stroke-width="1.1"/>
<text x="388.80" y="78.05" font-size="6.9" text-anchor="middle" fill="#231f20" stroke="#231f20" stroke-width="0.12">4</text>
<circle cx="573.20" cy="90.20" r="4.95" fill="#fff" stroke="#22a7c9" stroke-width="1.1"/>
<text x="573.20" y="92.65" font-size="6.9" text-anchor="middle" fill="#231f20" stroke="#231f20" stroke-width="0.12">5</text>
<circle cx="373.90" cy="89.60" r="4.95" fill="#fff" stroke="#22a7c9" stroke-width="1.1"/>
<text x="373.90" y="92.05" font-size="6.9" text-anchor="middle" fill="#231f20" stroke="#231f20" stroke-width="0.12">6</text>
<circle cx="373.90" cy="104.50" r="4.95" fill="#fff" stroke="#8470b0" stroke-width="1.1"/>
<text x="373.90" y="106.95" font-size="6.9" text-anchor="middle" fill="#231f20" stroke="#231f20" stroke-width="0.12">7</text>
<circle cx="395.50" cy="125.00" r="4.95" fill="#fff" stroke="#d43a6f" stroke-width="1.1"/>
<text x="395.50" y="127.45" font-size="6.9" text-anchor="middle" fill="#231f20" stroke="#231f20" stroke-width="0.12">8</text>
<circle cx="381.80" cy="139.30" r="4.95" fill="#fff" stroke="#8470b0" stroke-width="1.1"/>
<text x="381.80" y="141.75" font-size="6.9" text-anchor="middle" fill="#231f20" stroke="#231f20" stroke-width="0.12">9</text>
<circle cx="381.80" cy="153.90" r="4.95" fill="#fff" stroke="#9a3c78" stroke-width="1.1"/>
<text x="381.63" y="156.35" font-size="6.9" text-anchor="middle" fill="#231f20" stroke="#231f20" stroke-width="0.12" letter-spacing="-0.35">10</text>
<circle cx="380.90" cy="171.70" r="4.95" fill="#fff" stroke="#d43a6f" stroke-width="1.1"/>
<text x="380.73" y="174.15" font-size="6.9" text-anchor="middle" fill="#231f20" stroke="#231f20" stroke-width="0.12" letter-spacing="-0.35">11</text>
<circle cx="394.90" cy="205.30" r="4.95" fill="#fff" stroke="#d43a6f" stroke-width="1.1"/>
<text x="394.73" y="207.75" font-size="6.9" text-anchor="middle" fill="#231f20" stroke="#231f20" stroke-width="0.12" letter-spacing="-0.35">12</text>
<circle cx="394.60" cy="218.40" r="4.95" fill="#fff" stroke="#d43a6f" stroke-width="1.1"/>
<text x="394.43" y="220.85" font-size="6.9" text-anchor="middle" fill="#231f20" stroke="#231f20" stroke-width="0.12" letter-spacing="-0.35">13</text>
<circle cx="431.70" cy="174.60" r="4.95" fill="#fff" stroke="#d43a6f" stroke-width="1.1"/>
<text x="431.53" y="177.05" font-size="6.9" text-anchor="middle" fill="#231f20" stroke="#231f20" stroke-width="0.12" letter-spacing="-0.35">14</text>
<circle cx="431.70" cy="196.50" r="4.95" fill="#fff" stroke="#22a7c9" stroke-width="1.1"/>
<text x="431.53" y="198.95" font-size="6.9" text-anchor="middle" fill="#231f20" stroke="#231f20" stroke-width="0.12" letter-spacing="-0.35">15</text>
<circle cx="520.60" cy="242.30" r="4.95" fill="#fff" stroke="#2f78ad" stroke-width="1.1"/>
<text x="520.43" y="244.75" font-size="6.9" text-anchor="middle" fill="#231f20" stroke="#231f20" stroke-width="0.12" letter-spacing="-0.35">16</text>
<circle cx="382.40" cy="235.90" r="4.95" fill="#fff" stroke="#8470b0" stroke-width="1.1"/>
<text x="382.23" y="238.35" font-size="6.9" text-anchor="middle" fill="#231f20" stroke="#231f20" stroke-width="0.12" letter-spacing="-0.35">17</text>
<circle cx="382.40" cy="255.80" r="4.95" fill="#fff" stroke="#d43a6f" stroke-width="1.1"/>
<text x="382.23" y="258.25" font-size="6.9" text-anchor="middle" fill="#231f20" stroke="#231f20" stroke-width="0.12" letter-spacing="-0.35">18</text>
<circle cx="382.40" cy="271.80" r="4.95" fill="#fff" stroke="#8470b0" stroke-width="1.1"/>
<text x="382.23" y="274.25" font-size="6.9" text-anchor="middle" fill="#231f20" stroke="#231f20" stroke-width="0.12" letter-spacing="-0.35">19</text>
<circle cx="382.40" cy="288.50" r="4.95" fill="#fff" stroke="#d43a6f" stroke-width="1.1"/>
<text x="382.23" y="290.95" font-size="6.9" text-anchor="middle" fill="#231f20" stroke="#231f20" stroke-width="0.12" letter-spacing="-0.35">20</text>
<circle cx="554.50" cy="350.40" r="4.95" fill="#fff" stroke="#22a7c9" stroke-width="1.1"/>
<text x="554.33" y="352.85" font-size="6.9" text-anchor="middle" fill="#231f20" stroke="#231f20" stroke-width="0.12" letter-spacing="-0.35">21</text>
<circle cx="589.20" cy="377.80" r="4.95" fill="#fff" stroke="#22a7c9" stroke-width="1.1"/>
<text x="589.03" y="380.25" font-size="6.9" text-anchor="middle" fill="#231f20" stroke="#231f20" stroke-width="0.12" letter-spacing="-0.35">22</text>
<circle cx="602.70" cy="386.60" r="4.95" fill="#fff" stroke="#3e5b97" stroke-width="1.1"/>
<text x="602.53" y="389.05" font-size="6.9" text-anchor="middle" fill="#231f20" stroke="#231f20" stroke-width="0.12" letter-spacing="-0.35">23</text>
<circle cx="612.40" cy="402.80" r="4.95" fill="#fff" stroke="#22a7c9" stroke-width="1.1"/>
<text x="612.23" y="405.25" font-size="6.9" text-anchor="middle" fill="#231f20" stroke="#231f20" stroke-width="0.12" letter-spacing="-0.35">24</text>
<circle cx="612.40" cy="414.10" r="4.95" fill="#fff" stroke="#8470b0" stroke-width="1.1"/>
<text x="612.23" y="416.55" font-size="6.9" text-anchor="middle" fill="#231f20" stroke="#231f20" stroke-width="0.12" letter-spacing="-0.35">25</text>
<circle cx="599.20" cy="432.50" r="4.95" fill="#fff" stroke="#2f78ad" stroke-width="1.1"/>
<text x="599.03" y="434.95" font-size="6.9" text-anchor="middle" fill="#231f20" stroke="#231f20" stroke-width="0.12" letter-spacing="-0.35">26</text>
<circle cx="612.00" cy="427.00" r="4.95" fill="#fff" stroke="#22a7c9" stroke-width="1.1"/>
<text x="611.83" y="429.45" font-size="6.9" text-anchor="middle" fill="#231f20" stroke="#231f20" stroke-width="0.12" letter-spacing="-0.35">27</text>
<circle cx="569.50" cy="408.80" r="4.95" fill="#fff" stroke="#d43a6f" stroke-width="1.1"/>
<text x="569.33" y="411.25" font-size="6.9" text-anchor="middle" fill="#231f20" stroke="#231f20" stroke-width="0.12" letter-spacing="-0.35">28</text>
<circle cx="569.50" cy="419.60" r="4.95" fill="#fff" stroke="#9a3c78" stroke-width="1.1"/>
<text x="569.33" y="422.05" font-size="6.9" text-anchor="middle" fill="#231f20" stroke="#231f20" stroke-width="0.12" letter-spacing="-0.35">29</text>
<circle cx="569.50" cy="430.10" r="4.95" fill="#fff" stroke="#9a3c78" stroke-width="1.1"/>
<text x="569.33" y="432.55" font-size="6.9" text-anchor="middle" fill="#231f20" stroke="#231f20" stroke-width="0.12" letter-spacing="-0.35">30</text>
<circle cx="599.20" cy="449.30" r="4.95" fill="#fff" stroke="#2f78ad" stroke-width="1.1"/>
<text x="599.03" y="451.75" font-size="6.9" text-anchor="middle" fill="#231f20" stroke="#231f20" stroke-width="0.12" letter-spacing="-0.35">31</text>
<circle cx="599.20" cy="458.40" r="4.95" fill="#fff" stroke="#2f78ad" stroke-width="1.1"/>
<text x="599.03" y="460.85" font-size="6.9" text-anchor="middle" fill="#231f20" stroke="#231f20" stroke-width="0.12" letter-spacing="-0.35">32</text>
<circle cx="599.20" cy="470.30" r="4.95" fill="#fff" stroke="#2f78ad" stroke-width="1.1"/>
<text x="599.03" y="472.75" font-size="6.9" text-anchor="middle" fill="#231f20" stroke="#231f20" stroke-width="0.12" letter-spacing="-0.35">33</text>
<circle cx="612.00" cy="479.40" r="4.95" fill="#fff" stroke="#22a7c9" stroke-width="1.1"/>
<text x="611.83" y="481.85" font-size="6.9" text-anchor="middle" fill="#231f20" stroke="#231f20" stroke-width="0.12" letter-spacing="-0.35">34</text>
<circle cx="617.50" cy="503.40" r="4.95" fill="#fff" stroke="#2f78ad" stroke-width="1.1"/>
<text x="617.33" y="505.85" font-size="6.9" text-anchor="middle" fill="#231f20" stroke="#231f20" stroke-width="0.12" letter-spacing="-0.35">35</text>
<circle cx="604.10" cy="530.80" r="4.95" fill="#fff" stroke="#22a7c9" stroke-width="1.1"/>
<text x="603.93" y="533.25" font-size="6.9" text-anchor="middle" fill="#231f20" stroke="#231f20" stroke-width="0.12" letter-spacing="-0.35">36</text>
<circle cx="604.10" cy="548.20" r="4.95" fill="#fff" stroke="#22a7c9" stroke-width="1.1"/>
<text x="603.93" y="550.65" font-size="6.9" text-anchor="middle" fill="#231f20" stroke="#231f20" stroke-width="0.12" letter-spacing="-0.35">37</text>
<circle cx="603.80" cy="573.30" r="4.95" fill="#fff" stroke="#2f78ad" stroke-width="1.1"/>
<text x="603.63" y="575.75" font-size="6.9" text-anchor="middle" fill="#231f20" stroke="#231f20" stroke-width="0.12" letter-spacing="-0.35">38</text>
<circle cx="618.80" cy="603.20" r="4.95" fill="#fff" stroke="#3e5b97" stroke-width="1.1"/>
<text x="618.63" y="605.65" font-size="6.9" text-anchor="middle" fill="#231f20" stroke="#231f20" stroke-width="0.12" letter-spacing="-0.35">39</text>
<circle cx="618.80" cy="629.30" r="4.95" fill="#fff" stroke="#2f78ad" stroke-width="1.1"/>
<text x="618.63" y="631.75" font-size="6.9" text-anchor="middle" fill="#231f20" stroke="#231f20" stroke-width="0.12" letter-spacing="-0.35">40</text>
</svg></body></html>
